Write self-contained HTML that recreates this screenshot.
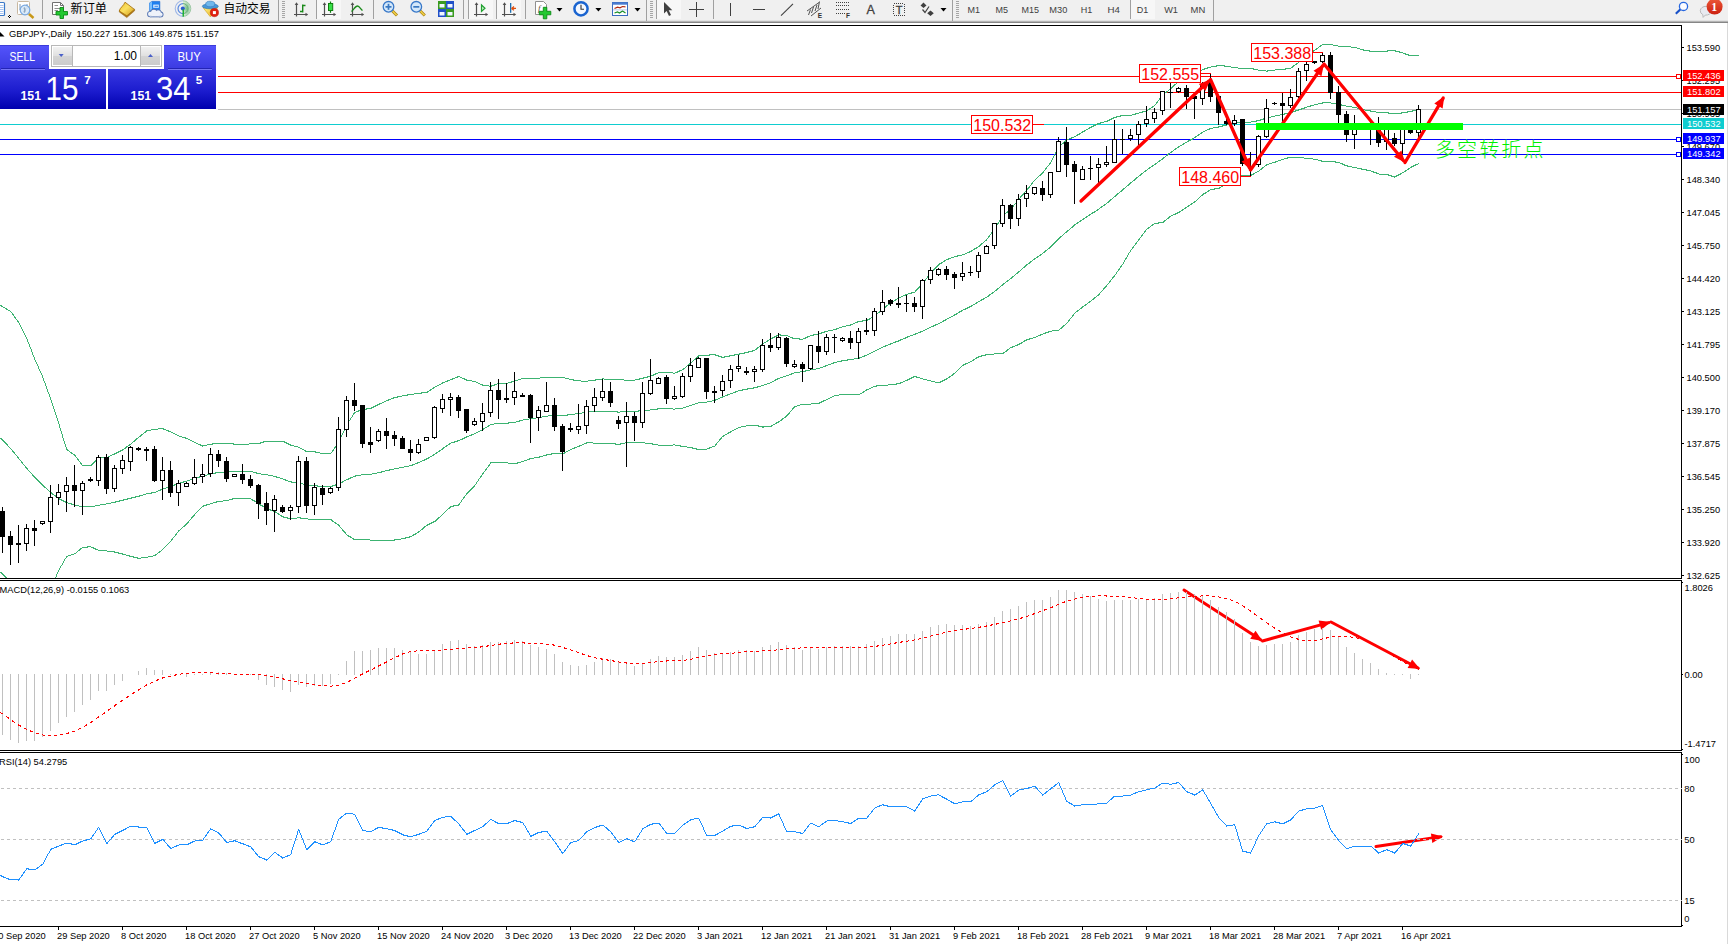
<!DOCTYPE html>
<html><head><meta charset="utf-8"><title>GBPJPY Daily</title>
<style>
html,body{margin:0;padding:0;background:#fff;overflow:hidden}
body{width:1728px;height:944px;position:relative;font-family:'Liberation Sans', 'Noto Sans CJK SC', sans-serif}
svg{position:absolute;left:0;top:0}
text{white-space:pre}
</style></head><body>
<svg width="1728" height="944" viewBox="0 0 1728 944" shape-rendering="crispEdges">
<rect x="0" y="0" width="1728" height="944" fill="#fff"/>
<rect x="0" y="76" width="1681" height="1" fill="#ff0000"/>
<rect x="0" y="92" width="1681" height="1" fill="#ff0000"/>
<rect x="0" y="109" width="1681" height="1" fill="#c0c0c0"/>
<rect x="0" y="124" width="1681" height="1" fill="#0fcdd0"/>
<rect x="0" y="139" width="1681" height="1" fill="#0000ff"/>
<rect x="0" y="154" width="1681" height="1" fill="#0000ff"/>
<clipPath id="cm"><rect x="0" y="26" width="1681" height="552"/></clipPath>
<g clip-path="url(#cm)">
<path d="M0.5 305v1M1.5 305v2M2.5 306v1M3.5 307v1M4.5 307v1M5.5 308v1M6.5 308v2M7.5 309v1M8.5 310v1M9.5 310v1M10.5 311v1M11.5 312v1M12.5 313v2M13.5 314v2M14.5 316v2M15.5 317v2M16.5 319v1M17.5 320v2M18.5 321v2M19.5 323v2M20.5 325v2M21.5 327v2M22.5 329v2M23.5 331v2M24.5 333v2M25.5 335v2M26.5 337v2M27.5 339v3M28.5 342v2M29.5 344v3M30.5 347v2M31.5 349v3M32.5 352v3M33.5 355v2M34.5 357v3M35.5 360v2M36.5 362v2M37.5 364v2M38.5 366v3M39.5 369v2M40.5 371v2M41.5 373v2M42.5 375v3M43.5 378v3M44.5 381v2M45.5 383v3M46.5 386v3M47.5 389v3M48.5 392v2M49.5 394v3M50.5 397v3M51.5 400v3M52.5 403v3M53.5 406v3M54.5 409v3M55.5 412v3M56.5 415v3M57.5 418v3M58.5 421v3M59.5 424v4M60.5 428v3M61.5 431v3M62.5 434v4M63.5 438v3M64.5 441v3M65.5 444v3M66.5 447v3M67.5 449v2M68.5 450v1M69.5 451v1M70.5 452v1M71.5 452v2M72.5 453v1M73.5 454v1M74.5 454v2M75.5 455v2M76.5 457v1M77.5 458v2M78.5 459v2M79.5 461v1M80.5 462v2M81.5 463v2M82.5 465v1M83.5 465v1M84.5 465v1M85.5 465v1M86.5 465v1M87.5 465v1M88.5 465v1M89.5 465v1M90.5 465v1M91.5 464v2M92.5 463v2M93.5 462v2M94.5 461v2M95.5 460v2M96.5 459v2M97.5 459v1M98.5 458v1M99.5 458v1M100.5 457v1M101.5 457v1M102.5 457v1M103.5 457v1M104.5 457v1M105.5 457v1M106.5 457v1M107.5 457v1M108.5 456v1M109.5 456v1M110.5 455v1M111.5 455v1M112.5 454v1M113.5 454v1M114.5 453v2M115.5 453v1M116.5 452v2M117.5 452v1M118.5 451v2M119.5 451v1M120.5 450v2M121.5 450v1M122.5 449v2M123.5 449v1M124.5 448v1M125.5 447v2M126.5 446v2M127.5 446v1M128.5 445v1M129.5 444v2M130.5 444v1M131.5 443v1M132.5 442v1M133.5 441v1M134.5 440v2M135.5 439v2M136.5 438v2M137.5 438v1M138.5 437v1M139.5 436v1M140.5 435v2M141.5 434v2M142.5 434v1M143.5 433v1M144.5 432v1M145.5 431v2M146.5 430v2M147.5 430v1M148.5 430v1M149.5 430v1M150.5 430v1M151.5 429v1M152.5 429v1M153.5 429v1M154.5 429v1M155.5 429v1M156.5 429v1M157.5 429v1M158.5 428v1M159.5 428v1M160.5 428v1M161.5 428v1M162.5 428v1M163.5 428v2M164.5 429v1M165.5 429v1M166.5 430v1M167.5 430v1M168.5 430v2M169.5 431v1M170.5 431v1M171.5 432v1M172.5 432v1M173.5 433v1M174.5 433v1M175.5 434v1M176.5 434v1M177.5 435v1M178.5 435v1M179.5 436v1M180.5 436v1M181.5 436v1M182.5 437v1M183.5 437v1M184.5 437v1M185.5 437v2M186.5 438v1M187.5 438v1M188.5 439v1M189.5 439v1M190.5 440v1M191.5 440v1M192.5 441v1M193.5 441v1M194.5 442v1M195.5 442v1M196.5 443v1M197.5 443v1M198.5 444v1M199.5 444v1M200.5 444v2M201.5 445v1M202.5 445v2M203.5 445v1M204.5 445v1M205.5 445v1M206.5 445v1M207.5 444v1M208.5 444v1M209.5 444v1M210.5 444v1M211.5 444v1M212.5 443v2M213.5 443v1M214.5 443v1M215.5 443v1M216.5 443v1M217.5 443v1M218.5 443v1M219.5 443v1M220.5 443v1M221.5 443v1M222.5 443v1M223.5 443v1M224.5 443v1M225.5 443v1M226.5 443v1M227.5 443v1M228.5 443v1M229.5 443v1M230.5 443v1M231.5 443v1M232.5 443v1M233.5 443v2M234.5 444v1M235.5 444v1M236.5 444v1M237.5 444v1M238.5 444v1M239.5 444v1M240.5 444v1M241.5 444v1M242.5 444v1M243.5 444v1M244.5 444v1M245.5 444v1M246.5 444v1M247.5 444v1M248.5 444v1M249.5 443v1M250.5 443v1M251.5 443v1M252.5 443v1M253.5 443v1M254.5 443v1M255.5 443v1M256.5 443v1M257.5 443v1M258.5 443v1M259.5 443v1M260.5 442v2M261.5 442v1M262.5 442v1M263.5 441v2M264.5 441v1M265.5 441v1M266.5 441v1M267.5 441v1M268.5 441v1M269.5 441v1M270.5 441v1M271.5 441v1M272.5 441v1M273.5 441v1M274.5 441v1M275.5 441v1M276.5 441v1M277.5 441v1M278.5 441v1M279.5 441v1M280.5 441v1M281.5 441v1M282.5 441v1M283.5 441v1M284.5 441v2M285.5 442v1M286.5 442v2M287.5 443v1M288.5 443v2M289.5 444v1M290.5 444v2M291.5 445v1M292.5 445v1M293.5 445v1M294.5 446v1M295.5 446v1M296.5 446v1M297.5 446v1M298.5 447v1M299.5 447v1M300.5 448v1M301.5 448v1M302.5 449v1M303.5 449v1M304.5 450v1M305.5 450v2M306.5 451v1M307.5 451v1M308.5 451v1M309.5 451v1M310.5 451v1M311.5 451v1M312.5 451v1M313.5 451v1M314.5 451v1M315.5 451v2M316.5 452v1M317.5 452v1M318.5 452v1M319.5 452v1M320.5 453v1M321.5 453v1M322.5 453v1M323.5 453v1M324.5 453v1M325.5 453v1M326.5 453v1M327.5 453v1M328.5 453v1M329.5 453v1M330.5 453v1M331.5 452v1M332.5 450v2M333.5 449v2M334.5 447v2M335.5 446v2M336.5 445v1M337.5 443v2M338.5 442v2M339.5 440v2M340.5 437v3M341.5 435v2M342.5 433v2M343.5 431v2M344.5 428v3M345.5 426v2M346.5 424v2M347.5 423v1M348.5 421v2M349.5 420v1M350.5 418v2M351.5 417v1M352.5 415v2M353.5 413v2M354.5 412v2M355.5 412v1M356.5 411v1M357.5 411v1M358.5 410v2M359.5 410v1M360.5 410v1M361.5 409v2M362.5 409v1M363.5 409v1M364.5 409v1M365.5 409v1M366.5 408v2M367.5 408v1M368.5 408v1M369.5 408v1M370.5 408v1M371.5 407v2M372.5 407v1M373.5 406v2M374.5 406v1M375.5 405v2M376.5 405v1M377.5 404v2M378.5 404v1M379.5 403v2M380.5 403v1M381.5 403v1M382.5 402v1M383.5 402v1M384.5 401v1M385.5 401v1M386.5 400v1M387.5 400v1M388.5 399v2M389.5 399v1M390.5 399v1M391.5 398v1M392.5 398v1M393.5 397v2M394.5 397v1M395.5 397v1M396.5 397v1M397.5 396v2M398.5 396v1M399.5 396v1M400.5 396v1M401.5 396v1M402.5 395v1M403.5 395v1M404.5 395v1M405.5 395v1M406.5 395v1M407.5 394v2M408.5 394v1M409.5 394v1M410.5 394v1M411.5 394v1M412.5 394v1M413.5 394v1M414.5 393v1M415.5 393v1M416.5 393v1M417.5 393v1M418.5 393v1M419.5 393v1M420.5 393v1M421.5 392v2M422.5 392v1M423.5 392v1M424.5 392v1M425.5 392v1M426.5 392v1M427.5 391v2M428.5 391v1M429.5 390v1M430.5 389v2M431.5 389v1M432.5 388v1M433.5 387v2M434.5 387v1M435.5 386v1M436.5 386v1M437.5 385v1M438.5 385v1M439.5 384v1M440.5 384v1M441.5 383v1M442.5 382v2M443.5 382v1M444.5 382v1M445.5 381v1M446.5 381v1M447.5 380v2M448.5 380v1M449.5 380v1M450.5 379v1M451.5 379v1M452.5 378v2M453.5 378v1M454.5 378v1M455.5 377v1M456.5 377v1M457.5 376v2M458.5 376v1M459.5 376v1M460.5 377v1M461.5 377v1M462.5 378v1M463.5 378v1M464.5 378v2M465.5 379v1M466.5 379v2M467.5 380v1M468.5 380v1M469.5 380v1M470.5 380v1M471.5 380v1M472.5 381v1M473.5 381v1M474.5 381v1M475.5 381v1M476.5 382v1M477.5 382v1M478.5 383v1M479.5 383v1M480.5 384v1M481.5 384v1M482.5 384v2M483.5 385v1M484.5 385v1M485.5 385v1M486.5 385v1M487.5 385v1M488.5 385v1M489.5 386v1M490.5 386v1M491.5 385v2M492.5 385v1M493.5 385v1M494.5 384v2M495.5 384v1M496.5 384v1M497.5 383v1M498.5 383v1M499.5 383v1M500.5 383v1M501.5 383v1M502.5 383v1M503.5 383v1M504.5 383v1M505.5 383v1M506.5 383v1M507.5 383v1M508.5 382v1M509.5 382v1M510.5 382v1M511.5 381v2M512.5 381v1M513.5 381v1M514.5 380v2M515.5 380v1M516.5 380v1M517.5 380v1M518.5 379v1M519.5 379v1M520.5 379v1M521.5 378v1M522.5 378v1M523.5 378v1M524.5 378v1M525.5 378v1M526.5 378v1M527.5 378v1M528.5 378v1M529.5 378v1M530.5 378v1M531.5 378v1M532.5 378v1M533.5 378v1M534.5 378v1M535.5 378v1M536.5 378v1M537.5 378v1M538.5 378v1M539.5 378v1M540.5 377v1M541.5 377v1M542.5 377v1M543.5 377v1M544.5 377v1M545.5 377v1M546.5 377v1M547.5 377v1M548.5 377v1M549.5 377v1M550.5 377v1M551.5 377v1M552.5 377v1M553.5 377v1M554.5 377v1M555.5 377v1M556.5 377v1M557.5 377v1M558.5 377v1M559.5 377v1M560.5 377v1M561.5 377v1M562.5 377v1M563.5 377v1M564.5 377v1M565.5 378v1M566.5 378v1M567.5 378v1M568.5 378v1M569.5 379v1M570.5 379v1M571.5 379v1M572.5 379v1M573.5 379v2M574.5 380v1M575.5 380v1M576.5 380v1M577.5 380v1M578.5 380v1M579.5 380v1M580.5 380v1M581.5 381v1M582.5 381v1M583.5 381v1M584.5 381v1M585.5 381v1M586.5 381v1M587.5 381v1M588.5 380v1M589.5 380v1M590.5 380v1M591.5 380v1M592.5 380v1M593.5 380v1M594.5 380v1M595.5 379v2M596.5 379v1M597.5 379v1M598.5 379v1M599.5 379v1M600.5 379v1M601.5 379v1M602.5 378v1M603.5 378v1M604.5 379v1M605.5 379v1M606.5 379v1M607.5 379v1M608.5 379v1M609.5 379v1M610.5 379v1M611.5 379v1M612.5 379v1M613.5 379v1M614.5 379v1M615.5 379v1M616.5 379v1M617.5 379v1M618.5 379v1M619.5 379v1M620.5 379v1M621.5 379v1M622.5 379v1M623.5 379v1M624.5 380v1M625.5 380v1M626.5 380v1M627.5 380v1M628.5 380v1M629.5 380v1M630.5 380v1M631.5 380v1M632.5 380v1M633.5 380v1M634.5 380v1M635.5 379v1M636.5 379v1M637.5 379v1M638.5 379v1M639.5 378v2M640.5 378v1M641.5 378v1M642.5 378v1M643.5 377v2M644.5 377v1M645.5 377v1M646.5 377v1M647.5 376v2M648.5 376v1M649.5 376v1M650.5 376v1M651.5 375v1M652.5 375v1M653.5 374v2M654.5 374v1M655.5 373v2M656.5 373v1M657.5 373v1M658.5 372v1M659.5 372v1M660.5 372v1M661.5 372v1M662.5 372v1M663.5 372v1M664.5 372v1M665.5 372v1M666.5 372v1M667.5 372v1M668.5 372v1M669.5 372v1M670.5 372v1M671.5 372v1M672.5 372v1M673.5 373v1M674.5 373v1M675.5 372v1M676.5 372v1M677.5 371v2M678.5 371v1M679.5 370v2M680.5 370v1M681.5 370v1M682.5 369v1M683.5 368v2M684.5 368v1M685.5 367v1M686.5 366v1M687.5 365v1M688.5 364v2M689.5 363v2M690.5 363v1M691.5 362v1M692.5 361v1M693.5 360v1M694.5 359v1M695.5 358v2M696.5 357v2M697.5 356v2M698.5 355v2M699.5 355v1M700.5 355v1M701.5 355v1M702.5 355v1M703.5 355v1M704.5 355v1M705.5 355v1M706.5 355v1M707.5 355v1M708.5 355v1M709.5 354v2M710.5 354v1M711.5 354v1M712.5 354v1M713.5 354v1M714.5 354v1M715.5 354v2M716.5 355v1M717.5 355v1M718.5 355v2M719.5 356v1M720.5 356v1M721.5 356v2M722.5 357v1M723.5 357v1M724.5 356v2M725.5 356v1M726.5 356v1M727.5 356v1M728.5 356v1M729.5 355v2M730.5 355v1M731.5 355v1M732.5 355v1M733.5 355v1M734.5 354v2M735.5 354v1M736.5 354v1M737.5 354v1M738.5 354v1M739.5 353v2M740.5 353v1M741.5 353v1M742.5 353v1M743.5 353v1M744.5 352v2M745.5 352v1M746.5 352v1M747.5 352v1M748.5 351v2M749.5 351v1M750.5 351v1M751.5 351v1M752.5 350v2M753.5 350v1M754.5 350v1M755.5 349v1M756.5 348v2M757.5 347v2M758.5 347v1M759.5 346v1M760.5 345v1M761.5 344v2M762.5 343v2M763.5 343v1M764.5 342v1M765.5 342v1M766.5 341v1M767.5 340v2M768.5 340v1M769.5 339v1M770.5 338v2M771.5 338v1M772.5 337v2M773.5 337v1M774.5 336v2M775.5 336v1M776.5 335v2M777.5 335v1M778.5 334v2M779.5 334v1M780.5 334v2M781.5 335v1M782.5 335v1M783.5 335v1M784.5 335v1M785.5 335v1M786.5 335v1M787.5 335v1M788.5 336v1M789.5 336v1M790.5 337v1M791.5 337v1M792.5 337v2M793.5 338v1M794.5 338v1M795.5 338v1M796.5 338v1M797.5 338v1M798.5 338v1M799.5 338v2M800.5 339v1M801.5 339v1M802.5 339v1M803.5 338v1M804.5 338v1M805.5 337v2M806.5 337v1M807.5 336v2M808.5 336v1M809.5 336v1M810.5 335v1M811.5 335v1M812.5 335v1M813.5 334v2M814.5 334v1M815.5 334v1M816.5 334v1M817.5 334v1M818.5 333v1M819.5 333v1M820.5 333v1M821.5 332v2M822.5 332v1M823.5 332v1M824.5 331v2M825.5 331v1M826.5 331v1M827.5 331v1M828.5 330v1M829.5 330v1M830.5 330v1M831.5 330v1M832.5 330v1M833.5 329v1M834.5 329v1M835.5 329v1M836.5 328v2M837.5 328v1M838.5 328v1M839.5 327v1M840.5 327v1M841.5 327v1M842.5 326v1M843.5 326v1M844.5 326v1M845.5 326v1M846.5 325v1M847.5 325v1M848.5 325v1M849.5 325v1M850.5 324v2M851.5 324v1M852.5 324v1M853.5 323v1M854.5 323v1M855.5 322v1M856.5 322v1M857.5 321v2M858.5 321v1M859.5 321v1M860.5 321v1M861.5 321v1M862.5 320v2M863.5 320v1M864.5 320v1M865.5 320v1M866.5 320v1M867.5 319v2M868.5 319v1M869.5 318v2M870.5 318v1M871.5 317v1M872.5 317v1M873.5 316v1M874.5 316v1M875.5 315v1M876.5 314v1M877.5 313v1M878.5 312v1M879.5 311v2M880.5 310v2M881.5 309v2M882.5 308v2M883.5 308v1M884.5 307v1M885.5 306v2M886.5 305v2M887.5 305v1M888.5 304v1M889.5 303v2M890.5 302v2M891.5 302v1M892.5 301v2M893.5 301v1M894.5 300v1M895.5 299v2M896.5 299v1M897.5 298v1M898.5 298v1M899.5 297v1M900.5 297v1M901.5 296v1M902.5 296v1M903.5 295v1M904.5 295v1M905.5 294v2M906.5 294v1M907.5 294v1M908.5 293v1M909.5 293v1M910.5 293v1M911.5 292v2M912.5 292v1M913.5 292v1M914.5 292v1M915.5 290v2M916.5 289v2M917.5 288v2M918.5 287v2M919.5 286v2M920.5 285v1M921.5 284v1M922.5 283v1M923.5 281v2M924.5 280v2M925.5 279v2M926.5 278v1M927.5 276v2M928.5 275v2M929.5 274v2M930.5 273v1M931.5 272v1M932.5 271v1M933.5 269v2M934.5 268v2M935.5 267v2M936.5 266v2M937.5 265v2M938.5 264v2M939.5 263v2M940.5 263v1M941.5 262v2M942.5 262v1M943.5 261v1M944.5 260v2M945.5 260v1M946.5 259v1M947.5 259v1M948.5 258v2M949.5 258v1M950.5 258v1M951.5 257v1M952.5 257v1M953.5 257v1M954.5 256v1M955.5 256v1M956.5 256v1M957.5 255v2M958.5 255v1M959.5 255v1M960.5 255v1M961.5 255v1M962.5 254v1M963.5 254v1M964.5 254v1M965.5 253v1M966.5 253v1M967.5 252v1M968.5 252v1M969.5 251v2M970.5 251v1M971.5 250v2M972.5 250v1M973.5 249v1M974.5 248v2M975.5 248v1M976.5 247v2M977.5 247v1M978.5 246v1M979.5 245v2M980.5 244v2M981.5 243v2M982.5 243v1M983.5 242v1M984.5 241v1M985.5 240v1M986.5 239v2M987.5 238v1M988.5 236v2M989.5 235v2M990.5 234v1M991.5 232v2M992.5 231v2M993.5 230v1M994.5 228v2M995.5 227v1M996.5 225v2M997.5 223v2M998.5 222v2M999.5 220v2M1000.5 218v2M1001.5 217v2M1002.5 215v2M1003.5 214v2M1004.5 214v1M1005.5 213v1M1006.5 212v1M1007.5 211v2M1008.5 210v2M1009.5 210v1M1010.5 209v1M1011.5 208v1M1012.5 206v2M1013.5 205v2M1014.5 204v1M1015.5 203v1M1016.5 201v2M1017.5 200v2M1018.5 199v1M1019.5 198v1M1020.5 196v2M1021.5 195v2M1022.5 194v2M1023.5 193v2M1024.5 192v2M1025.5 191v1M1026.5 190v1M1027.5 188v2M1028.5 187v2M1029.5 186v2M1030.5 185v1M1031.5 183v2M1032.5 182v2M1033.5 181v1M1034.5 180v1M1035.5 179v1M1036.5 178v1M1037.5 177v1M1038.5 176v1M1039.5 175v1M1040.5 174v2M1041.5 173v2M1042.5 172v2M1043.5 171v2M1044.5 170v1M1045.5 168v2M1046.5 167v2M1047.5 166v1M1048.5 165v1M1049.5 163v2M1050.5 162v2M1051.5 160v2M1052.5 158v2M1053.5 156v2M1054.5 154v2M1055.5 152v2M1056.5 150v2M1057.5 149v1M1058.5 147v2M1059.5 146v1M1060.5 145v1M1061.5 144v1M1062.5 143v1M1063.5 142v2M1064.5 141v2M1065.5 140v2M1066.5 139v2M1067.5 139v1M1068.5 139v1M1069.5 138v1M1070.5 138v1M1071.5 137v2M1072.5 137v1M1073.5 137v1M1074.5 136v1M1075.5 136v1M1076.5 135v1M1077.5 134v2M1078.5 134v1M1079.5 133v2M1080.5 133v1M1081.5 132v1M1082.5 131v2M1083.5 131v1M1084.5 130v2M1085.5 130v1M1086.5 129v1M1087.5 129v1M1088.5 128v1M1089.5 127v2M1090.5 127v1M1091.5 126v2M1092.5 126v1M1093.5 125v2M1094.5 125v1M1095.5 124v2M1096.5 124v1M1097.5 123v2M1098.5 123v1M1099.5 123v1M1100.5 122v2M1101.5 122v1M1102.5 122v1M1103.5 122v1M1104.5 121v1M1105.5 121v1M1106.5 121v1M1107.5 120v2M1108.5 120v1M1109.5 119v2M1110.5 119v1M1111.5 118v2M1112.5 118v1M1113.5 117v2M1114.5 117v1M1115.5 117v1M1116.5 116v2M1117.5 116v1M1118.5 116v1M1119.5 116v1M1120.5 115v2M1121.5 115v1M1122.5 115v1M1123.5 115v1M1124.5 115v1M1125.5 115v1M1126.5 115v1M1127.5 115v1M1128.5 115v1M1129.5 115v1M1130.5 115v1M1131.5 115v1M1132.5 114v1M1133.5 114v1M1134.5 114v1M1135.5 113v2M1136.5 113v1M1137.5 113v1M1138.5 113v1M1139.5 112v1M1140.5 112v1M1141.5 112v1M1142.5 111v2M1143.5 111v1M1144.5 111v1M1145.5 111v1M1146.5 110v1M1147.5 110v1M1148.5 109v1M1149.5 108v2M1150.5 108v1M1151.5 107v1M1152.5 106v2M1153.5 106v1M1154.5 105v1M1155.5 104v1M1156.5 102v2M1157.5 101v2M1158.5 100v1M1159.5 98v2M1160.5 97v2M1161.5 96v1M1162.5 94v2M1163.5 94v1M1164.5 93v1M1165.5 92v1M1166.5 91v2M1167.5 91v1M1168.5 90v1M1169.5 89v1M1170.5 88v2M1171.5 87v2M1172.5 86v2M1173.5 85v2M1174.5 84v2M1175.5 84v1M1176.5 83v1M1177.5 82v1M1178.5 81v1M1179.5 80v1M1180.5 80v1M1181.5 79v1M1182.5 79v1M1183.5 78v1M1184.5 77v2M1185.5 77v1M1186.5 76v2M1187.5 76v1M1188.5 75v2M1189.5 75v1M1190.5 75v1M1191.5 74v1M1192.5 74v1M1193.5 73v1M1194.5 73v1M1195.5 72v2M1196.5 72v1M1197.5 71v2M1198.5 71v1M1199.5 71v1M1200.5 70v1M1201.5 70v1M1202.5 69v1M1203.5 69v1M1204.5 68v2M1205.5 68v1M1206.5 68v1M1207.5 67v2M1208.5 67v1M1209.5 67v1M1210.5 67v1M1211.5 66v1M1212.5 66v1M1213.5 66v1M1214.5 66v1M1215.5 66v1M1216.5 65v2M1217.5 65v1M1218.5 65v1M1219.5 65v1M1220.5 65v1M1221.5 65v1M1222.5 65v1M1223.5 65v1M1224.5 65v2M1225.5 66v1M1226.5 66v1M1227.5 66v1M1228.5 66v1M1229.5 66v1M1230.5 66v1M1231.5 67v1M1232.5 67v1M1233.5 67v1M1234.5 67v1M1235.5 67v1M1236.5 67v1M1237.5 67v1M1238.5 68v1M1239.5 68v1M1240.5 68v1M1241.5 68v1M1242.5 68v1M1243.5 68v1M1244.5 68v1M1245.5 68v1M1246.5 68v1M1247.5 68v1M1248.5 68v1M1249.5 68v1M1250.5 68v1M1251.5 68v1M1252.5 68v1M1253.5 68v2M1254.5 69v1M1255.5 69v1M1256.5 69v1M1257.5 69v1M1258.5 70v1M1259.5 70v1M1260.5 70v1M1261.5 70v1M1262.5 70v1M1263.5 70v1M1264.5 70v1M1265.5 70v1M1266.5 71v1M1267.5 70v2M1268.5 70v1M1269.5 70v1M1270.5 70v1M1271.5 70v1M1272.5 70v1M1273.5 70v1M1274.5 70v1M1275.5 69v1M1276.5 69v1M1277.5 69v1M1278.5 69v1M1279.5 69v1M1280.5 69v1M1281.5 69v1M1282.5 69v1M1283.5 69v1M1284.5 69v1M1285.5 68v2M1286.5 68v1M1287.5 68v1M1288.5 68v1M1289.5 68v1M1290.5 68v1M1291.5 67v1M1292.5 66v2M1293.5 65v2M1294.5 65v1M1295.5 64v1M1296.5 63v2M1297.5 63v1M1298.5 62v1M1299.5 61v1M1300.5 60v2M1301.5 59v2M1302.5 59v1M1303.5 58v1M1304.5 57v1M1305.5 56v2M1306.5 55v2M1307.5 55v1M1308.5 54v1M1309.5 53v2M1310.5 53v1M1311.5 52v1M1312.5 51v1M1313.5 50v2M1314.5 50v1M1315.5 49v1M1316.5 48v2M1317.5 48v1M1318.5 47v1M1319.5 46v1M1320.5 45v2M1321.5 45v1M1322.5 44v1M1323.5 44v1M1324.5 44v1M1325.5 44v1M1326.5 44v1M1327.5 44v1M1328.5 44v1M1329.5 44v1M1330.5 44v1M1331.5 44v1M1332.5 44v1M1333.5 45v1M1334.5 45v1M1335.5 45v1M1336.5 45v1M1337.5 45v1M1338.5 46v1M1339.5 46v1M1340.5 46v1M1341.5 46v1M1342.5 46v1M1343.5 46v1M1344.5 46v1M1345.5 46v1M1346.5 46v1M1347.5 46v1M1348.5 46v1M1349.5 46v1M1350.5 46v1M1351.5 47v1M1352.5 47v1M1353.5 47v1M1354.5 47v1M1355.5 47v1M1356.5 47v1M1357.5 48v1M1358.5 48v1M1359.5 48v1M1360.5 49v1M1361.5 49v1M1362.5 49v1M1363.5 49v2M1364.5 50v1M1365.5 50v1M1366.5 50v1M1367.5 50v1M1368.5 50v1M1369.5 50v2M1370.5 51v1M1371.5 51v1M1372.5 51v1M1373.5 51v1M1374.5 51v1M1375.5 51v1M1376.5 51v1M1377.5 51v1M1378.5 51v1M1379.5 51v1M1380.5 51v1M1381.5 51v1M1382.5 51v1M1383.5 51v1M1384.5 51v1M1385.5 51v1M1386.5 51v1M1387.5 50v2M1388.5 50v1M1389.5 50v1M1390.5 50v1M1391.5 50v1M1392.5 50v1M1393.5 50v1M1394.5 50v1M1395.5 50v2M1396.5 51v1M1397.5 51v1M1398.5 51v1M1399.5 51v2M1400.5 52v1M1401.5 52v1M1402.5 52v1M1403.5 53v1M1404.5 53v1M1405.5 53v2M1406.5 54v1M1407.5 54v1M1408.5 54v2M1409.5 55v1M1410.5 55v1M1411.5 55v1M1412.5 55v1M1413.5 55v1M1414.5 55v1M1415.5 55v1M1416.5 55v1M1417.5 55v1M1418.5 55v1" fill="none" stroke="#3cb371" stroke-width="1"/>
<path d="M0.5 438v1M1.5 438v2M2.5 439v2M3.5 440v2M4.5 441v2M5.5 442v2M6.5 443v2M7.5 444v2M8.5 446v1M9.5 447v1M10.5 448v1M11.5 449v1M12.5 450v2M13.5 451v2M14.5 452v2M15.5 454v1M16.5 455v1M17.5 456v2M18.5 457v2M19.5 459v1M20.5 460v1M21.5 461v2M22.5 462v2M23.5 464v1M24.5 465v1M25.5 466v2M26.5 467v2M27.5 468v2M28.5 470v1M29.5 471v1M30.5 472v1M31.5 473v1M32.5 474v2M33.5 475v2M34.5 476v2M35.5 477v2M36.5 478v2M37.5 479v2M38.5 480v2M39.5 481v2M40.5 482v2M41.5 483v2M42.5 484v2M43.5 485v2M44.5 486v2M45.5 487v1M46.5 488v1M47.5 489v1M48.5 490v1M49.5 491v1M50.5 492v1M51.5 492v2M52.5 493v2M53.5 494v1M54.5 495v1M55.5 495v2M56.5 496v2M57.5 497v1M58.5 498v1M59.5 498v2M60.5 499v1M61.5 499v2M62.5 500v1M63.5 500v2M64.5 501v1M65.5 501v2M66.5 502v1M67.5 502v1M68.5 503v1M69.5 503v1M70.5 503v1M71.5 503v2M72.5 504v1M73.5 504v1M74.5 504v2M75.5 505v1M76.5 505v1M77.5 505v1M78.5 505v1M79.5 506v1M80.5 506v1M81.5 506v1M82.5 506v1M83.5 506v1M84.5 506v1M85.5 506v1M86.5 506v1M87.5 506v1M88.5 506v1M89.5 506v1M90.5 506v1M91.5 506v1M92.5 506v1M93.5 506v1M94.5 506v1M95.5 505v1M96.5 505v1M97.5 505v1M98.5 505v1M99.5 505v1M100.5 504v1M101.5 504v1M102.5 504v1M103.5 504v1M104.5 504v1M105.5 504v1M106.5 503v1M107.5 503v1M108.5 503v1M109.5 503v1M110.5 503v1M111.5 502v1M112.5 502v1M113.5 502v1M114.5 502v1M115.5 501v2M116.5 501v1M117.5 501v1M118.5 501v1M119.5 500v2M120.5 500v1M121.5 500v1M122.5 500v1M123.5 499v2M124.5 499v1M125.5 499v1M126.5 499v1M127.5 498v2M128.5 498v1M129.5 498v1M130.5 498v1M131.5 497v2M132.5 497v1M133.5 497v1M134.5 497v1M135.5 496v2M136.5 496v1M137.5 496v1M138.5 496v1M139.5 495v2M140.5 495v1M141.5 495v1M142.5 495v1M143.5 494v1M144.5 494v1M145.5 494v1M146.5 493v1M147.5 493v1M148.5 493v1M149.5 493v1M150.5 493v1M151.5 492v2M152.5 492v1M153.5 492v1M154.5 492v1M155.5 492v1M156.5 491v1M157.5 491v1M158.5 490v1M159.5 490v1M160.5 489v2M161.5 489v1M162.5 489v1M163.5 488v1M164.5 488v1M165.5 488v1M166.5 487v1M167.5 487v1M168.5 487v1M169.5 486v1M170.5 486v1M171.5 486v1M172.5 485v1M173.5 485v1M174.5 484v2M175.5 484v1M176.5 484v1M177.5 483v1M178.5 483v1M179.5 483v1M180.5 482v1M181.5 482v1M182.5 482v1M183.5 481v2M184.5 481v1M185.5 481v1M186.5 481v1M187.5 480v1M188.5 480v1M189.5 480v1M190.5 479v1M191.5 479v1M192.5 479v1M193.5 478v1M194.5 478v1M195.5 478v1M196.5 477v2M197.5 477v1M198.5 477v1M199.5 476v2M200.5 476v1M201.5 476v1M202.5 476v1M203.5 475v1M204.5 475v1M205.5 475v1M206.5 475v1M207.5 474v1M208.5 474v1M209.5 474v1M210.5 473v2M211.5 473v1M212.5 473v1M213.5 473v1M214.5 473v1M215.5 472v2M216.5 472v1M217.5 472v1M218.5 472v1M219.5 472v1M220.5 472v1M221.5 472v1M222.5 472v1M223.5 472v1M224.5 472v1M225.5 472v1M226.5 472v1M227.5 471v2M228.5 471v1M229.5 471v1M230.5 471v1M231.5 471v1M232.5 471v1M233.5 471v1M234.5 471v1M235.5 471v1M236.5 471v1M237.5 471v1M238.5 471v1M239.5 471v1M240.5 471v1M241.5 471v1M242.5 471v1M243.5 471v1M244.5 471v1M245.5 471v1M246.5 471v1M247.5 471v1M248.5 471v1M249.5 471v1M250.5 471v1M251.5 471v1M252.5 471v1M253.5 472v1M254.5 472v1M255.5 472v1M256.5 472v2M257.5 473v1M258.5 473v1M259.5 473v1M260.5 473v1M261.5 474v1M262.5 474v1M263.5 474v1M264.5 474v1M265.5 474v1M266.5 474v1M267.5 474v1M268.5 475v1M269.5 475v1M270.5 475v1M271.5 475v1M272.5 475v1M273.5 476v1M274.5 476v1M275.5 476v1M276.5 476v2M277.5 477v1M278.5 477v1M279.5 477v1M280.5 478v1M281.5 478v1M282.5 478v1M283.5 479v1M284.5 479v1M285.5 479v2M286.5 480v1M287.5 480v1M288.5 481v1M289.5 481v1M290.5 481v1M291.5 481v2M292.5 482v1M293.5 482v1M294.5 482v1M295.5 482v1M296.5 482v1M297.5 482v1M298.5 482v1M299.5 482v1M300.5 483v1M301.5 483v1M302.5 483v1M303.5 484v1M304.5 484v1M305.5 484v1M306.5 485v1M307.5 485v1M308.5 485v1M309.5 485v1M310.5 485v1M311.5 485v1M312.5 485v1M313.5 485v1M314.5 485v1M315.5 485v1M316.5 485v1M317.5 485v2M318.5 486v1M319.5 486v1M320.5 486v1M321.5 486v1M322.5 486v1M323.5 486v1M324.5 486v1M325.5 486v1M326.5 486v1M327.5 486v1M328.5 486v1M329.5 486v1M330.5 486v1M331.5 486v1M332.5 485v2M333.5 485v1M334.5 485v1M335.5 484v2M336.5 484v1M337.5 484v1M338.5 483v2M339.5 483v1M340.5 482v2M341.5 482v1M342.5 481v2M343.5 481v1M344.5 480v1M345.5 480v1M346.5 479v1M347.5 479v1M348.5 478v2M349.5 478v1M350.5 477v2M351.5 477v1M352.5 477v1M353.5 476v1M354.5 476v1M355.5 475v2M356.5 475v1M357.5 475v1M358.5 475v1M359.5 475v1M360.5 475v1M361.5 474v1M362.5 474v1M363.5 474v1M364.5 474v1M365.5 474v1M366.5 474v1M367.5 474v1M368.5 474v1M369.5 474v1M370.5 474v1M371.5 474v1M372.5 473v1M373.5 473v1M374.5 473v1M375.5 473v1M376.5 473v1M377.5 472v1M378.5 472v1M379.5 472v1M380.5 472v1M381.5 471v2M382.5 471v1M383.5 471v1M384.5 471v1M385.5 470v1M386.5 470v1M387.5 470v1M388.5 470v1M389.5 469v2M390.5 469v1M391.5 469v1M392.5 469v1M393.5 469v1M394.5 468v1M395.5 468v1M396.5 468v1M397.5 468v1M398.5 468v1M399.5 467v1M400.5 467v1M401.5 467v1M402.5 467v1M403.5 467v1M404.5 466v1M405.5 466v1M406.5 466v1M407.5 466v1M408.5 466v1M409.5 465v1M410.5 465v1M411.5 465v1M412.5 464v2M413.5 464v1M414.5 464v1M415.5 463v1M416.5 463v1M417.5 462v2M418.5 462v1M419.5 462v1M420.5 461v1M421.5 461v1M422.5 460v1M423.5 460v1M424.5 459v2M425.5 459v1M426.5 458v2M427.5 458v1M428.5 457v2M429.5 457v1M430.5 456v1M431.5 456v1M432.5 455v1M433.5 454v2M434.5 454v1M435.5 453v1M436.5 452v2M437.5 452v1M438.5 451v1M439.5 450v2M440.5 450v1M441.5 449v1M442.5 448v2M443.5 447v2M444.5 447v1M445.5 446v1M446.5 445v2M447.5 445v1M448.5 444v1M449.5 443v2M450.5 443v1M451.5 442v1M452.5 442v1M453.5 442v1M454.5 441v2M455.5 441v1M456.5 441v1M457.5 440v2M458.5 440v1M459.5 440v1M460.5 439v1M461.5 439v1M462.5 438v2M463.5 438v1M464.5 437v2M465.5 437v1M466.5 436v2M467.5 436v1M468.5 436v1M469.5 435v1M470.5 435v1M471.5 434v2M472.5 434v1M473.5 434v1M474.5 433v1M475.5 433v1M476.5 432v1M477.5 432v1M478.5 431v1M479.5 431v1M480.5 430v1M481.5 430v1M482.5 429v1M483.5 428v2M484.5 428v1M485.5 427v1M486.5 427v1M487.5 426v1M488.5 425v2M489.5 425v1M490.5 424v1M491.5 424v1M492.5 424v1M493.5 424v1M494.5 423v1M495.5 423v1M496.5 423v1M497.5 423v1M498.5 423v1M499.5 423v1M500.5 423v1M501.5 423v1M502.5 423v1M503.5 423v1M504.5 423v1M505.5 423v1M506.5 423v1M507.5 423v1M508.5 422v2M509.5 422v1M510.5 422v1M511.5 422v1M512.5 422v1M513.5 422v1M514.5 422v1M515.5 422v1M516.5 421v1M517.5 421v1M518.5 421v1M519.5 420v2M520.5 420v1M521.5 420v1M522.5 420v1M523.5 419v1M524.5 419v1M525.5 419v1M526.5 419v1M527.5 419v1M528.5 419v1M529.5 418v1M530.5 418v1M531.5 418v1M532.5 418v1M533.5 418v1M534.5 418v1M535.5 418v1M536.5 417v1M537.5 417v1M538.5 417v1M539.5 417v1M540.5 417v1M541.5 417v1M542.5 416v1M543.5 416v1M544.5 416v1M545.5 416v1M546.5 416v1M547.5 416v1M548.5 415v1M549.5 415v1M550.5 415v1M551.5 415v1M552.5 415v1M553.5 415v1M554.5 415v1M555.5 415v1M556.5 415v1M557.5 415v1M558.5 415v1M559.5 415v1M560.5 415v1M561.5 415v1M562.5 415v1M563.5 415v1M564.5 415v1M565.5 415v1M566.5 415v1M567.5 414v2M568.5 414v1M569.5 414v1M570.5 414v1M571.5 414v1M572.5 414v1M573.5 414v1M574.5 414v1M575.5 413v1M576.5 413v1M577.5 413v1M578.5 413v1M579.5 413v1M580.5 413v1M581.5 413v1M582.5 412v1M583.5 412v1M584.5 412v1M585.5 412v1M586.5 412v1M587.5 411v2M588.5 411v1M589.5 411v1M590.5 411v1M591.5 411v1M592.5 411v1M593.5 411v1M594.5 411v1M595.5 411v1M596.5 411v1M597.5 411v1M598.5 411v1M599.5 411v1M600.5 411v1M601.5 411v1M602.5 411v1M603.5 411v1M604.5 411v1M605.5 411v1M606.5 411v1M607.5 411v1M608.5 411v1M609.5 411v1M610.5 411v1M611.5 411v1M612.5 411v1M613.5 411v1M614.5 411v1M615.5 411v1M616.5 411v1M617.5 411v2M618.5 412v1M619.5 412v1M620.5 411v1M621.5 411v1M622.5 411v1M623.5 411v1M624.5 411v1M625.5 411v1M626.5 411v1M627.5 411v1M628.5 411v1M629.5 411v1M630.5 411v1M631.5 411v1M632.5 411v1M633.5 411v1M634.5 411v1M635.5 411v1M636.5 411v1M637.5 411v1M638.5 410v2M639.5 410v1M640.5 410v1M641.5 410v1M642.5 410v1M643.5 410v1M644.5 410v1M645.5 410v1M646.5 410v1M647.5 410v1M648.5 410v1M649.5 410v1M650.5 409v1M651.5 409v1M652.5 409v1M653.5 409v1M654.5 409v1M655.5 409v1M656.5 409v1M657.5 408v2M658.5 408v1M659.5 408v1M660.5 408v1M661.5 408v1M662.5 408v1M663.5 408v1M664.5 408v1M665.5 408v1M666.5 408v1M667.5 408v1M668.5 408v1M669.5 408v1M670.5 408v1M671.5 408v1M672.5 408v1M673.5 409v1M674.5 409v1M675.5 408v1M676.5 408v1M677.5 408v1M678.5 408v1M679.5 408v1M680.5 408v1M681.5 408v1M682.5 408v1M683.5 407v1M684.5 407v1M685.5 407v1M686.5 406v1M687.5 406v1M688.5 406v1M689.5 405v1M690.5 405v1M691.5 405v1M692.5 404v1M693.5 404v1M694.5 404v1M695.5 403v1M696.5 403v1M697.5 403v1M698.5 402v1M699.5 402v1M700.5 402v1M701.5 402v1M702.5 402v1M703.5 402v1M704.5 402v1M705.5 402v1M706.5 402v1M707.5 401v1M708.5 401v1M709.5 401v1M710.5 401v1M711.5 401v1M712.5 400v1M713.5 400v1M714.5 400v1M715.5 399v2M716.5 399v1M717.5 399v1M718.5 398v1M719.5 398v1M720.5 397v1M721.5 397v1M722.5 396v2M723.5 396v1M724.5 396v1M725.5 395v1M726.5 395v1M727.5 394v2M728.5 394v1M729.5 394v1M730.5 393v1M731.5 393v1M732.5 393v1M733.5 392v1M734.5 392v1M735.5 391v2M736.5 391v1M737.5 391v1M738.5 390v1M739.5 390v1M740.5 390v1M741.5 390v1M742.5 389v2M743.5 389v1M744.5 389v1M745.5 389v1M746.5 389v1M747.5 388v2M748.5 388v1M749.5 388v1M750.5 388v1M751.5 388v1M752.5 388v1M753.5 387v2M754.5 387v1M755.5 387v1M756.5 387v1M757.5 386v2M758.5 386v1M759.5 386v1M760.5 386v1M761.5 385v1M762.5 385v1M763.5 385v1M764.5 384v1M765.5 384v1M766.5 384v1M767.5 383v1M768.5 383v1M769.5 383v1M770.5 382v1M771.5 382v1M772.5 381v1M773.5 381v1M774.5 380v1M775.5 379v2M776.5 379v1M777.5 378v2M778.5 378v1M779.5 378v1M780.5 377v1M781.5 377v1M782.5 377v1M783.5 376v1M784.5 376v1M785.5 376v1M786.5 375v1M787.5 375v1M788.5 375v1M789.5 374v1M790.5 374v1M791.5 373v2M792.5 373v1M793.5 373v1M794.5 372v1M795.5 372v1M796.5 372v1M797.5 372v1M798.5 372v1M799.5 372v1M800.5 371v1M801.5 371v1M802.5 371v1M803.5 371v1M804.5 371v1M805.5 370v2M806.5 370v1M807.5 370v1M808.5 370v1M809.5 370v1M810.5 369v1M811.5 369v1M812.5 369v1M813.5 369v1M814.5 369v1M815.5 369v1M816.5 368v1M817.5 368v1M818.5 368v1M819.5 368v1M820.5 367v1M821.5 367v1M822.5 367v1M823.5 366v1M824.5 366v1M825.5 365v2M826.5 365v1M827.5 365v1M828.5 364v1M829.5 364v1M830.5 364v1M831.5 363v1M832.5 363v1M833.5 362v2M834.5 362v1M835.5 362v1M836.5 362v1M837.5 361v1M838.5 361v1M839.5 361v1M840.5 361v1M841.5 360v2M842.5 360v1M843.5 360v1M844.5 360v1M845.5 360v1M846.5 360v1M847.5 359v2M848.5 359v1M849.5 359v1M850.5 359v1M851.5 359v1M852.5 359v1M853.5 359v1M854.5 358v1M855.5 358v1M856.5 358v1M857.5 358v1M858.5 358v1M859.5 357v2M860.5 357v1M861.5 357v1M862.5 356v1M863.5 356v1M864.5 355v2M865.5 355v1M866.5 355v1M867.5 354v1M868.5 354v1M869.5 353v1M870.5 353v1M871.5 352v1M872.5 352v1M873.5 351v1M874.5 351v1M875.5 350v1M876.5 350v1M877.5 349v1M878.5 349v1M879.5 348v1M880.5 348v1M881.5 347v1M882.5 347v1M883.5 346v1M884.5 346v1M885.5 345v2M886.5 345v1M887.5 345v1M888.5 344v1M889.5 344v1M890.5 343v2M891.5 343v1M892.5 343v1M893.5 342v1M894.5 342v1M895.5 341v2M896.5 341v1M897.5 341v1M898.5 340v2M899.5 340v1M900.5 339v2M901.5 339v1M902.5 339v1M903.5 338v1M904.5 338v1M905.5 337v2M906.5 337v1M907.5 336v2M908.5 336v1M909.5 336v1M910.5 335v1M911.5 335v1M912.5 335v1M913.5 334v1M914.5 334v1M915.5 333v2M916.5 333v1M917.5 333v1M918.5 332v1M919.5 332v1M920.5 331v2M921.5 331v1M922.5 331v1M923.5 330v1M924.5 330v1M925.5 329v1M926.5 329v1M927.5 328v1M928.5 328v1M929.5 327v1M930.5 327v1M931.5 326v1M932.5 326v1M933.5 325v2M934.5 325v1M935.5 324v2M936.5 324v1M937.5 324v1M938.5 323v1M939.5 323v1M940.5 322v1M941.5 322v1M942.5 321v1M943.5 320v2M944.5 320v1M945.5 319v2M946.5 319v1M947.5 318v1M948.5 318v1M949.5 317v1M950.5 317v1M951.5 316v1M952.5 316v1M953.5 315v1M954.5 314v2M955.5 314v1M956.5 313v2M957.5 313v1M958.5 312v1M959.5 311v2M960.5 311v1M961.5 310v2M962.5 310v1M963.5 309v1M964.5 309v1M965.5 308v2M966.5 308v1M967.5 307v2M968.5 307v1M969.5 306v2M970.5 306v1M971.5 305v2M972.5 305v1M973.5 304v1M974.5 304v1M975.5 303v1M976.5 302v2M977.5 302v1M978.5 301v1M979.5 301v1M980.5 300v1M981.5 299v2M982.5 299v1M983.5 298v2M984.5 298v1M985.5 297v1M986.5 297v1M987.5 296v1M988.5 295v2M989.5 294v2M990.5 294v1M991.5 293v1M992.5 292v2M993.5 292v1M994.5 291v1M995.5 290v1M996.5 289v2M997.5 288v2M998.5 288v1M999.5 287v1M1000.5 286v1M1001.5 285v1M1002.5 284v2M1003.5 283v2M1004.5 283v1M1005.5 282v1M1006.5 281v1M1007.5 280v2M1008.5 280v1M1009.5 279v1M1010.5 278v1M1011.5 277v2M1012.5 276v2M1013.5 276v1M1014.5 275v1M1015.5 274v1M1016.5 273v1M1017.5 272v2M1018.5 271v2M1019.5 271v1M1020.5 270v1M1021.5 269v1M1022.5 268v1M1023.5 267v1M1024.5 266v2M1025.5 265v2M1026.5 264v2M1027.5 264v1M1028.5 263v1M1029.5 262v2M1030.5 261v2M1031.5 261v1M1032.5 260v1M1033.5 259v1M1034.5 258v2M1035.5 258v1M1036.5 257v1M1037.5 256v2M1038.5 256v1M1039.5 255v1M1040.5 254v2M1041.5 254v1M1042.5 253v1M1043.5 252v1M1044.5 251v2M1045.5 250v2M1046.5 250v1M1047.5 249v1M1048.5 248v1M1049.5 247v2M1050.5 246v2M1051.5 245v2M1052.5 244v2M1053.5 243v2M1054.5 242v2M1055.5 241v2M1056.5 240v2M1057.5 239v2M1058.5 238v2M1059.5 237v2M1060.5 236v2M1061.5 236v1M1062.5 235v1M1063.5 234v1M1064.5 233v1M1065.5 232v1M1066.5 231v2M1067.5 230v2M1068.5 230v1M1069.5 229v1M1070.5 228v1M1071.5 227v1M1072.5 226v2M1073.5 225v2M1074.5 224v2M1075.5 224v1M1076.5 223v1M1077.5 222v2M1078.5 222v1M1079.5 221v1M1080.5 220v2M1081.5 220v1M1082.5 219v1M1083.5 218v2M1084.5 218v1M1085.5 217v1M1086.5 216v2M1087.5 216v1M1088.5 215v1M1089.5 214v2M1090.5 214v1M1091.5 213v1M1092.5 212v2M1093.5 212v1M1094.5 211v2M1095.5 211v1M1096.5 210v1M1097.5 209v2M1098.5 209v1M1099.5 208v1M1100.5 207v1M1101.5 206v2M1102.5 206v1M1103.5 205v1M1104.5 204v2M1105.5 204v1M1106.5 203v1M1107.5 202v1M1108.5 201v2M1109.5 200v2M1110.5 199v2M1111.5 199v1M1112.5 198v1M1113.5 197v1M1114.5 196v1M1115.5 195v2M1116.5 194v2M1117.5 193v2M1118.5 193v1M1119.5 192v1M1120.5 191v1M1121.5 190v2M1122.5 189v2M1123.5 188v2M1124.5 188v1M1125.5 187v1M1126.5 186v1M1127.5 185v1M1128.5 184v2M1129.5 183v2M1130.5 182v2M1131.5 182v1M1132.5 181v1M1133.5 180v1M1134.5 179v2M1135.5 178v2M1136.5 177v2M1137.5 177v1M1138.5 176v1M1139.5 175v1M1140.5 174v2M1141.5 173v2M1142.5 173v1M1143.5 172v1M1144.5 171v1M1145.5 170v2M1146.5 170v1M1147.5 169v1M1148.5 168v1M1149.5 167v2M1150.5 167v1M1151.5 166v1M1152.5 165v2M1153.5 165v1M1154.5 164v1M1155.5 163v2M1156.5 163v1M1157.5 162v1M1158.5 161v1M1159.5 160v2M1160.5 160v1M1161.5 159v1M1162.5 158v2M1163.5 157v2M1164.5 157v1M1165.5 156v1M1166.5 155v1M1167.5 154v2M1168.5 153v2M1169.5 153v1M1170.5 152v1M1171.5 151v2M1172.5 151v1M1173.5 150v1M1174.5 149v1M1175.5 148v2M1176.5 148v1M1177.5 147v1M1178.5 146v2M1179.5 146v1M1180.5 145v1M1181.5 145v1M1182.5 144v1M1183.5 143v2M1184.5 143v1M1185.5 142v1M1186.5 142v1M1187.5 141v1M1188.5 140v2M1189.5 140v1M1190.5 139v2M1191.5 139v1M1192.5 138v2M1193.5 138v1M1194.5 137v1M1195.5 136v2M1196.5 136v1M1197.5 135v1M1198.5 134v2M1199.5 134v1M1200.5 133v1M1201.5 132v2M1202.5 132v1M1203.5 131v1M1204.5 131v1M1205.5 130v1M1206.5 130v1M1207.5 129v1M1208.5 129v1M1209.5 128v2M1210.5 128v1M1211.5 128v1M1212.5 128v1M1213.5 127v1M1214.5 127v1M1215.5 127v1M1216.5 127v1M1217.5 127v1M1218.5 126v2M1219.5 126v1M1220.5 126v1M1221.5 126v1M1222.5 125v2M1223.5 125v1M1224.5 125v1M1225.5 125v1M1226.5 124v2M1227.5 124v1M1228.5 124v1M1229.5 123v2M1230.5 123v1M1231.5 123v1M1232.5 122v2M1233.5 122v1M1234.5 122v1M1235.5 122v1M1236.5 122v1M1237.5 122v1M1238.5 122v1M1239.5 122v1M1240.5 122v1M1241.5 122v1M1242.5 122v1M1243.5 122v1M1244.5 122v1M1245.5 122v1M1246.5 122v1M1247.5 122v1M1248.5 122v1M1249.5 122v1M1250.5 122v1M1251.5 121v1M1252.5 121v1M1253.5 121v1M1254.5 121v1M1255.5 121v1M1256.5 120v2M1257.5 120v1M1258.5 120v1M1259.5 120v1M1260.5 119v2M1261.5 119v1M1262.5 119v1M1263.5 118v2M1264.5 118v1M1265.5 118v1M1266.5 117v2M1267.5 117v1M1268.5 117v1M1269.5 117v1M1270.5 117v1M1271.5 116v1M1272.5 116v1M1273.5 116v1M1274.5 116v1M1275.5 115v1M1276.5 115v1M1277.5 115v1M1278.5 115v1M1279.5 115v1M1280.5 114v1M1281.5 114v1M1282.5 114v1M1283.5 114v1M1284.5 113v2M1285.5 113v1M1286.5 113v1M1287.5 113v1M1288.5 113v1M1289.5 112v1M1290.5 112v1M1291.5 112v1M1292.5 111v2M1293.5 111v1M1294.5 111v1M1295.5 110v2M1296.5 110v1M1297.5 110v1M1298.5 109v2M1299.5 109v1M1300.5 109v1M1301.5 108v2M1302.5 108v1M1303.5 108v1M1304.5 107v2M1305.5 107v1M1306.5 107v1M1307.5 106v1M1308.5 106v1M1309.5 106v1M1310.5 105v2M1311.5 105v1M1312.5 105v1M1313.5 105v1M1314.5 104v1M1315.5 104v1M1316.5 104v1M1317.5 104v1M1318.5 103v1M1319.5 103v1M1320.5 103v1M1321.5 103v1M1322.5 102v2M1323.5 102v1M1324.5 102v1M1325.5 102v1M1326.5 102v1M1327.5 102v1M1328.5 102v1M1329.5 102v1M1330.5 102v1M1331.5 103v1M1332.5 103v1M1333.5 103v1M1334.5 103v1M1335.5 103v1M1336.5 103v1M1337.5 104v1M1338.5 104v1M1339.5 104v1M1340.5 104v1M1341.5 104v2M1342.5 105v1M1343.5 105v1M1344.5 105v1M1345.5 105v1M1346.5 106v1M1347.5 106v1M1348.5 106v1M1349.5 106v1M1350.5 106v1M1351.5 106v1M1352.5 107v1M1353.5 107v1M1354.5 107v1M1355.5 107v1M1356.5 107v1M1357.5 108v1M1358.5 108v1M1359.5 108v1M1360.5 108v2M1361.5 109v1M1362.5 109v1M1363.5 109v1M1364.5 109v1M1365.5 110v1M1366.5 110v1M1367.5 110v1M1368.5 110v1M1369.5 110v1M1370.5 110v2M1371.5 111v1M1372.5 111v1M1373.5 111v1M1374.5 111v1M1375.5 111v1M1376.5 112v1M1377.5 112v1M1378.5 112v1M1379.5 112v1M1380.5 112v1M1381.5 112v1M1382.5 112v1M1383.5 112v1M1384.5 112v1M1385.5 112v1M1386.5 112v1M1387.5 112v1M1388.5 112v2M1389.5 113v1M1390.5 113v1M1391.5 113v1M1392.5 113v1M1393.5 113v1M1394.5 113v1M1395.5 113v1M1396.5 113v1M1397.5 113v1M1398.5 113v1M1399.5 113v1M1400.5 113v1M1401.5 112v2M1402.5 112v1M1403.5 112v1M1404.5 112v1M1405.5 112v1M1406.5 112v1M1407.5 111v2M1408.5 111v1M1409.5 111v1M1410.5 111v1M1411.5 111v1M1412.5 110v2M1413.5 110v1M1414.5 110v1M1415.5 110v1M1416.5 109v2M1417.5 109v1M1418.5 109v1" fill="none" stroke="#3cb371" stroke-width="1"/>
<path d="M0.5 572v1M1.5 572v2M2.5 573v2M3.5 574v2M4.5 575v2M5.5 576v2M6.5 577v2M7.5 578v2M8.5 579v2M9.5 580v2M10.5 581v2M11.5 583v2M12.5 584v2M13.5 586v2M14.5 588v2M15.5 590v2M16.5 592v2M17.5 594v2M18.5 595v2M19.5 597v1M20.5 597v1M21.5 597v2M22.5 598v1M23.5 598v2M24.5 599v1M25.5 599v2M26.5 600v1M27.5 600v1M28.5 600v1M29.5 600v1M30.5 600v1M31.5 600v1M32.5 600v1M33.5 600v1M34.5 600v1M35.5 600v1M36.5 600v1M37.5 600v1M38.5 600v1M39.5 600v1M40.5 600v1M41.5 600v1M42.5 600v1M43.5 599v1M44.5 597v2M45.5 596v1M46.5 594v2M47.5 593v1M48.5 591v2M49.5 590v2M50.5 588v2M51.5 586v2M52.5 584v2M53.5 581v3M54.5 579v2M55.5 577v2M56.5 574v3M57.5 572v2M58.5 570v2M59.5 568v2M60.5 566v2M61.5 565v1M62.5 563v2M63.5 561v2M64.5 559v2M65.5 558v1M66.5 556v2M67.5 556v1M68.5 555v1M69.5 555v1M70.5 555v1M71.5 554v1M72.5 554v1M73.5 554v1M74.5 553v1M75.5 553v1M76.5 552v1M77.5 551v1M78.5 550v1M79.5 549v2M80.5 548v2M81.5 548v1M82.5 547v1M83.5 547v1M84.5 547v1M85.5 547v1M86.5 547v1M87.5 546v2M88.5 546v1M89.5 546v1M90.5 546v1M91.5 547v1M92.5 547v1M93.5 547v2M94.5 548v1M95.5 548v2M96.5 549v1M97.5 549v1M98.5 550v1M99.5 550v1M100.5 550v1M101.5 550v1M102.5 550v1M103.5 550v1M104.5 550v1M105.5 550v1M106.5 550v1M107.5 551v1M108.5 551v1M109.5 551v1M110.5 551v1M111.5 551v1M112.5 551v1M113.5 551v1M114.5 551v2M115.5 552v1M116.5 552v1M117.5 552v1M118.5 552v2M119.5 553v1M120.5 553v1M121.5 553v1M122.5 553v2M123.5 554v1M124.5 554v1M125.5 554v1M126.5 555v1M127.5 555v1M128.5 555v1M129.5 555v2M130.5 556v1M131.5 556v1M132.5 556v1M133.5 556v2M134.5 557v1M135.5 557v1M136.5 557v1M137.5 557v2M138.5 558v1M139.5 558v1M140.5 558v1M141.5 557v1M142.5 557v1M143.5 557v1M144.5 557v1M145.5 557v1M146.5 557v1M147.5 557v1M148.5 556v1M149.5 556v1M150.5 556v1M151.5 556v1M152.5 556v1M153.5 555v1M154.5 555v1M155.5 554v2M156.5 554v1M157.5 553v1M158.5 552v1M159.5 551v2M160.5 551v1M161.5 550v1M162.5 549v1M163.5 548v1M164.5 547v1M165.5 546v1M166.5 545v1M167.5 544v1M168.5 543v1M169.5 542v1M170.5 541v1M171.5 539v2M172.5 538v2M173.5 537v1M174.5 536v1M175.5 534v2M176.5 533v2M177.5 532v1M178.5 530v2M179.5 530v1M180.5 529v1M181.5 528v1M182.5 527v1M183.5 526v1M184.5 525v2M185.5 524v2M186.5 523v2M187.5 522v2M188.5 521v2M189.5 520v1M190.5 519v1M191.5 517v2M192.5 516v2M193.5 515v2M194.5 514v2M195.5 513v1M196.5 512v1M197.5 511v1M198.5 510v1M199.5 509v1M200.5 508v1M201.5 507v1M202.5 506v1M203.5 505v2M204.5 505v1M205.5 505v1M206.5 504v2M207.5 504v1M208.5 504v1M209.5 504v1M210.5 503v1M211.5 503v1M212.5 503v1M213.5 502v1M214.5 502v1M215.5 502v1M216.5 501v2M217.5 501v1M218.5 501v1M219.5 501v1M220.5 501v1M221.5 501v1M222.5 501v1M223.5 500v1M224.5 500v1M225.5 500v1M226.5 500v1M227.5 500v1M228.5 500v1M229.5 499v1M230.5 499v1M231.5 499v1M232.5 498v2M233.5 498v1M234.5 498v1M235.5 498v1M236.5 498v1M237.5 498v1M238.5 498v1M239.5 498v1M240.5 498v1M241.5 498v1M242.5 498v1M243.5 498v1M244.5 498v1M245.5 498v1M246.5 498v1M247.5 498v1M248.5 498v1M249.5 498v1M250.5 498v1M251.5 499v1M252.5 499v2M253.5 500v1M254.5 500v2M255.5 501v1M256.5 502v1M257.5 502v2M258.5 503v1M259.5 504v1M260.5 504v2M261.5 505v1M262.5 505v2M263.5 506v1M264.5 507v1M265.5 507v1M266.5 508v1M267.5 508v1M268.5 509v1M269.5 509v1M270.5 509v2M271.5 510v1M272.5 510v1M273.5 511v1M274.5 511v1M275.5 511v2M276.5 512v1M277.5 513v1M278.5 513v2M279.5 514v1M280.5 515v1M281.5 515v2M282.5 516v1M283.5 516v2M284.5 517v1M285.5 517v1M286.5 517v1M287.5 517v2M288.5 518v1M289.5 518v1M290.5 518v1M291.5 518v1M292.5 518v1M293.5 518v1M294.5 518v1M295.5 518v1M296.5 518v1M297.5 517v1M298.5 517v1M299.5 517v1M300.5 517v2M301.5 518v1M302.5 518v1M303.5 518v1M304.5 518v1M305.5 518v1M306.5 518v1M307.5 518v1M308.5 519v1M309.5 519v1M310.5 519v1M311.5 519v1M312.5 519v1M313.5 519v1M314.5 519v1M315.5 519v1M316.5 519v1M317.5 519v1M318.5 519v1M319.5 519v1M320.5 519v1M321.5 519v1M322.5 519v1M323.5 519v1M324.5 519v1M325.5 519v1M326.5 519v1M327.5 519v1M328.5 519v1M329.5 519v1M330.5 519v1M331.5 519v2M332.5 520v2M333.5 521v1M334.5 522v1M335.5 522v2M336.5 523v1M337.5 524v1M338.5 524v2M339.5 525v2M340.5 527v1M341.5 528v1M342.5 529v2M343.5 530v2M344.5 531v2M345.5 532v2M346.5 534v1M347.5 535v1M348.5 535v2M349.5 536v1M350.5 536v2M351.5 537v1M352.5 538v1M353.5 538v2M354.5 539v1M355.5 539v1M356.5 539v1M357.5 539v1M358.5 539v1M359.5 539v1M360.5 539v1M361.5 539v1M362.5 539v1M363.5 539v1M364.5 539v1M365.5 539v1M366.5 539v1M367.5 539v1M368.5 539v1M369.5 539v1M370.5 540v1M371.5 540v1M372.5 540v1M373.5 540v1M374.5 540v1M375.5 540v1M376.5 540v1M377.5 540v1M378.5 540v1M379.5 540v1M380.5 540v1M381.5 540v1M382.5 540v1M383.5 540v1M384.5 540v1M385.5 540v1M386.5 540v1M387.5 540v1M388.5 540v1M389.5 540v1M390.5 540v1M391.5 540v1M392.5 540v1M393.5 540v1M394.5 539v2M395.5 539v1M396.5 539v1M397.5 539v1M398.5 539v1M399.5 539v1M400.5 539v1M401.5 538v1M402.5 538v1M403.5 538v1M404.5 538v1M405.5 537v2M406.5 537v1M407.5 537v1M408.5 537v1M409.5 536v2M410.5 536v1M411.5 536v1M412.5 535v1M413.5 534v2M414.5 534v1M415.5 533v2M416.5 533v1M417.5 532v1M418.5 531v2M419.5 531v1M420.5 530v1M421.5 529v1M422.5 528v2M423.5 527v2M424.5 526v2M425.5 526v1M426.5 525v1M427.5 524v2M428.5 524v1M429.5 523v2M430.5 523v1M431.5 522v2M432.5 522v1M433.5 521v2M434.5 521v1M435.5 520v2M436.5 519v2M437.5 518v2M438.5 517v2M439.5 517v1M440.5 516v1M441.5 515v1M442.5 514v1M443.5 513v1M444.5 512v1M445.5 511v1M446.5 510v1M447.5 509v1M448.5 508v1M449.5 507v2M450.5 506v2M451.5 506v1M452.5 506v1M453.5 505v2M454.5 505v1M455.5 505v1M456.5 505v1M457.5 505v1M458.5 504v2M459.5 503v2M460.5 502v1M461.5 500v2M462.5 499v1M463.5 497v2M464.5 496v2M465.5 495v1M466.5 493v2M467.5 492v2M468.5 491v2M469.5 490v2M470.5 489v2M471.5 488v2M472.5 487v2M473.5 486v2M474.5 485v2M475.5 484v1M476.5 482v2M477.5 481v1M478.5 479v2M479.5 478v1M480.5 476v2M481.5 475v2M482.5 473v2M483.5 472v2M484.5 471v1M485.5 469v2M486.5 468v2M487.5 467v1M488.5 465v2M489.5 464v2M490.5 462v2M491.5 462v1M492.5 462v1M493.5 462v1M494.5 462v1M495.5 462v1M496.5 462v1M497.5 462v1M498.5 462v1M499.5 462v1M500.5 462v1M501.5 462v1M502.5 462v1M503.5 462v1M504.5 462v1M505.5 462v1M506.5 462v1M507.5 462v1M508.5 463v1M509.5 463v1M510.5 463v1M511.5 463v1M512.5 463v1M513.5 463v1M514.5 463v1M515.5 463v1M516.5 463v1M517.5 462v2M518.5 462v1M519.5 462v1M520.5 462v1M521.5 461v1M522.5 461v1M523.5 461v1M524.5 460v1M525.5 460v1M526.5 460v1M527.5 459v1M528.5 459v1M529.5 458v2M530.5 458v1M531.5 458v1M532.5 458v1M533.5 458v1M534.5 457v1M535.5 457v1M536.5 457v1M537.5 457v1M538.5 457v1M539.5 456v2M540.5 456v1M541.5 456v1M542.5 456v1M543.5 455v1M544.5 455v1M545.5 455v1M546.5 454v2M547.5 454v1M548.5 454v1M549.5 454v1M550.5 454v1M551.5 453v2M552.5 453v1M553.5 453v1M554.5 453v1M555.5 453v1M556.5 453v1M557.5 453v1M558.5 453v1M559.5 453v1M560.5 453v1M561.5 453v1M562.5 453v1M563.5 453v1M564.5 452v2M565.5 452v1M566.5 451v1M567.5 451v1M568.5 450v1M569.5 450v1M570.5 449v1M571.5 449v1M572.5 448v1M573.5 448v1M574.5 447v2M575.5 447v1M576.5 447v1M577.5 446v1M578.5 446v1M579.5 445v2M580.5 445v1M581.5 445v1M582.5 444v1M583.5 444v1M584.5 443v1M585.5 443v1M586.5 442v2M587.5 442v1M588.5 442v1M589.5 442v1M590.5 442v1M591.5 442v1M592.5 442v1M593.5 443v1M594.5 443v1M595.5 443v1M596.5 443v1M597.5 443v1M598.5 443v1M599.5 443v1M600.5 443v1M601.5 443v1M602.5 443v1M603.5 443v1M604.5 443v1M605.5 443v1M606.5 443v1M607.5 443v1M608.5 443v1M609.5 443v1M610.5 443v1M611.5 443v1M612.5 443v1M613.5 443v1M614.5 443v1M615.5 443v2M616.5 444v1M617.5 444v1M618.5 444v1M619.5 444v1M620.5 443v2M621.5 443v1M622.5 443v1M623.5 443v1M624.5 443v1M625.5 442v1M626.5 442v1M627.5 442v1M628.5 442v1M629.5 442v1M630.5 442v1M631.5 442v1M632.5 442v1M633.5 442v1M634.5 442v1M635.5 442v1M636.5 442v1M637.5 442v1M638.5 442v1M639.5 442v1M640.5 442v1M641.5 442v1M642.5 442v1M643.5 442v1M644.5 442v1M645.5 443v1M646.5 443v1M647.5 443v1M648.5 443v1M649.5 443v1M650.5 443v1M651.5 443v1M652.5 443v2M653.5 444v1M654.5 444v1M655.5 444v1M656.5 444v1M657.5 444v1M658.5 445v1M659.5 445v1M660.5 445v1M661.5 445v1M662.5 445v1M663.5 445v1M664.5 445v1M665.5 445v1M666.5 445v1M667.5 445v1M668.5 445v1M669.5 445v1M670.5 445v1M671.5 445v1M672.5 445v1M673.5 444v1M674.5 444v1M675.5 445v1M676.5 445v1M677.5 445v1M678.5 445v1M679.5 445v1M680.5 445v2M681.5 446v1M682.5 446v1M683.5 446v1M684.5 446v1M685.5 446v1M686.5 446v1M687.5 447v1M688.5 447v1M689.5 447v1M690.5 447v1M691.5 447v1M692.5 447v2M693.5 448v1M694.5 448v1M695.5 448v1M696.5 448v2M697.5 449v1M698.5 449v1M699.5 449v1M700.5 449v1M701.5 449v1M702.5 449v1M703.5 449v1M704.5 449v1M705.5 449v1M706.5 449v1M707.5 448v1M708.5 448v1M709.5 447v2M710.5 447v1M711.5 447v1M712.5 446v1M713.5 446v1M714.5 446v1M715.5 444v2M716.5 443v2M717.5 442v1M718.5 441v1M719.5 439v2M720.5 438v2M721.5 437v2M722.5 436v1M723.5 435v2M724.5 435v1M725.5 434v1M726.5 434v1M727.5 433v1M728.5 432v2M729.5 432v1M730.5 431v2M731.5 431v1M732.5 430v1M733.5 430v1M734.5 429v1M735.5 429v1M736.5 428v1M737.5 428v1M738.5 427v1M739.5 427v1M740.5 427v1M741.5 426v1M742.5 426v1M743.5 426v1M744.5 426v1M745.5 426v1M746.5 425v1M747.5 425v1M748.5 425v1M749.5 425v1M750.5 425v1M751.5 425v1M752.5 425v1M753.5 425v1M754.5 425v1M755.5 425v1M756.5 425v1M757.5 425v1M758.5 425v2M759.5 426v1M760.5 426v1M761.5 426v1M762.5 426v2M763.5 426v2M764.5 426v1M765.5 426v1M766.5 426v1M767.5 426v1M768.5 426v1M769.5 426v1M770.5 426v1M771.5 425v2M772.5 425v1M773.5 424v1M774.5 424v1M775.5 423v1M776.5 422v2M777.5 422v1M778.5 421v2M779.5 421v1M780.5 420v1M781.5 419v2M782.5 418v2M783.5 418v1M784.5 417v1M785.5 416v2M786.5 415v2M787.5 414v2M788.5 413v2M789.5 412v2M790.5 411v1M791.5 410v1M792.5 408v2M793.5 407v2M794.5 406v2M795.5 406v1M796.5 406v1M797.5 405v1M798.5 405v1M799.5 405v1M800.5 404v1M801.5 404v1M802.5 404v1M803.5 404v1M804.5 404v1M805.5 404v1M806.5 404v1M807.5 404v1M808.5 404v1M809.5 404v1M810.5 404v1M811.5 403v1M812.5 403v1M813.5 403v1M814.5 403v1M815.5 403v1M816.5 403v1M817.5 403v1M818.5 403v1M819.5 402v2M820.5 402v1M821.5 401v2M822.5 401v1M823.5 400v2M824.5 400v1M825.5 400v1M826.5 399v1M827.5 399v1M828.5 398v1M829.5 398v1M830.5 397v1M831.5 397v1M832.5 396v1M833.5 396v1M834.5 395v1M835.5 395v1M836.5 395v1M837.5 395v1M838.5 395v1M839.5 394v1M840.5 394v1M841.5 394v1M842.5 394v1M843.5 394v1M844.5 394v1M845.5 394v1M846.5 394v1M847.5 394v1M848.5 394v1M849.5 394v1M850.5 394v1M851.5 394v1M852.5 394v1M853.5 394v1M854.5 394v1M855.5 394v1M856.5 394v1M857.5 394v1M858.5 394v1M859.5 394v1M860.5 393v1M861.5 393v1M862.5 392v1M863.5 391v2M864.5 391v1M865.5 390v1M866.5 389v2M867.5 389v1M868.5 389v1M869.5 388v1M870.5 388v1M871.5 387v1M872.5 387v1M873.5 386v1M874.5 386v1M875.5 386v1M876.5 385v2M877.5 385v1M878.5 385v1M879.5 385v1M880.5 385v1M881.5 385v1M882.5 385v1M883.5 385v1M884.5 385v1M885.5 385v1M886.5 385v1M887.5 385v1M888.5 384v1M889.5 384v1M890.5 384v1M891.5 384v1M892.5 384v1M893.5 384v1M894.5 384v1M895.5 384v1M896.5 383v2M897.5 383v1M898.5 383v1M899.5 383v1M900.5 382v2M901.5 382v1M902.5 382v1M903.5 381v1M904.5 381v1M905.5 380v1M906.5 380v1M907.5 379v2M908.5 379v1M909.5 378v2M910.5 378v1M911.5 377v2M912.5 377v1M913.5 376v2M914.5 376v1M915.5 376v1M916.5 376v2M917.5 377v1M918.5 377v1M919.5 377v1M920.5 378v1M921.5 378v1M922.5 378v1M923.5 379v1M924.5 379v1M925.5 379v1M926.5 379v1M927.5 380v1M928.5 380v1M929.5 380v1M930.5 380v1M931.5 381v1M932.5 381v1M933.5 381v1M934.5 381v1M935.5 382v1M936.5 382v1M937.5 382v1M938.5 382v1M939.5 382v1M940.5 381v2M941.5 381v1M942.5 380v2M943.5 380v1M944.5 379v2M945.5 379v1M946.5 378v2M947.5 378v1M948.5 377v1M949.5 376v2M950.5 376v1M951.5 375v1M952.5 374v2M953.5 373v2M954.5 373v1M955.5 372v1M956.5 371v1M957.5 370v1M958.5 369v1M959.5 368v1M960.5 367v1M961.5 366v1M962.5 365v1M963.5 364v2M964.5 364v1M965.5 363v2M966.5 363v1M967.5 363v1M968.5 362v1M969.5 362v1M970.5 361v1M971.5 361v1M972.5 360v1M973.5 359v2M974.5 359v1M975.5 358v1M976.5 357v2M977.5 357v1M978.5 356v2M979.5 356v1M980.5 356v1M981.5 355v2M982.5 355v1M983.5 355v1M984.5 355v1M985.5 354v2M986.5 354v1M987.5 354v1M988.5 354v1M989.5 354v1M990.5 354v1M991.5 354v1M992.5 354v1M993.5 354v1M994.5 353v1M995.5 353v1M996.5 353v1M997.5 353v1M998.5 353v1M999.5 353v1M1000.5 353v1M1001.5 353v1M1002.5 353v1M1003.5 352v2M1004.5 352v1M1005.5 351v1M1006.5 350v2M1007.5 349v2M1008.5 349v1M1009.5 348v1M1010.5 347v1M1011.5 347v1M1012.5 346v2M1013.5 346v1M1014.5 346v1M1015.5 345v1M1016.5 345v1M1017.5 344v2M1018.5 344v1M1019.5 343v2M1020.5 343v1M1021.5 342v2M1022.5 342v1M1023.5 341v1M1024.5 340v2M1025.5 340v1M1026.5 339v2M1027.5 339v1M1028.5 339v1M1029.5 338v2M1030.5 338v1M1031.5 338v1M1032.5 338v1M1033.5 337v1M1034.5 337v1M1035.5 337v1M1036.5 336v1M1037.5 336v1M1038.5 335v1M1039.5 335v1M1040.5 334v2M1041.5 334v1M1042.5 334v1M1043.5 333v1M1044.5 333v1M1045.5 332v2M1046.5 332v1M1047.5 332v1M1048.5 331v2M1049.5 331v1M1050.5 331v1M1051.5 331v1M1052.5 330v1M1053.5 330v1M1054.5 330v1M1055.5 330v1M1056.5 330v1M1057.5 330v1M1058.5 330v1M1059.5 329v1M1060.5 328v1M1061.5 327v2M1062.5 326v2M1063.5 325v2M1064.5 325v1M1065.5 324v1M1066.5 323v1M1067.5 322v1M1068.5 320v2M1069.5 319v2M1070.5 318v1M1071.5 317v1M1072.5 315v2M1073.5 314v2M1074.5 313v1M1075.5 312v1M1076.5 311v1M1077.5 310v2M1078.5 310v1M1079.5 309v1M1080.5 308v1M1081.5 307v2M1082.5 306v2M1083.5 306v1M1084.5 305v1M1085.5 304v2M1086.5 304v1M1087.5 303v1M1088.5 302v1M1089.5 301v2M1090.5 301v1M1091.5 300v1M1092.5 299v1M1093.5 298v2M1094.5 297v2M1095.5 297v1M1096.5 296v1M1097.5 295v1M1098.5 294v2M1099.5 293v2M1100.5 292v1M1101.5 291v1M1102.5 290v1M1103.5 288v2M1104.5 287v2M1105.5 286v2M1106.5 285v2M1107.5 284v1M1108.5 283v1M1109.5 281v2M1110.5 280v2M1111.5 279v1M1112.5 277v2M1113.5 276v2M1114.5 275v2M1115.5 274v1M1116.5 272v2M1117.5 271v1M1118.5 269v2M1119.5 268v2M1120.5 266v2M1121.5 265v2M1122.5 264v1M1123.5 262v2M1124.5 260v2M1125.5 258v2M1126.5 257v2M1127.5 255v2M1128.5 253v2M1129.5 252v1M1130.5 250v2M1131.5 249v1M1132.5 247v2M1133.5 246v2M1134.5 245v1M1135.5 243v2M1136.5 242v2M1137.5 241v1M1138.5 239v2M1139.5 238v2M1140.5 237v1M1141.5 235v2M1142.5 234v2M1143.5 233v1M1144.5 231v2M1145.5 230v2M1146.5 229v1M1147.5 228v1M1148.5 227v2M1149.5 227v1M1150.5 226v1M1151.5 225v1M1152.5 224v2M1153.5 224v1M1154.5 223v1M1155.5 223v1M1156.5 223v1M1157.5 223v1M1158.5 222v2M1159.5 222v1M1160.5 222v1M1161.5 222v1M1162.5 222v1M1163.5 221v2M1164.5 220v2M1165.5 220v1M1166.5 219v1M1167.5 218v1M1168.5 217v2M1169.5 216v2M1170.5 216v1M1171.5 215v1M1172.5 215v1M1173.5 214v1M1174.5 214v1M1175.5 213v2M1176.5 213v1M1177.5 212v2M1178.5 212v1M1179.5 211v2M1180.5 211v1M1181.5 210v1M1182.5 209v2M1183.5 209v1M1184.5 208v1M1185.5 207v2M1186.5 207v1M1187.5 206v1M1188.5 205v2M1189.5 205v1M1190.5 204v1M1191.5 203v2M1192.5 203v1M1193.5 202v1M1194.5 201v2M1195.5 201v1M1196.5 200v1M1197.5 199v1M1198.5 198v1M1199.5 197v1M1200.5 196v1M1201.5 195v1M1202.5 194v2M1203.5 193v2M1204.5 193v1M1205.5 192v2M1206.5 192v1M1207.5 191v1M1208.5 190v2M1209.5 190v1M1210.5 189v1M1211.5 189v1M1212.5 189v1M1213.5 189v1M1214.5 188v2M1215.5 188v1M1216.5 188v1M1217.5 188v1M1218.5 188v1M1219.5 187v2M1220.5 187v1M1221.5 186v1M1222.5 185v2M1223.5 185v1M1224.5 184v2M1225.5 184v1M1226.5 183v1M1227.5 182v2M1228.5 181v2M1229.5 181v1M1230.5 180v1M1231.5 179v1M1232.5 178v1M1233.5 177v2M1234.5 176v2M1235.5 176v1M1236.5 176v1M1237.5 176v1M1238.5 176v1M1239.5 176v1M1240.5 176v1M1241.5 175v1M1242.5 175v1M1243.5 175v1M1244.5 175v1M1245.5 175v1M1246.5 175v1M1247.5 175v1M1248.5 175v1M1249.5 175v1M1250.5 175v1M1251.5 174v2M1252.5 174v1M1253.5 173v2M1254.5 173v1M1255.5 172v1M1256.5 172v1M1257.5 171v1M1258.5 171v1M1259.5 170v1M1260.5 169v1M1261.5 168v2M1262.5 167v2M1263.5 167v1M1264.5 166v1M1265.5 165v1M1266.5 164v2M1267.5 164v1M1268.5 164v1M1269.5 163v1M1270.5 163v1M1271.5 163v1M1272.5 162v1M1273.5 162v1M1274.5 162v1M1275.5 161v2M1276.5 161v1M1277.5 161v1M1278.5 160v1M1279.5 160v1M1280.5 160v1M1281.5 159v1M1282.5 159v1M1283.5 159v1M1284.5 158v1M1285.5 158v1M1286.5 158v1M1287.5 157v2M1288.5 157v1M1289.5 157v1M1290.5 157v1M1291.5 157v1M1292.5 157v1M1293.5 157v1M1294.5 157v1M1295.5 157v1M1296.5 157v1M1297.5 157v1M1298.5 157v1M1299.5 157v1M1300.5 157v1M1301.5 157v1M1302.5 157v1M1303.5 157v1M1304.5 158v1M1305.5 158v1M1306.5 158v1M1307.5 158v1M1308.5 158v1M1309.5 158v1M1310.5 158v1M1311.5 158v1M1312.5 158v1M1313.5 159v1M1314.5 159v1M1315.5 159v1M1316.5 159v1M1317.5 159v1M1318.5 160v1M1319.5 160v1M1320.5 160v1M1321.5 160v2M1322.5 161v1M1323.5 161v1M1324.5 161v1M1325.5 161v1M1326.5 161v1M1327.5 161v1M1328.5 161v1M1329.5 161v1M1330.5 161v1M1331.5 161v1M1332.5 161v1M1333.5 161v1M1334.5 161v1M1335.5 161v2M1336.5 162v1M1337.5 162v1M1338.5 162v1M1339.5 162v1M1340.5 163v1M1341.5 163v1M1342.5 163v2M1343.5 164v1M1344.5 164v2M1345.5 165v1M1346.5 165v1M1347.5 165v2M1348.5 166v1M1349.5 166v1M1350.5 166v1M1351.5 166v1M1352.5 167v1M1353.5 167v1M1354.5 167v1M1355.5 167v1M1356.5 167v1M1357.5 168v1M1358.5 168v1M1359.5 168v1M1360.5 168v1M1361.5 168v2M1362.5 169v1M1363.5 169v1M1364.5 169v1M1365.5 169v1M1366.5 169v2M1367.5 170v1M1368.5 170v1M1369.5 170v1M1370.5 170v1M1371.5 171v1M1372.5 171v1M1373.5 171v2M1374.5 172v1M1375.5 172v1M1376.5 172v2M1377.5 173v1M1378.5 173v1M1379.5 174v1M1380.5 174v1M1381.5 174v1M1382.5 174v1M1383.5 174v1M1384.5 174v1M1385.5 174v1M1386.5 174v1M1387.5 174v1M1388.5 174v2M1389.5 175v1M1390.5 175v1M1391.5 175v2M1392.5 176v1M1393.5 176v1M1394.5 176v2M1395.5 176v1M1396.5 175v2M1397.5 175v1M1398.5 174v2M1399.5 174v1M1400.5 173v2M1401.5 173v1M1402.5 172v1M1403.5 172v1M1404.5 171v1M1405.5 170v2M1406.5 170v1M1407.5 169v1M1408.5 168v2M1409.5 168v1M1410.5 167v1M1411.5 166v2M1412.5 166v1M1413.5 165v2M1414.5 165v1M1415.5 164v2M1416.5 164v1M1417.5 164v1M1418.5 163v1" fill="none" stroke="#3cb371" stroke-width="1"/>
</g>
<rect x="2" y="507" width="1" height="46" fill="#000"/>
<rect x="0" y="511" width="5" height="26" fill="#000"/>
<rect x="10" y="531" width="1" height="34" fill="#000"/>
<rect x="8" y="536" width="5" height="9" fill="#000"/>
<rect x="18" y="525" width="1" height="38" fill="#000"/>
<rect x="16" y="543" width="5" height="2" fill="#000"/>
<rect x="26" y="524" width="1" height="27" fill="#000"/>
<rect x="24" y="528" width="5" height="16" fill="#000"/>
<rect x="25" y="529" width="3" height="14" fill="#fff"/>
<rect x="34" y="520" width="1" height="26" fill="#000"/>
<rect x="32" y="528" width="5" height="3" fill="#000"/>
<rect x="42" y="521" width="1" height="4" fill="#000"/>
<rect x="40" y="521" width="5" height="3" fill="#000"/>
<rect x="41" y="522" width="3" height="1" fill="#fff"/>
<rect x="50" y="485" width="1" height="48" fill="#000"/>
<rect x="48" y="497" width="5" height="25" fill="#000"/>
<rect x="49" y="498" width="3" height="23" fill="#fff"/>
<rect x="58" y="484" width="1" height="21" fill="#000"/>
<rect x="56" y="492" width="5" height="6" fill="#000"/>
<rect x="57" y="493" width="3" height="4" fill="#fff"/>
<rect x="66" y="477" width="1" height="35" fill="#000"/>
<rect x="64" y="485" width="5" height="7" fill="#000"/>
<rect x="65" y="486" width="3" height="5" fill="#fff"/>
<rect x="74" y="465" width="1" height="42" fill="#000"/>
<rect x="72" y="485" width="5" height="6" fill="#000"/>
<rect x="82" y="481" width="1" height="34" fill="#000"/>
<rect x="80" y="483" width="5" height="8" fill="#000"/>
<rect x="81" y="484" width="3" height="6" fill="#fff"/>
<rect x="90" y="477" width="1" height="5" fill="#000"/>
<rect x="88" y="479" width="5" height="2" fill="#000"/>
<rect x="98" y="455" width="1" height="31" fill="#000"/>
<rect x="96" y="457" width="5" height="24" fill="#000"/>
<rect x="97" y="458" width="3" height="22" fill="#fff"/>
<rect x="106" y="454" width="1" height="40" fill="#000"/>
<rect x="104" y="457" width="5" height="32" fill="#000"/>
<rect x="114" y="465" width="1" height="27" fill="#000"/>
<rect x="112" y="468" width="5" height="21" fill="#000"/>
<rect x="113" y="469" width="3" height="19" fill="#fff"/>
<rect x="122" y="455" width="1" height="19" fill="#000"/>
<rect x="120" y="460" width="5" height="9" fill="#000"/>
<rect x="121" y="461" width="3" height="7" fill="#fff"/>
<rect x="130" y="446" width="1" height="25" fill="#000"/>
<rect x="128" y="447" width="5" height="15" fill="#000"/>
<rect x="129" y="448" width="3" height="13" fill="#fff"/>
<rect x="138" y="447" width="1" height="4" fill="#000"/>
<rect x="136" y="448" width="5" height="2" fill="#000"/>
<rect x="146" y="447" width="1" height="14" fill="#000"/>
<rect x="144" y="449" width="5" height="2" fill="#000"/>
<rect x="154" y="446" width="1" height="36" fill="#000"/>
<rect x="152" y="449" width="5" height="32" fill="#000"/>
<rect x="162" y="457" width="1" height="43" fill="#000"/>
<rect x="160" y="470" width="5" height="11" fill="#000"/>
<rect x="161" y="471" width="3" height="9" fill="#fff"/>
<rect x="170" y="461" width="1" height="36" fill="#000"/>
<rect x="168" y="470" width="5" height="23" fill="#000"/>
<rect x="178" y="480" width="1" height="26" fill="#000"/>
<rect x="176" y="483" width="5" height="10" fill="#000"/>
<rect x="177" y="484" width="3" height="8" fill="#fff"/>
<rect x="186" y="482" width="1" height="5" fill="#000"/>
<rect x="184" y="483" width="5" height="4" fill="#000"/>
<rect x="185" y="484" width="3" height="2" fill="#fff"/>
<rect x="194" y="459" width="1" height="26" fill="#000"/>
<rect x="192" y="477" width="5" height="7" fill="#000"/>
<rect x="193" y="478" width="3" height="5" fill="#fff"/>
<rect x="202" y="464" width="1" height="19" fill="#000"/>
<rect x="200" y="474" width="5" height="3" fill="#000"/>
<rect x="201" y="475" width="3" height="1" fill="#fff"/>
<rect x="210" y="448" width="1" height="29" fill="#000"/>
<rect x="208" y="454" width="5" height="20" fill="#000"/>
<rect x="209" y="455" width="3" height="18" fill="#fff"/>
<rect x="218" y="450" width="1" height="17" fill="#000"/>
<rect x="216" y="454" width="5" height="7" fill="#000"/>
<rect x="226" y="457" width="1" height="25" fill="#000"/>
<rect x="224" y="461" width="5" height="18" fill="#000"/>
<rect x="234" y="474" width="1" height="3" fill="#000"/>
<rect x="232" y="474" width="5" height="3" fill="#000"/>
<rect x="233" y="475" width="3" height="1" fill="#fff"/>
<rect x="242" y="464" width="1" height="20" fill="#000"/>
<rect x="240" y="474" width="5" height="6" fill="#000"/>
<rect x="250" y="475" width="1" height="13" fill="#000"/>
<rect x="248" y="479" width="5" height="7" fill="#000"/>
<rect x="258" y="484" width="1" height="35" fill="#000"/>
<rect x="256" y="485" width="5" height="19" fill="#000"/>
<rect x="266" y="492" width="1" height="33" fill="#000"/>
<rect x="264" y="503" width="5" height="8" fill="#000"/>
<rect x="274" y="495" width="1" height="37" fill="#000"/>
<rect x="272" y="499" width="5" height="12" fill="#000"/>
<rect x="273" y="500" width="3" height="10" fill="#fff"/>
<rect x="282" y="505" width="1" height="8" fill="#000"/>
<rect x="280" y="507" width="5" height="5" fill="#000"/>
<rect x="290" y="505" width="1" height="15" fill="#000"/>
<rect x="288" y="507" width="5" height="4" fill="#000"/>
<rect x="289" y="508" width="3" height="2" fill="#fff"/>
<rect x="298" y="456" width="1" height="57" fill="#000"/>
<rect x="296" y="461" width="5" height="46" fill="#000"/>
<rect x="297" y="462" width="3" height="44" fill="#fff"/>
<rect x="306" y="457" width="1" height="56" fill="#000"/>
<rect x="304" y="461" width="5" height="45" fill="#000"/>
<rect x="314" y="483" width="1" height="32" fill="#000"/>
<rect x="312" y="487" width="5" height="19" fill="#000"/>
<rect x="313" y="488" width="3" height="17" fill="#fff"/>
<rect x="322" y="485" width="1" height="20" fill="#000"/>
<rect x="320" y="488" width="5" height="7" fill="#000"/>
<rect x="330" y="487" width="1" height="7" fill="#000"/>
<rect x="328" y="488" width="5" height="5" fill="#000"/>
<rect x="329" y="489" width="3" height="3" fill="#fff"/>
<rect x="338" y="417" width="1" height="74" fill="#000"/>
<rect x="336" y="429" width="5" height="59" fill="#000"/>
<rect x="337" y="430" width="3" height="57" fill="#fff"/>
<rect x="346" y="396" width="1" height="41" fill="#000"/>
<rect x="344" y="400" width="5" height="30" fill="#000"/>
<rect x="345" y="401" width="3" height="28" fill="#fff"/>
<rect x="354" y="383" width="1" height="28" fill="#000"/>
<rect x="352" y="400" width="5" height="6" fill="#000"/>
<rect x="362" y="405" width="1" height="43" fill="#000"/>
<rect x="360" y="405" width="5" height="39" fill="#000"/>
<rect x="370" y="427" width="1" height="26" fill="#000"/>
<rect x="368" y="442" width="5" height="3" fill="#000"/>
<rect x="378" y="429" width="1" height="13" fill="#000"/>
<rect x="376" y="431" width="5" height="10" fill="#000"/>
<rect x="377" y="432" width="3" height="8" fill="#fff"/>
<rect x="386" y="418" width="1" height="31" fill="#000"/>
<rect x="384" y="431" width="5" height="5" fill="#000"/>
<rect x="394" y="431" width="1" height="15" fill="#000"/>
<rect x="392" y="435" width="5" height="4" fill="#000"/>
<rect x="402" y="436" width="1" height="13" fill="#000"/>
<rect x="400" y="438" width="5" height="11" fill="#000"/>
<rect x="410" y="440" width="1" height="21" fill="#000"/>
<rect x="408" y="449" width="5" height="4" fill="#000"/>
<rect x="418" y="439" width="1" height="15" fill="#000"/>
<rect x="416" y="444" width="5" height="9" fill="#000"/>
<rect x="417" y="445" width="3" height="7" fill="#fff"/>
<rect x="426" y="437" width="1" height="4" fill="#000"/>
<rect x="424" y="437" width="5" height="4" fill="#000"/>
<rect x="425" y="438" width="3" height="2" fill="#fff"/>
<rect x="434" y="406" width="1" height="33" fill="#000"/>
<rect x="432" y="407" width="5" height="31" fill="#000"/>
<rect x="433" y="408" width="3" height="29" fill="#fff"/>
<rect x="442" y="394" width="1" height="19" fill="#000"/>
<rect x="440" y="399" width="5" height="10" fill="#000"/>
<rect x="441" y="400" width="3" height="8" fill="#fff"/>
<rect x="450" y="393" width="1" height="23" fill="#000"/>
<rect x="448" y="397" width="5" height="3" fill="#000"/>
<rect x="449" y="398" width="3" height="1" fill="#fff"/>
<rect x="458" y="395" width="1" height="23" fill="#000"/>
<rect x="456" y="397" width="5" height="14" fill="#000"/>
<rect x="466" y="409" width="1" height="24" fill="#000"/>
<rect x="464" y="409" width="5" height="22" fill="#000"/>
<rect x="474" y="418" width="1" height="8" fill="#000"/>
<rect x="472" y="421" width="5" height="4" fill="#000"/>
<rect x="473" y="422" width="3" height="2" fill="#fff"/>
<rect x="482" y="403" width="1" height="28" fill="#000"/>
<rect x="480" y="413" width="5" height="9" fill="#000"/>
<rect x="481" y="414" width="3" height="7" fill="#fff"/>
<rect x="490" y="382" width="1" height="35" fill="#000"/>
<rect x="488" y="390" width="5" height="23" fill="#000"/>
<rect x="489" y="391" width="3" height="21" fill="#fff"/>
<rect x="498" y="379" width="1" height="40" fill="#000"/>
<rect x="496" y="390" width="5" height="10" fill="#000"/>
<rect x="506" y="383" width="1" height="20" fill="#000"/>
<rect x="504" y="398" width="5" height="2" fill="#000"/>
<rect x="514" y="372" width="1" height="33" fill="#000"/>
<rect x="512" y="391" width="5" height="7" fill="#000"/>
<rect x="513" y="392" width="3" height="5" fill="#fff"/>
<rect x="522" y="393" width="1" height="4" fill="#000"/>
<rect x="520" y="395" width="5" height="2" fill="#000"/>
<rect x="530" y="394" width="1" height="49" fill="#000"/>
<rect x="528" y="395" width="5" height="23" fill="#000"/>
<rect x="538" y="406" width="1" height="25" fill="#000"/>
<rect x="536" y="410" width="5" height="8" fill="#000"/>
<rect x="537" y="411" width="3" height="6" fill="#fff"/>
<rect x="546" y="382" width="1" height="30" fill="#000"/>
<rect x="544" y="405" width="5" height="7" fill="#000"/>
<rect x="545" y="406" width="3" height="5" fill="#fff"/>
<rect x="554" y="398" width="1" height="33" fill="#000"/>
<rect x="552" y="405" width="5" height="22" fill="#000"/>
<rect x="562" y="424" width="1" height="47" fill="#000"/>
<rect x="560" y="426" width="5" height="26" fill="#000"/>
<rect x="570" y="423" width="1" height="9" fill="#000"/>
<rect x="568" y="428" width="5" height="2" fill="#000"/>
<rect x="578" y="404" width="1" height="30" fill="#000"/>
<rect x="576" y="426" width="5" height="4" fill="#000"/>
<rect x="577" y="427" width="3" height="2" fill="#fff"/>
<rect x="586" y="400" width="1" height="34" fill="#000"/>
<rect x="584" y="406" width="5" height="20" fill="#000"/>
<rect x="585" y="407" width="3" height="18" fill="#fff"/>
<rect x="594" y="388" width="1" height="24" fill="#000"/>
<rect x="592" y="397" width="5" height="9" fill="#000"/>
<rect x="593" y="398" width="3" height="7" fill="#fff"/>
<rect x="602" y="379" width="1" height="22" fill="#000"/>
<rect x="600" y="391" width="5" height="7" fill="#000"/>
<rect x="601" y="392" width="3" height="5" fill="#fff"/>
<rect x="610" y="382" width="1" height="25" fill="#000"/>
<rect x="608" y="391" width="5" height="12" fill="#000"/>
<rect x="618" y="416" width="1" height="13" fill="#000"/>
<rect x="616" y="420" width="5" height="4" fill="#000"/>
<rect x="626" y="402" width="1" height="65" fill="#000"/>
<rect x="624" y="416" width="5" height="7" fill="#000"/>
<rect x="625" y="417" width="3" height="5" fill="#fff"/>
<rect x="634" y="412" width="1" height="29" fill="#000"/>
<rect x="632" y="416" width="5" height="7" fill="#000"/>
<rect x="642" y="382" width="1" height="46" fill="#000"/>
<rect x="640" y="393" width="5" height="30" fill="#000"/>
<rect x="641" y="394" width="3" height="28" fill="#fff"/>
<rect x="650" y="359" width="1" height="36" fill="#000"/>
<rect x="648" y="380" width="5" height="14" fill="#000"/>
<rect x="649" y="381" width="3" height="12" fill="#fff"/>
<rect x="658" y="377" width="1" height="7" fill="#000"/>
<rect x="656" y="378" width="5" height="6" fill="#000"/>
<rect x="657" y="379" width="3" height="4" fill="#fff"/>
<rect x="666" y="375" width="1" height="29" fill="#000"/>
<rect x="664" y="377" width="5" height="22" fill="#000"/>
<rect x="674" y="386" width="1" height="14" fill="#000"/>
<rect x="672" y="396" width="5" height="3" fill="#000"/>
<rect x="673" y="397" width="3" height="1" fill="#fff"/>
<rect x="682" y="373" width="1" height="25" fill="#000"/>
<rect x="680" y="376" width="5" height="21" fill="#000"/>
<rect x="681" y="377" width="3" height="19" fill="#fff"/>
<rect x="690" y="358" width="1" height="24" fill="#000"/>
<rect x="688" y="365" width="5" height="12" fill="#000"/>
<rect x="689" y="366" width="3" height="10" fill="#fff"/>
<rect x="698" y="357" width="1" height="11" fill="#000"/>
<rect x="696" y="358" width="5" height="10" fill="#000"/>
<rect x="697" y="359" width="3" height="8" fill="#fff"/>
<rect x="706" y="358" width="1" height="41" fill="#000"/>
<rect x="704" y="358" width="5" height="34" fill="#000"/>
<rect x="714" y="386" width="1" height="17" fill="#000"/>
<rect x="712" y="391" width="5" height="2" fill="#000"/>
<rect x="722" y="375" width="1" height="21" fill="#000"/>
<rect x="720" y="381" width="5" height="10" fill="#000"/>
<rect x="721" y="382" width="3" height="8" fill="#fff"/>
<rect x="730" y="365" width="1" height="23" fill="#000"/>
<rect x="728" y="369" width="5" height="12" fill="#000"/>
<rect x="729" y="370" width="3" height="10" fill="#fff"/>
<rect x="738" y="355" width="1" height="17" fill="#000"/>
<rect x="736" y="366" width="5" height="3" fill="#000"/>
<rect x="737" y="367" width="3" height="1" fill="#fff"/>
<rect x="746" y="367" width="1" height="8" fill="#000"/>
<rect x="744" y="371" width="5" height="2" fill="#000"/>
<rect x="754" y="366" width="1" height="16" fill="#000"/>
<rect x="752" y="369" width="5" height="3" fill="#000"/>
<rect x="753" y="370" width="3" height="1" fill="#fff"/>
<rect x="762" y="339" width="1" height="33" fill="#000"/>
<rect x="760" y="345" width="5" height="25" fill="#000"/>
<rect x="761" y="346" width="3" height="23" fill="#fff"/>
<rect x="770" y="333" width="1" height="19" fill="#000"/>
<rect x="768" y="345" width="5" height="3" fill="#000"/>
<rect x="778" y="333" width="1" height="17" fill="#000"/>
<rect x="776" y="337" width="5" height="11" fill="#000"/>
<rect x="777" y="338" width="3" height="9" fill="#fff"/>
<rect x="786" y="337" width="1" height="30" fill="#000"/>
<rect x="784" y="338" width="5" height="26" fill="#000"/>
<rect x="794" y="360" width="1" height="8" fill="#000"/>
<rect x="792" y="364" width="5" height="3" fill="#000"/>
<rect x="793" y="365" width="3" height="1" fill="#fff"/>
<rect x="802" y="362" width="1" height="20" fill="#000"/>
<rect x="800" y="364" width="5" height="5" fill="#000"/>
<rect x="810" y="345" width="1" height="25" fill="#000"/>
<rect x="808" y="345" width="5" height="24" fill="#000"/>
<rect x="809" y="346" width="3" height="22" fill="#fff"/>
<rect x="818" y="331" width="1" height="32" fill="#000"/>
<rect x="816" y="346" width="5" height="6" fill="#000"/>
<rect x="826" y="334" width="1" height="21" fill="#000"/>
<rect x="824" y="337" width="5" height="15" fill="#000"/>
<rect x="825" y="338" width="3" height="13" fill="#fff"/>
<rect x="834" y="334" width="1" height="19" fill="#000"/>
<rect x="832" y="337" width="5" height="1" fill="#000"/>
<rect x="842" y="337" width="1" height="5" fill="#000"/>
<rect x="840" y="338" width="5" height="3" fill="#000"/>
<rect x="841" y="339" width="3" height="1" fill="#fff"/>
<rect x="850" y="331" width="1" height="18" fill="#000"/>
<rect x="848" y="338" width="5" height="5" fill="#000"/>
<rect x="858" y="328" width="1" height="31" fill="#000"/>
<rect x="856" y="331" width="5" height="12" fill="#000"/>
<rect x="857" y="332" width="3" height="10" fill="#fff"/>
<rect x="866" y="318" width="1" height="17" fill="#000"/>
<rect x="864" y="330" width="5" height="2" fill="#000"/>
<rect x="874" y="308" width="1" height="28" fill="#000"/>
<rect x="872" y="311" width="5" height="20" fill="#000"/>
<rect x="873" y="312" width="3" height="18" fill="#fff"/>
<rect x="882" y="290" width="1" height="25" fill="#000"/>
<rect x="880" y="302" width="5" height="10" fill="#000"/>
<rect x="881" y="303" width="3" height="8" fill="#fff"/>
<rect x="890" y="299" width="1" height="7" fill="#000"/>
<rect x="888" y="300" width="5" height="4" fill="#000"/>
<rect x="898" y="287" width="1" height="21" fill="#000"/>
<rect x="896" y="303" width="5" height="2" fill="#000"/>
<rect x="906" y="295" width="1" height="17" fill="#000"/>
<rect x="904" y="303" width="5" height="1" fill="#000"/>
<rect x="914" y="297" width="1" height="15" fill="#000"/>
<rect x="912" y="303" width="5" height="4" fill="#000"/>
<rect x="922" y="279" width="1" height="40" fill="#000"/>
<rect x="920" y="280" width="5" height="27" fill="#000"/>
<rect x="921" y="281" width="3" height="25" fill="#fff"/>
<rect x="930" y="267" width="1" height="17" fill="#000"/>
<rect x="928" y="270" width="5" height="10" fill="#000"/>
<rect x="929" y="271" width="3" height="8" fill="#fff"/>
<rect x="938" y="268" width="1" height="8" fill="#000"/>
<rect x="936" y="269" width="5" height="6" fill="#000"/>
<rect x="937" y="270" width="3" height="4" fill="#fff"/>
<rect x="946" y="266" width="1" height="14" fill="#000"/>
<rect x="944" y="269" width="5" height="6" fill="#000"/>
<rect x="954" y="272" width="1" height="17" fill="#000"/>
<rect x="952" y="274" width="5" height="4" fill="#000"/>
<rect x="962" y="262" width="1" height="19" fill="#000"/>
<rect x="960" y="273" width="5" height="4" fill="#000"/>
<rect x="961" y="274" width="3" height="2" fill="#fff"/>
<rect x="970" y="266" width="1" height="10" fill="#000"/>
<rect x="968" y="272" width="5" height="1" fill="#000"/>
<rect x="978" y="252" width="1" height="26" fill="#000"/>
<rect x="976" y="255" width="5" height="17" fill="#000"/>
<rect x="977" y="256" width="3" height="15" fill="#fff"/>
<rect x="986" y="245" width="1" height="9" fill="#000"/>
<rect x="984" y="246" width="5" height="8" fill="#000"/>
<rect x="985" y="247" width="3" height="6" fill="#fff"/>
<rect x="994" y="223" width="1" height="26" fill="#000"/>
<rect x="992" y="223" width="5" height="23" fill="#000"/>
<rect x="993" y="224" width="3" height="21" fill="#fff"/>
<rect x="1002" y="199" width="1" height="28" fill="#000"/>
<rect x="1000" y="205" width="5" height="19" fill="#000"/>
<rect x="1001" y="206" width="3" height="17" fill="#fff"/>
<rect x="1010" y="204" width="1" height="25" fill="#000"/>
<rect x="1008" y="205" width="5" height="14" fill="#000"/>
<rect x="1018" y="194" width="1" height="32" fill="#000"/>
<rect x="1016" y="199" width="5" height="20" fill="#000"/>
<rect x="1017" y="200" width="3" height="18" fill="#fff"/>
<rect x="1026" y="185" width="1" height="22" fill="#000"/>
<rect x="1024" y="193" width="5" height="6" fill="#000"/>
<rect x="1025" y="194" width="3" height="4" fill="#fff"/>
<rect x="1034" y="187" width="1" height="8" fill="#000"/>
<rect x="1032" y="187" width="5" height="7" fill="#000"/>
<rect x="1033" y="188" width="3" height="5" fill="#fff"/>
<rect x="1042" y="181" width="1" height="20" fill="#000"/>
<rect x="1040" y="188" width="5" height="7" fill="#000"/>
<rect x="1050" y="172" width="1" height="26" fill="#000"/>
<rect x="1048" y="172" width="5" height="23" fill="#000"/>
<rect x="1049" y="173" width="3" height="21" fill="#fff"/>
<rect x="1058" y="137" width="1" height="35" fill="#000"/>
<rect x="1056" y="141" width="5" height="31" fill="#000"/>
<rect x="1057" y="142" width="3" height="29" fill="#fff"/>
<rect x="1066" y="127" width="1" height="50" fill="#000"/>
<rect x="1064" y="142" width="5" height="23" fill="#000"/>
<rect x="1074" y="161" width="1" height="43" fill="#000"/>
<rect x="1072" y="164" width="5" height="8" fill="#000"/>
<rect x="1082" y="166" width="1" height="14" fill="#000"/>
<rect x="1080" y="169" width="5" height="11" fill="#000"/>
<rect x="1081" y="170" width="3" height="9" fill="#fff"/>
<rect x="1090" y="156" width="1" height="24" fill="#000"/>
<rect x="1088" y="168" width="5" height="1" fill="#000"/>
<rect x="1098" y="158" width="1" height="25" fill="#000"/>
<rect x="1096" y="164" width="5" height="4" fill="#000"/>
<rect x="1097" y="165" width="3" height="2" fill="#fff"/>
<rect x="1106" y="146" width="1" height="21" fill="#000"/>
<rect x="1104" y="162" width="5" height="3" fill="#000"/>
<rect x="1105" y="163" width="3" height="1" fill="#fff"/>
<rect x="1114" y="120" width="1" height="43" fill="#000"/>
<rect x="1112" y="139" width="5" height="24" fill="#000"/>
<rect x="1113" y="140" width="3" height="22" fill="#fff"/>
<rect x="1122" y="129" width="1" height="25" fill="#000"/>
<rect x="1120" y="139" width="5" height="1" fill="#000"/>
<rect x="1130" y="129" width="1" height="12" fill="#000"/>
<rect x="1128" y="135" width="5" height="4" fill="#000"/>
<rect x="1129" y="136" width="3" height="2" fill="#fff"/>
<rect x="1138" y="121" width="1" height="25" fill="#000"/>
<rect x="1136" y="124" width="5" height="11" fill="#000"/>
<rect x="1137" y="125" width="3" height="9" fill="#fff"/>
<rect x="1146" y="106" width="1" height="21" fill="#000"/>
<rect x="1144" y="119" width="5" height="5" fill="#000"/>
<rect x="1145" y="120" width="3" height="3" fill="#fff"/>
<rect x="1154" y="108" width="1" height="15" fill="#000"/>
<rect x="1152" y="112" width="5" height="7" fill="#000"/>
<rect x="1153" y="113" width="3" height="5" fill="#fff"/>
<rect x="1162" y="91" width="1" height="24" fill="#000"/>
<rect x="1160" y="91" width="5" height="20" fill="#000"/>
<rect x="1161" y="92" width="3" height="18" fill="#fff"/>
<rect x="1170" y="82" width="1" height="26" fill="#000"/>
<rect x="1168" y="92" width="5" height="1" fill="#000"/>
<rect x="1178" y="87" width="1" height="6" fill="#000"/>
<rect x="1176" y="88" width="5" height="4" fill="#000"/>
<rect x="1177" y="89" width="3" height="2" fill="#fff"/>
<rect x="1186" y="85" width="1" height="24" fill="#000"/>
<rect x="1184" y="88" width="5" height="9" fill="#000"/>
<rect x="1194" y="95" width="1" height="24" fill="#000"/>
<rect x="1192" y="96" width="5" height="3" fill="#000"/>
<rect x="1202" y="82" width="1" height="23" fill="#000"/>
<rect x="1200" y="84" width="5" height="15" fill="#000"/>
<rect x="1201" y="85" width="3" height="13" fill="#fff"/>
<rect x="1210" y="74" width="1" height="28" fill="#000"/>
<rect x="1208" y="82" width="5" height="15" fill="#000"/>
<rect x="1218" y="95" width="1" height="30" fill="#000"/>
<rect x="1216" y="96" width="5" height="17" fill="#000"/>
<rect x="1226" y="119" width="1" height="6" fill="#000"/>
<rect x="1224" y="121" width="5" height="3" fill="#000"/>
<rect x="1234" y="115" width="1" height="11" fill="#000"/>
<rect x="1232" y="120" width="5" height="4" fill="#000"/>
<rect x="1233" y="121" width="3" height="2" fill="#fff"/>
<rect x="1242" y="119" width="1" height="47" fill="#000"/>
<rect x="1240" y="119" width="5" height="45" fill="#000"/>
<rect x="1250" y="152" width="1" height="24" fill="#000"/>
<rect x="1248" y="167" width="5" height="1" fill="#000"/>
<rect x="1258" y="135" width="1" height="32" fill="#000"/>
<rect x="1256" y="136" width="5" height="29" fill="#000"/>
<rect x="1257" y="137" width="3" height="27" fill="#fff"/>
<rect x="1266" y="99" width="1" height="39" fill="#000"/>
<rect x="1264" y="108" width="5" height="29" fill="#000"/>
<rect x="1265" y="109" width="3" height="27" fill="#fff"/>
<rect x="1274" y="102" width="1" height="3" fill="#000"/>
<rect x="1272" y="103" width="5" height="1" fill="#000"/>
<rect x="1282" y="93" width="1" height="29" fill="#000"/>
<rect x="1280" y="103" width="5" height="3" fill="#000"/>
<rect x="1290" y="89" width="1" height="19" fill="#000"/>
<rect x="1288" y="97" width="5" height="9" fill="#000"/>
<rect x="1289" y="98" width="3" height="7" fill="#fff"/>
<rect x="1298" y="68" width="1" height="30" fill="#000"/>
<rect x="1296" y="71" width="5" height="26" fill="#000"/>
<rect x="1297" y="72" width="3" height="24" fill="#fff"/>
<rect x="1306" y="61" width="1" height="20" fill="#000"/>
<rect x="1304" y="64" width="5" height="7" fill="#000"/>
<rect x="1305" y="65" width="3" height="5" fill="#fff"/>
<rect x="1314" y="61" width="1" height="3" fill="#000"/>
<rect x="1312" y="61" width="5" height="2" fill="#000"/>
<rect x="1322" y="53" width="1" height="10" fill="#000"/>
<rect x="1320" y="55" width="5" height="7" fill="#000"/>
<rect x="1321" y="56" width="3" height="5" fill="#fff"/>
<rect x="1330" y="52" width="1" height="47" fill="#000"/>
<rect x="1328" y="55" width="5" height="38" fill="#000"/>
<rect x="1338" y="86" width="1" height="38" fill="#000"/>
<rect x="1336" y="92" width="5" height="23" fill="#000"/>
<rect x="1346" y="111" width="1" height="31" fill="#000"/>
<rect x="1344" y="114" width="5" height="21" fill="#000"/>
<rect x="1354" y="115" width="1" height="34" fill="#000"/>
<rect x="1352" y="124" width="5" height="11" fill="#000"/>
<rect x="1353" y="125" width="3" height="9" fill="#fff"/>
<rect x="1362" y="124" width="1" height="3" fill="#000"/>
<rect x="1360" y="125" width="5" height="1" fill="#000"/>
<rect x="1370" y="122" width="1" height="23" fill="#000"/>
<rect x="1368" y="126" width="5" height="3" fill="#000"/>
<rect x="1369" y="127" width="3" height="1" fill="#fff"/>
<rect x="1378" y="117" width="1" height="30" fill="#000"/>
<rect x="1376" y="128" width="5" height="15" fill="#000"/>
<rect x="1386" y="126" width="1" height="24" fill="#000"/>
<rect x="1384" y="128" width="5" height="14" fill="#000"/>
<rect x="1385" y="129" width="3" height="12" fill="#fff"/>
<rect x="1394" y="133" width="1" height="13" fill="#000"/>
<rect x="1392" y="138" width="5" height="6" fill="#000"/>
<rect x="1402" y="124" width="1" height="30" fill="#000"/>
<rect x="1400" y="124" width="5" height="20" fill="#000"/>
<rect x="1401" y="125" width="3" height="18" fill="#fff"/>
<rect x="1410" y="128" width="1" height="6" fill="#000"/>
<rect x="1408" y="129" width="5" height="4" fill="#000"/>
<rect x="1418" y="105" width="1" height="35" fill="#000"/>
<rect x="1416" y="109" width="5" height="24" fill="#000"/>
<rect x="1417" y="110" width="3" height="22" fill="#fff"/>
<rect x="1676.5" y="74.5" width="4" height="4" fill="#fff" stroke="#ff0000" stroke-width="1"/>
<rect x="1676.5" y="137.5" width="4" height="4" fill="#fff" stroke="#0000ff" stroke-width="1"/>
<rect x="1676.5" y="152.5" width="4" height="4" fill="#fff" stroke="#0000ff" stroke-width="1"/>
<rect x="971.5" y="115.5" width="61" height="18" fill="#fff" stroke="#ff0000" stroke-width="1"/>
<text x="973.3" y="131" font-size="16" fill="#ff0000" shape-rendering="auto" style="font-family:'Liberation Sans', 'Noto Sans CJK SC', sans-serif">150.532</text>
<polyline points="1032,124.5 1044,124.5" fill="none" stroke="#ff0000" stroke-width="1"/>
<rect x="1139.5" y="64.5" width="61" height="18" fill="#fff" stroke="#ff0000" stroke-width="1"/>
<text x="1141.3" y="80" font-size="16" fill="#ff0000" shape-rendering="auto" style="font-family:'Liberation Sans', 'Noto Sans CJK SC', sans-serif">152.555</text>
<polyline points="1200,73.5 1210.5,73.5 1210.5,74" fill="none" stroke="#ff0000" stroke-width="1"/>
<rect x="1251.5" y="43.5" width="61" height="18" fill="#fff" stroke="#ff0000" stroke-width="1"/>
<text x="1253.3" y="59" font-size="16" fill="#ff0000" shape-rendering="auto" style="font-family:'Liberation Sans', 'Noto Sans CJK SC', sans-serif">153.388</text>
<polyline points="1312,52.5 1323,52.5" fill="none" stroke="#ff0000" stroke-width="1"/>
<rect x="1179.5" y="167.5" width="61" height="18" fill="#fff" stroke="#ff0000" stroke-width="1"/>
<text x="1181.3" y="183" font-size="16" fill="#ff0000" shape-rendering="auto" style="font-family:'Liberation Sans', 'Noto Sans CJK SC', sans-serif">148.460</text>
<polyline points="1240,176.5 1251,176.5" fill="none" stroke="#ff0000" stroke-width="1"/>
<g shape-rendering="auto">
<line x1="1081.0" y1="201.0" x2="1208.9" y2="81.0" stroke="#ff0000" stroke-width="3.3" stroke-linecap="round"/>
<polygon points="1210.5,79.5 1205.4,90.9 1198.8,83.9" fill="#ff0000"/>
<line x1="1210.5" y1="79.5" x2="1249.6" y2="168.0" stroke="#ff0000" stroke-width="3.3" stroke-linecap="round"/>
<polygon points="1250.5,170.0 1241.5,161.4 1250.2,157.5" fill="#ff0000"/>
<line x1="1250.5" y1="170.0" x2="1322.7" y2="65.8" stroke="#ff0000" stroke-width="3.3" stroke-linecap="round"/>
<polygon points="1324.0,64.0 1321.4,76.2 1313.5,70.7" fill="#ff0000"/>
<line x1="1324.0" y1="64.0" x2="1403.6" y2="160.8" stroke="#ff0000" stroke-width="3.3" stroke-linecap="round"/>
<polygon points="1405.0,162.5 1394.0,156.7 1401.4,150.6" fill="#ff0000"/>
<line x1="1405.0" y1="162.5" x2="1443.2" y2="98.1" stroke="#ff0000" stroke-width="3.3" stroke-linecap="round"/>
<polygon points="1444.3,96.2 1442.6,108.5 1434.3,103.6" fill="#ff0000"/>
<line x1="1184.0" y1="590.0" x2="1260.7" y2="639.8" stroke="#ff0000" stroke-width="3" stroke-linecap="round"/>
<polygon points="1262.5,641.0 1250.2,638.8 1255.5,630.7" fill="#ff0000"/>
<line x1="1262.5" y1="641.0" x2="1328.9" y2="622.6" stroke="#ff0000" stroke-width="3" stroke-linecap="round"/>
<polygon points="1331.0,622.0 1321.2,629.7 1318.6,620.4" fill="#ff0000"/>
<line x1="1331.0" y1="622.0" x2="1418.1" y2="668.0" stroke="#ff0000" stroke-width="3" stroke-linecap="round"/>
<polygon points="1420.0,669.0 1407.6,667.9 1412.1,659.4" fill="#ff0000"/>
<line x1="1376.0" y1="846.5" x2="1440.8" y2="836.8" stroke="#ff0000" stroke-width="3" stroke-linecap="round"/>
<polygon points="1443.0,836.5 1432.3,842.9 1430.9,833.5" fill="#ff0000"/>
</g>
<rect x="1256" y="123" width="207" height="7" fill="#00ff00"/>
<text x="1435" y="157.4" font-size="20" font-weight="200" letter-spacing="2.1" fill="#00f000" shape-rendering="auto" style="font-family:'Liberation Sans', 'Noto Sans CJK SC', sans-serif">多空转折点</text>
<rect x="0" y="25" width="1682" height="1" fill="#000"/>
<rect x="1681" y="25" width="1" height="902" fill="#000"/>
<rect x="0" y="578" width="1682" height="1" fill="#000"/>
<rect x="0" y="580" width="1682" height="1" fill="#000"/>
<rect x="0" y="750" width="1682" height="1" fill="#000"/>
<rect x="0" y="752" width="1682" height="1" fill="#000"/>
<rect x="0" y="926" width="1682" height="1" fill="#000"/>
<rect x="1681" y="579" width="1" height="1" fill="#fff"/>
<rect x="1681" y="751" width="1" height="1" fill="#fff"/>
<rect x="1682" y="47" width="2" height="1" fill="#000"/>
<text transform="translate(1686.5,50.5) scale(0.95,1)" font-size="9.8" shape-rendering="auto" style="font-family:'Liberation Sans', 'Noto Sans CJK SC', sans-serif" fill="#000">153.590</text>
<rect x="1682" y="80" width="2" height="1" fill="#000"/>
<text transform="translate(1686.5,83.5) scale(0.95,1)" font-size="9.8" shape-rendering="auto" style="font-family:'Liberation Sans', 'Noto Sans CJK SC', sans-serif" fill="#000">152.295</text>
<rect x="1682" y="113" width="2" height="1" fill="#000"/>
<text transform="translate(1686.5,116.5) scale(0.95,1)" font-size="9.8" shape-rendering="auto" style="font-family:'Liberation Sans', 'Noto Sans CJK SC', sans-serif" fill="#000">150.965</text>
<rect x="1682" y="146" width="2" height="1" fill="#000"/>
<text transform="translate(1686.5,149.5) scale(0.95,1)" font-size="9.8" shape-rendering="auto" style="font-family:'Liberation Sans', 'Noto Sans CJK SC', sans-serif" fill="#000">149.670</text>
<rect x="1682" y="179" width="2" height="1" fill="#000"/>
<text transform="translate(1686.5,182.5) scale(0.95,1)" font-size="9.8" shape-rendering="auto" style="font-family:'Liberation Sans', 'Noto Sans CJK SC', sans-serif" fill="#000">148.340</text>
<rect x="1682" y="212" width="2" height="1" fill="#000"/>
<text transform="translate(1686.5,215.5) scale(0.95,1)" font-size="9.8" shape-rendering="auto" style="font-family:'Liberation Sans', 'Noto Sans CJK SC', sans-serif" fill="#000">147.045</text>
<rect x="1682" y="245" width="2" height="1" fill="#000"/>
<text transform="translate(1686.5,248.5) scale(0.95,1)" font-size="9.8" shape-rendering="auto" style="font-family:'Liberation Sans', 'Noto Sans CJK SC', sans-serif" fill="#000">145.750</text>
<rect x="1682" y="278" width="2" height="1" fill="#000"/>
<text transform="translate(1686.5,281.5) scale(0.95,1)" font-size="9.8" shape-rendering="auto" style="font-family:'Liberation Sans', 'Noto Sans CJK SC', sans-serif" fill="#000">144.420</text>
<rect x="1682" y="311" width="2" height="1" fill="#000"/>
<text transform="translate(1686.5,314.5) scale(0.95,1)" font-size="9.8" shape-rendering="auto" style="font-family:'Liberation Sans', 'Noto Sans CJK SC', sans-serif" fill="#000">143.125</text>
<rect x="1682" y="344" width="2" height="1" fill="#000"/>
<text transform="translate(1686.5,347.5) scale(0.95,1)" font-size="9.8" shape-rendering="auto" style="font-family:'Liberation Sans', 'Noto Sans CJK SC', sans-serif" fill="#000">141.795</text>
<rect x="1682" y="377" width="2" height="1" fill="#000"/>
<text transform="translate(1686.5,380.5) scale(0.95,1)" font-size="9.8" shape-rendering="auto" style="font-family:'Liberation Sans', 'Noto Sans CJK SC', sans-serif" fill="#000">140.500</text>
<rect x="1682" y="410" width="2" height="1" fill="#000"/>
<text transform="translate(1686.5,413.5) scale(0.95,1)" font-size="9.8" shape-rendering="auto" style="font-family:'Liberation Sans', 'Noto Sans CJK SC', sans-serif" fill="#000">139.170</text>
<rect x="1682" y="443" width="2" height="1" fill="#000"/>
<text transform="translate(1686.5,446.5) scale(0.95,1)" font-size="9.8" shape-rendering="auto" style="font-family:'Liberation Sans', 'Noto Sans CJK SC', sans-serif" fill="#000">137.875</text>
<rect x="1682" y="476" width="2" height="1" fill="#000"/>
<text transform="translate(1686.5,479.5) scale(0.95,1)" font-size="9.8" shape-rendering="auto" style="font-family:'Liberation Sans', 'Noto Sans CJK SC', sans-serif" fill="#000">136.545</text>
<rect x="1682" y="509" width="2" height="1" fill="#000"/>
<text transform="translate(1686.5,512.5) scale(0.95,1)" font-size="9.8" shape-rendering="auto" style="font-family:'Liberation Sans', 'Noto Sans CJK SC', sans-serif" fill="#000">135.250</text>
<rect x="1682" y="542" width="2" height="1" fill="#000"/>
<text transform="translate(1686.5,545.5) scale(0.95,1)" font-size="9.8" shape-rendering="auto" style="font-family:'Liberation Sans', 'Noto Sans CJK SC', sans-serif" fill="#000">133.920</text>
<rect x="1682" y="575" width="2" height="1" fill="#000"/>
<text transform="translate(1686.5,578.5) scale(0.95,1)" font-size="9.8" shape-rendering="auto" style="font-family:'Liberation Sans', 'Noto Sans CJK SC', sans-serif" fill="#000">132.625</text>
<rect x="1683" y="70" width="41" height="11" fill="#ff0000"/>
<text transform="translate(1687,78.7) scale(0.95,1)" font-size="9.8" shape-rendering="auto" style="font-family:'Liberation Sans', 'Noto Sans CJK SC', sans-serif" fill="#fff">152.436</text>
<rect x="1683" y="86" width="41" height="11" fill="#ff0000"/>
<text transform="translate(1687,94.7) scale(0.95,1)" font-size="9.8" shape-rendering="auto" style="font-family:'Liberation Sans', 'Noto Sans CJK SC', sans-serif" fill="#fff">151.802</text>
<rect x="1683" y="104" width="41" height="11" fill="#000000"/>
<text transform="translate(1687,112.7) scale(0.95,1)" font-size="9.8" shape-rendering="auto" style="font-family:'Liberation Sans', 'Noto Sans CJK SC', sans-serif" fill="#fff">151.157</text>
<rect x="1683" y="118" width="41" height="11" fill="#0fcdd0"/>
<text transform="translate(1687,126.7) scale(0.95,1)" font-size="9.8" shape-rendering="auto" style="font-family:'Liberation Sans', 'Noto Sans CJK SC', sans-serif" fill="#fff">150.532</text>
<rect x="1683" y="133" width="41" height="11" fill="#0000ff"/>
<text transform="translate(1687,141.7) scale(0.95,1)" font-size="9.8" shape-rendering="auto" style="font-family:'Liberation Sans', 'Noto Sans CJK SC', sans-serif" fill="#fff">149.937</text>
<rect x="1683" y="148" width="41" height="11" fill="#0000ff"/>
<text transform="translate(1687,156.7) scale(0.95,1)" font-size="9.8" shape-rendering="auto" style="font-family:'Liberation Sans', 'Noto Sans CJK SC', sans-serif" fill="#fff">149.342</text>
<polygon points="0,32 0,36.5 4.5,36.5" fill="#000" shape-rendering="auto"/>
<text transform="translate(9,36.6) scale(0.95,1)" font-size="9.8" shape-rendering="auto" style="font-family:'Liberation Sans', 'Noto Sans CJK SC', sans-serif" fill="#000" textLength="221" lengthAdjust="spacingAndGlyphs">GBPJPY-,Daily  150.227 151.306 149.875 151.157</text>
<rect x="2" y="674" width="1" height="61" fill="#c0c0c0"/>
<rect x="10" y="674" width="1" height="66" fill="#c0c0c0"/>
<rect x="18" y="674" width="1" height="69" fill="#c0c0c0"/>
<rect x="26" y="674" width="1" height="67" fill="#c0c0c0"/>
<rect x="34" y="674" width="1" height="67" fill="#c0c0c0"/>
<rect x="42" y="674" width="1" height="63" fill="#c0c0c0"/>
<rect x="50" y="674" width="1" height="57" fill="#c0c0c0"/>
<rect x="58" y="674" width="1" height="49" fill="#c0c0c0"/>
<rect x="66" y="674" width="1" height="43" fill="#c0c0c0"/>
<rect x="74" y="674" width="1" height="38" fill="#c0c0c0"/>
<rect x="82" y="674" width="1" height="31" fill="#c0c0c0"/>
<rect x="90" y="674" width="1" height="26" fill="#c0c0c0"/>
<rect x="98" y="674" width="1" height="17" fill="#c0c0c0"/>
<rect x="106" y="674" width="1" height="17" fill="#c0c0c0"/>
<rect x="114" y="674" width="1" height="11" fill="#c0c0c0"/>
<rect x="122" y="674" width="1" height="7" fill="#c0c0c0"/>
<rect x="138" y="671" width="1" height="4" fill="#c0c0c0"/>
<rect x="146" y="668" width="1" height="7" fill="#c0c0c0"/>
<rect x="154" y="670" width="1" height="5" fill="#c0c0c0"/>
<rect x="162" y="670" width="1" height="5" fill="#c0c0c0"/>
<rect x="170" y="674" width="1" height="1" fill="#c0c0c0"/>
<rect x="186" y="674" width="1" height="3" fill="#c0c0c0"/>
<rect x="194" y="674" width="1" height="1" fill="#c0c0c0"/>
<rect x="202" y="674" width="1" height="1" fill="#c0c0c0"/>
<rect x="210" y="672" width="1" height="3" fill="#c0c0c0"/>
<rect x="218" y="672" width="1" height="3" fill="#c0c0c0"/>
<rect x="226" y="673" width="1" height="2" fill="#c0c0c0"/>
<rect x="234" y="674" width="1" height="1" fill="#c0c0c0"/>
<rect x="242" y="674" width="1" height="1" fill="#c0c0c0"/>
<rect x="250" y="674" width="1" height="1" fill="#c0c0c0"/>
<rect x="258" y="674" width="1" height="6" fill="#c0c0c0"/>
<rect x="266" y="674" width="1" height="11" fill="#c0c0c0"/>
<rect x="274" y="674" width="1" height="13" fill="#c0c0c0"/>
<rect x="282" y="674" width="1" height="16" fill="#c0c0c0"/>
<rect x="290" y="674" width="1" height="18" fill="#c0c0c0"/>
<rect x="298" y="674" width="1" height="11" fill="#c0c0c0"/>
<rect x="306" y="674" width="1" height="13" fill="#c0c0c0"/>
<rect x="314" y="674" width="1" height="12" fill="#c0c0c0"/>
<rect x="322" y="674" width="1" height="12" fill="#c0c0c0"/>
<rect x="330" y="674" width="1" height="10" fill="#c0c0c0"/>
<rect x="338" y="674" width="1" height="1" fill="#c0c0c0"/>
<rect x="346" y="661" width="1" height="14" fill="#c0c0c0"/>
<rect x="354" y="651" width="1" height="24" fill="#c0c0c0"/>
<rect x="362" y="651" width="1" height="24" fill="#c0c0c0"/>
<rect x="370" y="650" width="1" height="25" fill="#c0c0c0"/>
<rect x="378" y="648" width="1" height="27" fill="#c0c0c0"/>
<rect x="386" y="648" width="1" height="27" fill="#c0c0c0"/>
<rect x="394" y="648" width="1" height="27" fill="#c0c0c0"/>
<rect x="402" y="650" width="1" height="25" fill="#c0c0c0"/>
<rect x="410" y="652" width="1" height="23" fill="#c0c0c0"/>
<rect x="418" y="654" width="1" height="21" fill="#c0c0c0"/>
<rect x="426" y="654" width="1" height="21" fill="#c0c0c0"/>
<rect x="434" y="650" width="1" height="25" fill="#c0c0c0"/>
<rect x="442" y="644" width="1" height="31" fill="#c0c0c0"/>
<rect x="450" y="641" width="1" height="34" fill="#c0c0c0"/>
<rect x="458" y="640" width="1" height="35" fill="#c0c0c0"/>
<rect x="466" y="644" width="1" height="31" fill="#c0c0c0"/>
<rect x="474" y="646" width="1" height="29" fill="#c0c0c0"/>
<rect x="482" y="645" width="1" height="30" fill="#c0c0c0"/>
<rect x="490" y="642" width="1" height="33" fill="#c0c0c0"/>
<rect x="498" y="642" width="1" height="33" fill="#c0c0c0"/>
<rect x="506" y="641" width="1" height="34" fill="#c0c0c0"/>
<rect x="514" y="640" width="1" height="35" fill="#c0c0c0"/>
<rect x="522" y="641" width="1" height="34" fill="#c0c0c0"/>
<rect x="530" y="645" width="1" height="30" fill="#c0c0c0"/>
<rect x="538" y="647" width="1" height="28" fill="#c0c0c0"/>
<rect x="546" y="649" width="1" height="26" fill="#c0c0c0"/>
<rect x="554" y="654" width="1" height="21" fill="#c0c0c0"/>
<rect x="562" y="662" width="1" height="13" fill="#c0c0c0"/>
<rect x="570" y="665" width="1" height="10" fill="#c0c0c0"/>
<rect x="578" y="666" width="1" height="9" fill="#c0c0c0"/>
<rect x="586" y="665" width="1" height="10" fill="#c0c0c0"/>
<rect x="594" y="662" width="1" height="13" fill="#c0c0c0"/>
<rect x="602" y="658" width="1" height="17" fill="#c0c0c0"/>
<rect x="610" y="659" width="1" height="16" fill="#c0c0c0"/>
<rect x="618" y="662" width="1" height="13" fill="#c0c0c0"/>
<rect x="626" y="664" width="1" height="11" fill="#c0c0c0"/>
<rect x="634" y="666" width="1" height="9" fill="#c0c0c0"/>
<rect x="642" y="664" width="1" height="11" fill="#c0c0c0"/>
<rect x="650" y="659" width="1" height="16" fill="#c0c0c0"/>
<rect x="658" y="656" width="1" height="19" fill="#c0c0c0"/>
<rect x="666" y="657" width="1" height="18" fill="#c0c0c0"/>
<rect x="674" y="657" width="1" height="18" fill="#c0c0c0"/>
<rect x="682" y="655" width="1" height="20" fill="#c0c0c0"/>
<rect x="690" y="651" width="1" height="24" fill="#c0c0c0"/>
<rect x="698" y="647" width="1" height="28" fill="#c0c0c0"/>
<rect x="706" y="650" width="1" height="25" fill="#c0c0c0"/>
<rect x="714" y="653" width="1" height="22" fill="#c0c0c0"/>
<rect x="722" y="653" width="1" height="22" fill="#c0c0c0"/>
<rect x="730" y="652" width="1" height="23" fill="#c0c0c0"/>
<rect x="738" y="650" width="1" height="25" fill="#c0c0c0"/>
<rect x="746" y="650" width="1" height="25" fill="#c0c0c0"/>
<rect x="754" y="651" width="1" height="24" fill="#c0c0c0"/>
<rect x="762" y="647" width="1" height="28" fill="#c0c0c0"/>
<rect x="770" y="645" width="1" height="30" fill="#c0c0c0"/>
<rect x="778" y="642" width="1" height="33" fill="#c0c0c0"/>
<rect x="786" y="645" width="1" height="30" fill="#c0c0c0"/>
<rect x="794" y="647" width="1" height="28" fill="#c0c0c0"/>
<rect x="802" y="650" width="1" height="25" fill="#c0c0c0"/>
<rect x="810" y="648" width="1" height="27" fill="#c0c0c0"/>
<rect x="818" y="649" width="1" height="26" fill="#c0c0c0"/>
<rect x="826" y="647" width="1" height="28" fill="#c0c0c0"/>
<rect x="834" y="646" width="1" height="29" fill="#c0c0c0"/>
<rect x="842" y="646" width="1" height="29" fill="#c0c0c0"/>
<rect x="850" y="646" width="1" height="29" fill="#c0c0c0"/>
<rect x="858" y="646" width="1" height="29" fill="#c0c0c0"/>
<rect x="866" y="644" width="1" height="31" fill="#c0c0c0"/>
<rect x="874" y="641" width="1" height="34" fill="#c0c0c0"/>
<rect x="882" y="638" width="1" height="37" fill="#c0c0c0"/>
<rect x="890" y="636" width="1" height="39" fill="#c0c0c0"/>
<rect x="898" y="634" width="1" height="41" fill="#c0c0c0"/>
<rect x="906" y="634" width="1" height="41" fill="#c0c0c0"/>
<rect x="914" y="634" width="1" height="41" fill="#c0c0c0"/>
<rect x="922" y="631" width="1" height="44" fill="#c0c0c0"/>
<rect x="930" y="627" width="1" height="48" fill="#c0c0c0"/>
<rect x="938" y="625" width="1" height="50" fill="#c0c0c0"/>
<rect x="946" y="624" width="1" height="51" fill="#c0c0c0"/>
<rect x="954" y="625" width="1" height="50" fill="#c0c0c0"/>
<rect x="962" y="625" width="1" height="50" fill="#c0c0c0"/>
<rect x="970" y="626" width="1" height="49" fill="#c0c0c0"/>
<rect x="978" y="624" width="1" height="51" fill="#c0c0c0"/>
<rect x="986" y="622" width="1" height="53" fill="#c0c0c0"/>
<rect x="994" y="617" width="1" height="58" fill="#c0c0c0"/>
<rect x="1002" y="611" width="1" height="64" fill="#c0c0c0"/>
<rect x="1010" y="609" width="1" height="66" fill="#c0c0c0"/>
<rect x="1018" y="606" width="1" height="69" fill="#c0c0c0"/>
<rect x="1026" y="602" width="1" height="73" fill="#c0c0c0"/>
<rect x="1034" y="600" width="1" height="75" fill="#c0c0c0"/>
<rect x="1042" y="600" width="1" height="75" fill="#c0c0c0"/>
<rect x="1050" y="597" width="1" height="78" fill="#c0c0c0"/>
<rect x="1058" y="590" width="1" height="85" fill="#c0c0c0"/>
<rect x="1066" y="590" width="1" height="85" fill="#c0c0c0"/>
<rect x="1074" y="592" width="1" height="83" fill="#c0c0c0"/>
<rect x="1082" y="594" width="1" height="81" fill="#c0c0c0"/>
<rect x="1090" y="596" width="1" height="79" fill="#c0c0c0"/>
<rect x="1098" y="599" width="1" height="76" fill="#c0c0c0"/>
<rect x="1106" y="601" width="1" height="74" fill="#c0c0c0"/>
<rect x="1114" y="600" width="1" height="75" fill="#c0c0c0"/>
<rect x="1122" y="600" width="1" height="75" fill="#c0c0c0"/>
<rect x="1130" y="600" width="1" height="75" fill="#c0c0c0"/>
<rect x="1138" y="599" width="1" height="76" fill="#c0c0c0"/>
<rect x="1146" y="599" width="1" height="76" fill="#c0c0c0"/>
<rect x="1154" y="598" width="1" height="77" fill="#c0c0c0"/>
<rect x="1162" y="594" width="1" height="81" fill="#c0c0c0"/>
<rect x="1170" y="593" width="1" height="82" fill="#c0c0c0"/>
<rect x="1178" y="592" width="1" height="83" fill="#c0c0c0"/>
<rect x="1186" y="592" width="1" height="83" fill="#c0c0c0"/>
<rect x="1194" y="594" width="1" height="81" fill="#c0c0c0"/>
<rect x="1202" y="596" width="1" height="79" fill="#c0c0c0"/>
<rect x="1210" y="600" width="1" height="75" fill="#c0c0c0"/>
<rect x="1218" y="607" width="1" height="68" fill="#c0c0c0"/>
<rect x="1226" y="612" width="1" height="63" fill="#c0c0c0"/>
<rect x="1234" y="619" width="1" height="56" fill="#c0c0c0"/>
<rect x="1242" y="633" width="1" height="42" fill="#c0c0c0"/>
<rect x="1250" y="642" width="1" height="33" fill="#c0c0c0"/>
<rect x="1258" y="646" width="1" height="29" fill="#c0c0c0"/>
<rect x="1266" y="645" width="1" height="30" fill="#c0c0c0"/>
<rect x="1274" y="644" width="1" height="31" fill="#c0c0c0"/>
<rect x="1282" y="644" width="1" height="31" fill="#c0c0c0"/>
<rect x="1290" y="642" width="1" height="33" fill="#c0c0c0"/>
<rect x="1298" y="635" width="1" height="40" fill="#c0c0c0"/>
<rect x="1306" y="632" width="1" height="43" fill="#c0c0c0"/>
<rect x="1314" y="629" width="1" height="46" fill="#c0c0c0"/>
<rect x="1322" y="628" width="1" height="47" fill="#c0c0c0"/>
<rect x="1330" y="630" width="1" height="45" fill="#c0c0c0"/>
<rect x="1338" y="637" width="1" height="38" fill="#c0c0c0"/>
<rect x="1346" y="647" width="1" height="28" fill="#c0c0c0"/>
<rect x="1354" y="653" width="1" height="22" fill="#c0c0c0"/>
<rect x="1362" y="659" width="1" height="16" fill="#c0c0c0"/>
<rect x="1370" y="663" width="1" height="12" fill="#c0c0c0"/>
<rect x="1378" y="669" width="1" height="6" fill="#c0c0c0"/>
<rect x="1386" y="673" width="1" height="2" fill="#c0c0c0"/>
<rect x="1394" y="674" width="1" height="1" fill="#c0c0c0"/>
<rect x="1402" y="674" width="1" height="1" fill="#c0c0c0"/>
<rect x="1410" y="674" width="1" height="5" fill="#c0c0c0"/>
<rect x="1418" y="674" width="1" height="1" fill="#c0c0c0"/>
<path d="M0.5 712v1M1.5 713v1M2.5 713v1M6.5 716v1M7.5 717v1M8.5 717v2M12.5 720v2M13.5 721v1M14.5 722v1M18.5 724v2M19.5 725v1M20.5 725v2M24.5 728v1M25.5 728v1M26.5 729v1M30.5 730v2M31.5 731v1M32.5 731v1M36.5 733v1M37.5 733v1M38.5 733v1M42.5 734v1M43.5 735v1M44.5 735v1M48.5 735v1M49.5 735v1M50.5 735v1M54.5 735v1M55.5 735v1M56.5 735v1M60.5 734v1M61.5 734v1M62.5 734v1M66.5 733v1M67.5 733v1M68.5 732v2M72.5 731v1M73.5 731v1M74.5 731v1M78.5 729v1M79.5 728v1M80.5 728v1M84.5 726v1M85.5 725v1M86.5 724v2M90.5 722v1M91.5 721v2M92.5 721v1M96.5 718v1M97.5 717v1M98.5 716v2M102.5 714v1M103.5 713v1M104.5 712v2M108.5 709v2M109.5 709v1M110.5 708v1M114.5 705v2M115.5 704v2M116.5 704v1M120.5 701v1M121.5 700v2M122.5 700v1M126.5 697v1M127.5 696v2M128.5 696v1M132.5 693v1M133.5 692v2M134.5 692v1M138.5 689v2M139.5 689v1M140.5 688v1M144.5 686v1M145.5 685v1M146.5 684v2M150.5 683v1M151.5 682v1M152.5 682v1M156.5 680v1M157.5 679v2M158.5 679v1M162.5 677v2M163.5 677v1M164.5 677v1M168.5 676v1M169.5 676v1M170.5 676v1M174.5 675v1M175.5 674v2M176.5 674v1M180.5 674v1M181.5 673v1M182.5 673v1M186.5 673v1M187.5 673v1M188.5 673v1M192.5 672v1M193.5 672v1M194.5 672v1M198.5 672v1M199.5 672v1M200.5 672v1M204.5 672v1M205.5 672v1M206.5 672v1M210.5 672v1M211.5 672v1M212.5 672v1M216.5 673v1M217.5 673v1M218.5 673v1M222.5 673v1M223.5 673v1M224.5 673v1M228.5 673v1M229.5 673v1M230.5 673v1M234.5 674v1M235.5 674v1M236.5 674v1M240.5 674v1M241.5 674v1M242.5 674v1M246.5 674v1M247.5 674v1M248.5 674v1M252.5 674v1M253.5 674v1M254.5 674v1M258.5 674v1M259.5 674v1M260.5 674v1M264.5 675v1M265.5 675v1M266.5 675v1M270.5 676v1M271.5 676v1M272.5 676v1M276.5 677v1M277.5 677v1M278.5 677v1M282.5 678v1M283.5 678v2M284.5 679v1M288.5 680v1M289.5 680v1M290.5 680v1M294.5 681v1M295.5 681v1M296.5 681v1M300.5 682v1M301.5 682v1M302.5 682v1M306.5 683v1M307.5 683v1M308.5 683v1M312.5 684v1M313.5 684v1M314.5 684v1M318.5 685v1M319.5 685v1M320.5 685v1M324.5 685v1M325.5 685v1M326.5 685v1M330.5 686v1M331.5 686v1M332.5 685v1M336.5 685v1M337.5 685v1M338.5 685v1M342.5 683v1M343.5 683v1M344.5 683v1M348.5 681v1M349.5 680v2M350.5 680v1M354.5 678v1M355.5 677v1M356.5 677v1M360.5 674v2M361.5 674v1M362.5 673v2M366.5 671v2M367.5 671v1M368.5 670v2M372.5 669v1M373.5 668v1M374.5 667v2M378.5 665v2M379.5 665v1M380.5 664v2M384.5 662v2M385.5 662v1M386.5 661v2M390.5 659v1M391.5 659v1M392.5 658v1M396.5 656v1M397.5 656v1M398.5 655v2M402.5 653v2M403.5 653v1M404.5 653v1M408.5 652v1M409.5 651v1M410.5 651v1M414.5 651v1M415.5 651v1M416.5 650v1M420.5 650v1M421.5 650v1M422.5 650v1M426.5 650v1M427.5 650v1M428.5 650v1M432.5 650v1M433.5 650v1M434.5 650v1M438.5 650v1M439.5 650v1M440.5 650v1M444.5 649v1M445.5 649v1M446.5 649v1M450.5 649v1M451.5 649v1M452.5 649v1M456.5 648v1M457.5 648v1M458.5 648v1M462.5 648v1M463.5 648v1M464.5 648v1M468.5 647v1M469.5 647v1M470.5 647v1M474.5 647v1M475.5 647v1M476.5 647v1M480.5 646v2M481.5 646v1M482.5 646v1M486.5 646v1M487.5 645v2M488.5 645v1M492.5 645v1M493.5 645v1M494.5 644v1M498.5 644v1M499.5 644v1M500.5 643v2M504.5 643v1M505.5 643v1M506.5 643v1M510.5 643v1M511.5 643v1M512.5 642v2M516.5 642v1M517.5 642v1M518.5 642v1M522.5 642v1M523.5 642v1M524.5 642v2M528.5 643v1M529.5 643v1M530.5 643v1M534.5 643v1M535.5 643v1M536.5 643v1M540.5 643v1M541.5 643v1M542.5 643v1M546.5 644v1M547.5 644v1M548.5 644v1M552.5 644v1M553.5 644v2M554.5 645v1M558.5 646v1M559.5 646v1M560.5 646v1M564.5 647v2M565.5 648v1M566.5 648v1M570.5 649v1M571.5 650v1M572.5 650v1M576.5 651v1M577.5 652v1M578.5 652v1M582.5 653v2M583.5 654v1M584.5 654v1M588.5 655v2M589.5 656v1M590.5 656v1M594.5 657v1M595.5 657v1M596.5 658v1M600.5 658v1M601.5 658v2M602.5 659v1M606.5 659v1M607.5 659v2M608.5 660v1M612.5 660v1M613.5 660v2M614.5 661v1M618.5 661v1M619.5 662v1M620.5 662v1M624.5 662v1M625.5 662v1M626.5 662v2M630.5 663v1M631.5 663v1M632.5 663v1M636.5 663v1M637.5 663v1M638.5 663v1M642.5 663v1M643.5 663v1M644.5 663v1M648.5 662v1M649.5 662v1M650.5 662v1M654.5 662v1M655.5 661v1M656.5 661v1M660.5 661v1M661.5 661v1M662.5 661v1M666.5 660v2M667.5 660v1M668.5 660v1M672.5 660v1M673.5 660v1M674.5 660v1M678.5 660v1M679.5 660v1M680.5 660v1M684.5 660v1M685.5 660v1M686.5 659v1M690.5 659v1M691.5 659v1M692.5 658v1M696.5 657v1M697.5 657v1M698.5 657v1M702.5 656v1M703.5 656v1M704.5 656v1M708.5 655v1M709.5 655v1M710.5 655v1M714.5 654v1M715.5 654v1M716.5 654v1M720.5 653v1M721.5 653v1M722.5 653v1M726.5 653v1M727.5 653v1M728.5 653v1M732.5 653v1M733.5 653v1M734.5 652v1M738.5 652v1M739.5 652v1M740.5 652v1M744.5 651v1M745.5 651v1M746.5 651v1M750.5 651v1M751.5 651v1M752.5 651v1M756.5 651v1M757.5 651v1M758.5 651v1M762.5 650v1M763.5 650v1M764.5 650v1M768.5 650v1M769.5 650v1M770.5 650v1M774.5 650v1M775.5 650v1M776.5 649v1M780.5 649v1M781.5 649v1M782.5 649v1M786.5 648v1M787.5 648v1M788.5 648v1M792.5 648v1M793.5 648v1M794.5 648v1M798.5 648v1M799.5 648v1M800.5 647v1M804.5 647v1M805.5 647v1M806.5 647v1M810.5 647v1M811.5 647v1M812.5 647v1M816.5 647v1M817.5 647v1M818.5 647v1M822.5 647v1M823.5 647v1M824.5 647v1M828.5 647v1M829.5 647v1M830.5 647v1M834.5 647v1M835.5 647v1M836.5 647v1M840.5 647v1M841.5 647v1M842.5 647v1M846.5 647v1M847.5 647v1M848.5 647v1M852.5 647v1M853.5 647v1M854.5 647v1M858.5 647v1M859.5 647v1M860.5 647v1M864.5 647v1M865.5 647v1M866.5 647v1M870.5 646v1M871.5 646v1M872.5 646v1M876.5 646v1M877.5 645v2M878.5 645v1M882.5 645v1M883.5 645v1M884.5 644v1M888.5 644v1M889.5 644v1M890.5 643v1M894.5 643v1M895.5 642v2M896.5 642v1M900.5 642v1M901.5 641v2M902.5 641v1M906.5 641v1M907.5 641v1M908.5 640v1M912.5 640v1M913.5 640v1M914.5 639v1M918.5 639v1M919.5 638v1M920.5 638v1M924.5 637v1M925.5 637v1M926.5 637v1M930.5 636v1M931.5 635v1M932.5 635v1M936.5 634v1M937.5 634v1M938.5 634v1M942.5 633v1M943.5 632v1M944.5 632v1M948.5 631v1M949.5 631v1M950.5 631v1M954.5 630v1M955.5 630v1M956.5 630v1M960.5 629v1M961.5 629v1M962.5 629v1M966.5 628v2M967.5 628v1M968.5 628v1M972.5 628v1M973.5 628v1M974.5 627v1M978.5 627v1M979.5 627v1M980.5 626v2M984.5 626v1M985.5 626v1M986.5 625v2M990.5 625v1M991.5 624v2M992.5 624v1M996.5 623v2M997.5 623v1M998.5 623v1M1002.5 622v1M1003.5 622v1M1004.5 622v1M1008.5 621v1M1009.5 621v1M1010.5 620v1M1014.5 619v1M1015.5 619v1M1016.5 619v1M1020.5 618v1M1021.5 617v2M1022.5 617v1M1026.5 616v1M1027.5 616v1M1028.5 615v1M1032.5 614v1M1033.5 613v2M1034.5 613v1M1038.5 612v1M1039.5 611v1M1040.5 611v1M1044.5 609v2M1045.5 609v1M1046.5 609v1M1050.5 607v1M1051.5 607v1M1052.5 606v2M1056.5 605v1M1057.5 604v1M1058.5 604v1M1062.5 602v1M1063.5 602v1M1064.5 601v2M1068.5 600v1M1069.5 600v1M1070.5 600v1M1074.5 599v1M1075.5 598v1M1076.5 598v1M1080.5 597v1M1081.5 597v1M1082.5 597v1M1086.5 596v1M1087.5 596v1M1088.5 596v1M1092.5 596v1M1093.5 596v1M1094.5 596v1M1098.5 595v1M1099.5 595v1M1100.5 595v1M1104.5 595v1M1105.5 595v1M1106.5 595v2M1110.5 596v1M1111.5 596v1M1112.5 596v1M1116.5 596v1M1117.5 596v1M1118.5 596v1M1122.5 596v1M1123.5 596v1M1124.5 596v1M1128.5 597v1M1129.5 597v1M1130.5 597v1M1134.5 597v1M1135.5 598v1M1136.5 598v1M1140.5 598v1M1141.5 598v1M1142.5 598v1M1146.5 599v1M1147.5 599v1M1148.5 599v1M1152.5 599v1M1153.5 599v1M1154.5 599v1M1158.5 599v1M1159.5 599v1M1160.5 599v1M1164.5 599v1M1165.5 599v1M1166.5 599v1M1170.5 598v1M1171.5 598v1M1172.5 598v1M1176.5 598v1M1177.5 597v1M1178.5 597v1M1182.5 597v1M1183.5 597v1M1184.5 597v1M1188.5 596v1M1189.5 596v1M1190.5 596v1M1194.5 596v1M1195.5 596v1M1196.5 596v1M1200.5 596v1M1201.5 595v1M1202.5 595v1M1206.5 595v1M1207.5 595v1M1208.5 595v1M1212.5 596v1M1213.5 596v1M1214.5 596v1M1218.5 596v1M1219.5 597v1M1220.5 597v1M1224.5 598v1M1225.5 598v1M1226.5 598v1M1230.5 599v1M1231.5 600v1M1232.5 600v1M1236.5 602v1M1237.5 602v1M1238.5 603v1M1242.5 605v1M1243.5 606v1M1244.5 606v2M1248.5 609v1M1249.5 610v1M1250.5 610v2M1254.5 613v2M1255.5 614v1M1256.5 615v1M1260.5 618v1M1261.5 618v2M1262.5 619v1M1266.5 622v1M1267.5 623v1M1268.5 623v2M1272.5 626v1M1273.5 627v1M1274.5 627v2M1278.5 630v1M1279.5 630v2M1280.5 631v1M1284.5 633v1M1285.5 634v1M1286.5 634v1M1290.5 636v1M1291.5 637v1M1292.5 637v1M1296.5 638v1M1297.5 638v2M1298.5 639v1M1302.5 640v1M1303.5 640v1M1304.5 640v1M1308.5 640v1M1309.5 640v1M1310.5 640v1M1314.5 640v1M1315.5 640v1M1316.5 640v1M1320.5 639v1M1321.5 639v1M1322.5 638v1M1326.5 637v2M1327.5 637v1M1328.5 637v1M1332.5 636v1M1333.5 636v1M1334.5 636v1M1338.5 636v1M1339.5 636v1M1340.5 636v1M1344.5 636v1M1345.5 636v1M1346.5 636v1M1350.5 636v1M1351.5 637v1M1352.5 637v1M1356.5 637v1M1357.5 638v1M1358.5 638v1M1362.5 639v1M1363.5 639v1M1364.5 639v2M1368.5 641v1M1369.5 641v2M1370.5 642v1M1374.5 644v1M1375.5 644v2M1376.5 645v1M1380.5 647v1M1381.5 648v1M1382.5 648v2M1386.5 651v1M1387.5 651v2M1388.5 652v1M1392.5 655v1M1393.5 655v2M1394.5 656v1M1398.5 658v2M1399.5 659v1M1400.5 660v1M1404.5 662v1M1405.5 663v1M1406.5 663v1M1410.5 665v2M1411.5 666v1M1412.5 666v1M1416.5 668v1M1417.5 668v1M1418.5 668v2" fill="none" stroke="#ff0000" stroke-width="1"/>
<text transform="translate(-0.5,593) scale(0.95,1)" font-size="9.8" shape-rendering="auto" style="font-family:'Liberation Sans', 'Noto Sans CJK SC', sans-serif" fill="#000">MACD(12,26,9) -0.0155 0.1063</text>
<rect x="1682" y="582" width="1" height="1" fill="#000"/>
<text transform="translate(1684.5,590.5) scale(0.95,1)" font-size="9.8" shape-rendering="auto" style="font-family:'Liberation Sans', 'Noto Sans CJK SC', sans-serif" fill="#000">1.8026</text>
<rect x="1682" y="674" width="1" height="1" fill="#000"/>
<text transform="translate(1684.5,677.5) scale(0.95,1)" font-size="9.8" shape-rendering="auto" style="font-family:'Liberation Sans', 'Noto Sans CJK SC', sans-serif" fill="#000">0.00</text>
<rect x="1682" y="749" width="1" height="1" fill="#000"/>
<text transform="translate(1684.5,746.5) scale(0.95,1)" font-size="9.8" shape-rendering="auto" style="font-family:'Liberation Sans', 'Noto Sans CJK SC', sans-serif" fill="#000">-1.4717</text>
<line x1="1" y1="788.5" x2="1682" y2="788.5" stroke="#c0c0c0" stroke-width="1" stroke-dasharray="3 3"/>
<line x1="1" y1="839.5" x2="1682" y2="839.5" stroke="#c0c0c0" stroke-width="1" stroke-dasharray="3 3"/>
<line x1="1" y1="900.5" x2="1682" y2="900.5" stroke="#c0c0c0" stroke-width="1" stroke-dasharray="3 3"/>
<path d="M0.5 875v1M1.5 875v2M2.5 876v1M3.5 876v2M4.5 877v1M5.5 877v1M6.5 878v1M7.5 878v1M8.5 878v2M9.5 879v1M10.5 879v1M11.5 879v1M12.5 879v1M13.5 879v1M14.5 879v1M15.5 879v1M16.5 879v1M17.5 879v1M18.5 879v2M19.5 878v2M20.5 877v1M21.5 875v2M22.5 874v2M23.5 872v2M24.5 871v2M25.5 870v1M26.5 868v2M27.5 868v1M28.5 868v2M29.5 869v1M30.5 869v1M31.5 869v1M32.5 869v1M33.5 869v1M34.5 869v1M35.5 869v1M36.5 868v1M37.5 867v2M38.5 867v1M39.5 866v1M40.5 865v1M41.5 864v2M42.5 864v1M43.5 862v2M44.5 860v2M45.5 858v2M46.5 856v2M47.5 854v2M48.5 853v1M49.5 851v2M50.5 849v2M51.5 848v2M52.5 848v1M53.5 848v1M54.5 847v1M55.5 847v1M56.5 846v2M57.5 846v1M58.5 846v1M59.5 845v1M60.5 845v1M61.5 844v2M62.5 844v1M63.5 844v1M64.5 843v1M65.5 843v1M66.5 843v1M67.5 843v1M68.5 843v1M69.5 843v1M70.5 843v1M71.5 843v2M72.5 844v1M73.5 844v1M74.5 844v1M75.5 844v1M76.5 843v2M77.5 843v1M78.5 842v2M79.5 842v1M80.5 841v2M81.5 841v1M82.5 841v1M83.5 840v1M84.5 840v1M85.5 840v1M86.5 839v2M87.5 839v1M88.5 839v1M89.5 839v1M90.5 838v1M91.5 837v2M92.5 835v2M93.5 834v2M94.5 833v1M95.5 831v2M96.5 830v1M97.5 828v2M98.5 827v1M99.5 828v2M100.5 830v2M101.5 832v2M102.5 834v2M103.5 836v2M104.5 838v2M105.5 840v2M106.5 842v2M107.5 842v2M108.5 841v1M109.5 840v1M110.5 839v1M111.5 837v2M112.5 836v2M113.5 835v2M114.5 834v1M115.5 833v2M116.5 833v1M117.5 832v2M118.5 832v1M119.5 831v2M120.5 831v1M121.5 830v2M122.5 830v1M123.5 829v2M124.5 829v1M125.5 828v2M126.5 828v1M127.5 827v1M128.5 827v1M129.5 826v1M130.5 826v1M131.5 826v1M132.5 826v1M133.5 826v1M134.5 826v1M135.5 826v1M136.5 826v1M137.5 826v1M138.5 826v2M139.5 827v1M140.5 827v1M141.5 827v1M142.5 827v1M143.5 827v1M144.5 827v1M145.5 827v1M146.5 827v1M147.5 828v2M148.5 830v2M149.5 832v2M150.5 834v2M151.5 836v2M152.5 838v2M153.5 840v2M154.5 842v2M155.5 842v2M156.5 842v1M157.5 841v2M158.5 841v1M159.5 840v2M160.5 840v1M161.5 839v2M162.5 839v1M163.5 839v2M164.5 840v2M165.5 842v1M166.5 843v1M167.5 844v2M168.5 845v2M169.5 846v2M170.5 847v2M171.5 848v1M172.5 847v1M173.5 847v1M174.5 846v1M175.5 846v1M176.5 845v2M177.5 845v1M178.5 845v1M179.5 844v1M180.5 844v1M181.5 844v1M182.5 844v1M183.5 844v1M184.5 844v1M185.5 844v1M186.5 844v1M187.5 844v1M188.5 843v2M189.5 843v1M190.5 842v2M191.5 842v1M192.5 841v2M193.5 841v1M194.5 841v1M195.5 840v1M196.5 840v1M197.5 840v1M198.5 840v1M199.5 840v1M200.5 840v1M201.5 840v1M202.5 840v1M203.5 838v2M204.5 837v1M205.5 835v2M206.5 834v2M207.5 832v2M208.5 831v2M209.5 830v1M210.5 828v2M211.5 829v1M212.5 829v1M213.5 830v1M214.5 830v1M215.5 831v1M216.5 831v1M217.5 832v1M218.5 832v2M219.5 833v2M220.5 834v2M221.5 835v2M222.5 837v1M223.5 838v1M224.5 839v2M225.5 840v2M226.5 841v2M227.5 842v1M228.5 842v1M229.5 841v1M230.5 841v1M231.5 841v1M232.5 841v1M233.5 840v2M234.5 840v1M235.5 840v2M236.5 841v1M237.5 841v1M238.5 842v1M239.5 842v1M240.5 842v2M241.5 843v1M242.5 843v1M243.5 843v2M244.5 844v1M245.5 844v1M246.5 845v1M247.5 845v1M248.5 845v2M249.5 846v1M250.5 846v1M251.5 847v2M252.5 848v2M253.5 849v2M254.5 851v1M255.5 852v2M256.5 853v2M257.5 854v2M258.5 856v1M259.5 856v2M260.5 857v1M261.5 857v1M262.5 858v1M263.5 858v1M264.5 858v2M265.5 859v1M266.5 859v2M267.5 859v1M268.5 858v1M269.5 857v1M270.5 856v1M271.5 855v1M272.5 854v1M273.5 853v1M274.5 852v1M275.5 852v1M276.5 853v1M277.5 854v1M278.5 854v2M279.5 855v1M280.5 856v1M281.5 856v2M282.5 857v2M283.5 857v1M284.5 857v1M285.5 856v1M286.5 856v1M287.5 855v2M288.5 855v1M289.5 855v1M290.5 854v1M291.5 850v4M292.5 847v3M293.5 844v3M294.5 841v3M295.5 838v3M296.5 835v3M297.5 831v4M298.5 829v2M299.5 830v3M300.5 833v2M301.5 835v3M302.5 838v2M303.5 840v3M304.5 843v2M305.5 845v3M306.5 848v2M307.5 848v2M308.5 847v2M309.5 846v2M310.5 845v2M311.5 844v2M312.5 843v2M313.5 842v2M314.5 841v2M315.5 841v2M316.5 842v1M317.5 842v1M318.5 843v1M319.5 843v1M320.5 843v2M321.5 844v1M322.5 844v1M323.5 844v1M324.5 844v1M325.5 843v1M326.5 843v1M327.5 842v2M328.5 842v1M329.5 842v1M330.5 841v1M331.5 838v3M332.5 835v3M333.5 832v3M334.5 830v2M335.5 827v3M336.5 824v3M337.5 821v3M338.5 819v2M339.5 818v1M340.5 817v2M341.5 816v2M342.5 816v1M343.5 815v1M344.5 814v1M345.5 813v2M346.5 813v1M347.5 813v1M348.5 813v1M349.5 813v1M350.5 813v1M351.5 813v1M352.5 813v1M353.5 814v1M354.5 814v1M355.5 815v2M356.5 817v2M357.5 819v2M358.5 821v2M359.5 823v2M360.5 825v2M361.5 827v2M362.5 829v2M363.5 830v1M364.5 830v1M365.5 830v1M366.5 831v1M367.5 831v1M368.5 831v1M369.5 831v1M370.5 831v1M371.5 831v1M372.5 830v1M373.5 830v1M374.5 829v1M375.5 828v2M376.5 828v1M377.5 827v2M378.5 827v1M379.5 827v1M380.5 827v1M381.5 827v1M382.5 827v2M383.5 828v1M384.5 828v1M385.5 828v1M386.5 828v1M387.5 828v1M388.5 829v1M389.5 829v1M390.5 829v1M391.5 829v1M392.5 829v2M393.5 830v1M394.5 830v1M395.5 830v2M396.5 831v1M397.5 831v2M398.5 832v1M399.5 832v2M400.5 833v1M401.5 833v2M402.5 834v1M403.5 834v2M404.5 835v1M405.5 835v1M406.5 835v1M407.5 835v2M408.5 836v1M409.5 836v1M410.5 836v1M411.5 836v1M412.5 836v1M413.5 835v1M414.5 835v1M415.5 835v1M416.5 834v2M417.5 834v1M418.5 834v1M419.5 833v2M420.5 833v1M421.5 833v1M422.5 832v1M423.5 832v1M424.5 832v1M425.5 831v1M426.5 831v1M427.5 829v2M428.5 828v2M429.5 827v1M430.5 825v2M431.5 824v2M432.5 823v1M433.5 821v2M434.5 820v2M435.5 820v1M436.5 819v1M437.5 819v1M438.5 818v2M439.5 818v1M440.5 818v1M441.5 817v1M442.5 817v1M443.5 817v1M444.5 817v1M445.5 816v1M446.5 816v1M447.5 816v1M448.5 816v1M449.5 816v1M450.5 816v1M451.5 816v2M452.5 817v2M453.5 818v2M454.5 819v2M455.5 820v1M456.5 821v1M457.5 822v1M458.5 823v1M459.5 824v2M460.5 825v2M461.5 827v1M462.5 828v2M463.5 829v2M464.5 830v2M465.5 832v1M466.5 833v2M467.5 833v2M468.5 833v1M469.5 832v2M470.5 832v1M471.5 831v2M472.5 831v1M473.5 830v2M474.5 830v1M475.5 830v1M476.5 829v1M477.5 829v1M478.5 828v1M479.5 828v1M480.5 827v1M481.5 827v1M482.5 826v1M483.5 825v2M484.5 824v2M485.5 823v2M486.5 823v1M487.5 822v1M488.5 821v1M489.5 820v1M490.5 819v1M491.5 819v1M492.5 820v1M493.5 820v1M494.5 821v1M495.5 821v2M496.5 822v1M497.5 822v2M498.5 823v1M499.5 823v1M500.5 823v1M501.5 823v1M502.5 823v1M503.5 823v1M504.5 823v1M505.5 823v1M506.5 823v1M507.5 823v1M508.5 822v2M509.5 822v1M510.5 822v1M511.5 821v1M512.5 821v1M513.5 820v2M514.5 820v1M515.5 820v1M516.5 820v2M517.5 821v1M518.5 821v1M519.5 821v1M520.5 821v2M521.5 822v1M522.5 822v1M523.5 823v2M524.5 825v1M525.5 826v2M526.5 828v2M527.5 830v2M528.5 831v2M529.5 833v2M530.5 835v2M531.5 835v2M532.5 835v1M533.5 834v2M534.5 834v1M535.5 833v2M536.5 833v1M537.5 832v2M538.5 832v1M539.5 832v1M540.5 832v1M541.5 831v2M542.5 831v1M543.5 831v1M544.5 831v1M545.5 831v1M546.5 831v1M547.5 831v2M548.5 833v1M549.5 834v2M550.5 835v2M551.5 837v1M552.5 838v2M553.5 839v2M554.5 841v1M555.5 842v2M556.5 843v2M557.5 845v2M558.5 846v2M559.5 848v2M560.5 849v2M561.5 851v2M562.5 852v2M563.5 852v1M564.5 850v2M565.5 849v2M566.5 848v1M567.5 846v2M568.5 845v1M569.5 843v2M570.5 842v2M571.5 842v1M572.5 842v1M573.5 841v1M574.5 841v1M575.5 841v1M576.5 841v1M577.5 840v1M578.5 840v1M579.5 839v1M580.5 838v1M581.5 837v1M582.5 836v1M583.5 835v1M584.5 833v2M585.5 832v2M586.5 831v2M587.5 831v1M588.5 830v1M589.5 830v1M590.5 829v1M591.5 829v1M592.5 828v1M593.5 828v1M594.5 827v1M595.5 827v1M596.5 826v2M597.5 826v1M598.5 826v1M599.5 825v2M600.5 825v1M601.5 825v1M602.5 825v1M603.5 825v1M604.5 826v1M605.5 827v1M606.5 827v2M607.5 828v2M608.5 829v2M609.5 830v1M610.5 831v1M611.5 832v2M612.5 833v2M613.5 835v1M614.5 836v2M615.5 837v2M616.5 839v1M617.5 840v2M618.5 841v2M619.5 842v1M620.5 841v1M621.5 841v1M622.5 840v1M623.5 840v1M624.5 839v1M625.5 839v1M626.5 838v1M627.5 838v2M628.5 839v1M629.5 839v1M630.5 840v1M631.5 840v1M632.5 840v2M633.5 841v1M634.5 841v1M635.5 840v1M636.5 838v2M637.5 836v2M638.5 835v2M639.5 833v2M640.5 832v1M641.5 830v2M642.5 828v2M643.5 828v1M644.5 827v1M645.5 827v1M646.5 826v1M647.5 825v2M648.5 825v1M649.5 824v2M650.5 824v1M651.5 824v1M652.5 823v2M653.5 823v1M654.5 823v1M655.5 823v1M656.5 823v1M657.5 823v1M658.5 823v1M659.5 823v2M660.5 824v2M661.5 826v1M662.5 827v2M663.5 828v2M664.5 830v1M665.5 831v2M666.5 832v2M667.5 833v1M668.5 833v1M669.5 833v1M670.5 833v1M671.5 833v1M672.5 833v1M673.5 833v1M674.5 833v1M675.5 832v1M676.5 831v1M677.5 830v1M678.5 829v1M679.5 828v1M680.5 827v1M681.5 826v1M682.5 825v1M683.5 824v1M684.5 823v2M685.5 823v1M686.5 822v1M687.5 821v2M688.5 821v1M689.5 820v1M690.5 819v2M691.5 819v1M692.5 819v1M693.5 819v1M694.5 818v1M695.5 818v1M696.5 818v1M697.5 818v1M698.5 818v1M699.5 819v2M700.5 821v2M701.5 823v2M702.5 825v2M703.5 827v3M704.5 830v2M705.5 832v2M706.5 834v2M707.5 835v1M708.5 835v1M709.5 835v1M710.5 835v1M711.5 835v1M712.5 835v1M713.5 835v1M714.5 835v1M715.5 834v2M716.5 834v1M717.5 833v2M718.5 833v1M719.5 832v1M720.5 832v1M721.5 831v1M722.5 831v1M723.5 830v1M724.5 829v2M725.5 829v1M726.5 828v1M727.5 828v1M728.5 827v1M729.5 826v2M730.5 826v1M731.5 826v1M732.5 825v2M733.5 825v1M734.5 825v1M735.5 825v1M736.5 825v1M737.5 825v1M738.5 825v1M739.5 825v1M740.5 825v1M741.5 826v1M742.5 826v1M743.5 826v2M744.5 827v1M745.5 827v2M746.5 828v1M747.5 828v1M748.5 828v1M749.5 827v1M750.5 827v1M751.5 827v1M752.5 827v1M753.5 826v2M754.5 826v1M755.5 825v2M756.5 824v1M757.5 823v1M758.5 822v1M759.5 820v2M760.5 819v2M761.5 818v2M762.5 817v1M763.5 817v1M764.5 817v1M765.5 817v1M766.5 817v1M767.5 817v1M768.5 817v1M769.5 817v1M770.5 817v2M771.5 817v1M772.5 816v2M773.5 816v1M774.5 815v2M775.5 815v1M776.5 814v2M777.5 814v1M778.5 813v2M779.5 814v3M780.5 817v2M781.5 819v2M782.5 821v2M783.5 823v3M784.5 826v2M785.5 828v2M786.5 830v2M787.5 831v1M788.5 831v1M789.5 831v1M790.5 831v1M791.5 831v1M792.5 831v1M793.5 831v1M794.5 831v1M795.5 831v1M796.5 832v1M797.5 832v1M798.5 832v1M799.5 832v1M800.5 832v2M801.5 833v1M802.5 833v1M803.5 832v1M804.5 830v2M805.5 829v2M806.5 828v1M807.5 826v2M808.5 825v2M809.5 824v1M810.5 823v1M811.5 823v1M812.5 823v1M813.5 824v1M814.5 824v1M815.5 825v1M816.5 825v1M817.5 826v1M818.5 826v1M819.5 826v1M820.5 825v1M821.5 824v1M822.5 823v2M823.5 823v1M824.5 822v1M825.5 821v2M826.5 821v1M827.5 820v1M828.5 820v1M829.5 820v1M830.5 820v1M831.5 820v1M832.5 820v1M833.5 820v1M834.5 820v1M835.5 820v1M836.5 820v1M837.5 820v1M838.5 821v1M839.5 821v1M840.5 821v1M841.5 821v1M842.5 821v1M843.5 821v1M844.5 822v1M845.5 822v1M846.5 822v1M847.5 822v1M848.5 822v2M849.5 823v1M850.5 823v1M851.5 822v2M852.5 822v1M853.5 821v1M854.5 820v2M855.5 820v1M856.5 819v1M857.5 818v2M858.5 818v1M859.5 818v1M860.5 818v1M861.5 818v1M862.5 818v1M863.5 818v1M864.5 818v1M865.5 818v1M866.5 818v1M867.5 816v2M868.5 815v2M869.5 814v1M870.5 813v1M871.5 811v2M872.5 810v2M873.5 809v1M874.5 808v1M875.5 807v1M876.5 807v1M877.5 806v1M878.5 806v1M879.5 805v2M880.5 805v1M881.5 805v1M882.5 804v1M883.5 804v2M884.5 805v1M885.5 805v1M886.5 805v1M887.5 805v2M888.5 806v1M889.5 806v1M890.5 806v1M891.5 806v1M892.5 806v1M893.5 806v1M894.5 806v1M895.5 806v1M896.5 806v1M897.5 806v1M898.5 806v1M899.5 806v1M900.5 806v1M901.5 806v1M902.5 806v1M903.5 806v1M904.5 806v1M905.5 806v1M906.5 806v1M907.5 807v1M908.5 807v1M909.5 808v1M910.5 808v1M911.5 809v1M912.5 809v1M913.5 810v1M914.5 810v2M915.5 809v2M916.5 807v2M917.5 806v2M918.5 804v2M919.5 803v2M920.5 801v2M921.5 800v2M922.5 798v2M923.5 798v1M924.5 798v1M925.5 797v1M926.5 797v1M927.5 797v1M928.5 796v1M929.5 796v1M930.5 796v1M931.5 795v1M932.5 795v1M933.5 795v1M934.5 795v1M935.5 795v1M936.5 795v1M937.5 794v1M938.5 794v1M939.5 795v1M940.5 795v1M941.5 796v1M942.5 796v2M943.5 797v1M944.5 797v2M945.5 798v1M946.5 798v2M947.5 799v1M948.5 800v1M949.5 800v1M950.5 801v1M951.5 801v2M952.5 802v1M953.5 802v2M954.5 803v1M955.5 803v1M956.5 803v1M957.5 803v1M958.5 802v1M959.5 802v1M960.5 802v1M961.5 802v1M962.5 801v1M963.5 801v1M964.5 801v1M965.5 801v1M966.5 801v1M967.5 801v1M968.5 801v1M969.5 801v1M970.5 801v1M971.5 800v2M972.5 800v1M973.5 799v1M974.5 798v1M975.5 797v1M976.5 796v1M977.5 795v2M978.5 794v2M979.5 794v1M980.5 794v1M981.5 793v1M982.5 793v1M983.5 792v2M984.5 792v1M985.5 792v1M986.5 791v1M987.5 790v2M988.5 790v1M989.5 789v1M990.5 788v1M991.5 787v1M992.5 786v1M993.5 785v2M994.5 784v2M995.5 784v1M996.5 783v1M997.5 783v1M998.5 782v1M999.5 782v1M1000.5 781v1M1001.5 781v1M1002.5 780v1M1003.5 781v2M1004.5 783v2M1005.5 785v2M1006.5 787v2M1007.5 789v2M1008.5 791v2M1009.5 793v2M1010.5 795v2M1011.5 795v1M1012.5 794v1M1013.5 793v2M1014.5 793v1M1015.5 792v1M1016.5 791v1M1017.5 790v2M1018.5 790v1M1019.5 789v1M1020.5 789v1M1021.5 789v1M1022.5 789v1M1023.5 789v1M1024.5 788v1M1025.5 788v1M1026.5 788v1M1027.5 788v1M1028.5 787v2M1029.5 787v1M1030.5 787v1M1031.5 787v1M1032.5 786v1M1033.5 786v1M1034.5 786v1M1035.5 786v2M1036.5 787v2M1037.5 788v2M1038.5 790v1M1039.5 791v1M1040.5 792v1M1041.5 793v1M1042.5 794v2M1043.5 794v1M1044.5 793v1M1045.5 792v2M1046.5 791v2M1047.5 791v1M1048.5 790v1M1049.5 789v1M1050.5 788v2M1051.5 787v2M1052.5 787v1M1053.5 786v1M1054.5 785v2M1055.5 784v2M1056.5 784v1M1057.5 783v1M1058.5 782v1M1059.5 783v3M1060.5 786v2M1061.5 788v2M1062.5 790v3M1063.5 793v2M1064.5 795v2M1065.5 797v3M1066.5 800v2M1067.5 801v1M1068.5 802v1M1069.5 802v2M1070.5 803v1M1071.5 803v2M1072.5 804v1M1073.5 805v1M1074.5 805v2M1075.5 805v1M1076.5 805v1M1077.5 805v1M1078.5 805v1M1079.5 805v1M1080.5 805v1M1081.5 804v1M1082.5 804v1M1083.5 804v1M1084.5 804v1M1085.5 804v1M1086.5 804v1M1087.5 804v1M1088.5 804v1M1089.5 804v1M1090.5 804v1M1091.5 804v1M1092.5 804v1M1093.5 804v1M1094.5 804v1M1095.5 804v1M1096.5 804v1M1097.5 803v1M1098.5 803v1M1099.5 803v1M1100.5 803v1M1101.5 803v1M1102.5 803v1M1103.5 803v1M1104.5 803v1M1105.5 803v1M1106.5 803v1M1107.5 802v1M1108.5 801v1M1109.5 800v1M1110.5 799v1M1111.5 798v2M1112.5 797v2M1113.5 796v2M1114.5 796v1M1115.5 796v1M1116.5 796v1M1117.5 796v1M1118.5 796v1M1119.5 796v1M1120.5 796v1M1121.5 796v1M1122.5 796v1M1123.5 795v1M1124.5 795v1M1125.5 795v1M1126.5 795v1M1127.5 795v1M1128.5 795v1M1129.5 795v1M1130.5 795v1M1131.5 794v1M1132.5 794v1M1133.5 793v1M1134.5 793v1M1135.5 792v2M1136.5 792v1M1137.5 792v1M1138.5 791v1M1139.5 791v1M1140.5 791v1M1141.5 791v1M1142.5 790v1M1143.5 790v1M1144.5 790v1M1145.5 790v1M1146.5 789v1M1147.5 789v1M1148.5 789v1M1149.5 789v1M1150.5 788v1M1151.5 788v1M1152.5 788v1M1153.5 788v1M1154.5 788v1M1155.5 787v1M1156.5 786v2M1157.5 786v1M1158.5 785v1M1159.5 784v2M1160.5 784v1M1161.5 783v1M1162.5 783v1M1163.5 783v1M1164.5 783v1M1165.5 783v1M1166.5 783v1M1167.5 783v1M1168.5 783v1M1169.5 784v1M1170.5 784v1M1171.5 784v1M1172.5 783v1M1173.5 783v1M1174.5 783v1M1175.5 783v1M1176.5 782v2M1177.5 782v1M1178.5 782v1M1179.5 783v1M1180.5 784v1M1181.5 785v1M1182.5 786v2M1183.5 787v2M1184.5 788v2M1185.5 790v1M1186.5 791v1M1187.5 791v2M1188.5 792v1M1189.5 792v1M1190.5 793v1M1191.5 793v1M1192.5 793v2M1193.5 794v1M1194.5 794v2M1195.5 794v1M1196.5 793v2M1197.5 793v1M1198.5 792v1M1199.5 791v2M1200.5 791v1M1201.5 790v1M1202.5 789v2M1203.5 790v2M1204.5 792v2M1205.5 794v1M1206.5 795v2M1207.5 797v2M1208.5 799v2M1209.5 800v2M1210.5 802v2M1211.5 804v2M1212.5 806v2M1213.5 807v2M1214.5 809v2M1215.5 811v2M1216.5 813v2M1217.5 814v2M1218.5 816v2M1219.5 818v1M1220.5 819v1M1221.5 820v1M1222.5 821v1M1223.5 822v1M1224.5 823v1M1225.5 824v1M1226.5 825v2M1227.5 825v1M1228.5 825v1M1229.5 825v1M1230.5 825v1M1231.5 825v1M1232.5 825v1M1233.5 824v1M1234.5 824v2M1235.5 826v3M1236.5 829v3M1237.5 832v4M1238.5 836v3M1239.5 839v3M1240.5 842v4M1241.5 846v3M1242.5 849v3M1243.5 851v1M1244.5 851v1M1245.5 851v1M1246.5 851v2M1247.5 852v1M1248.5 852v1M1249.5 852v1M1250.5 852v2M1251.5 850v2M1252.5 848v2M1253.5 846v2M1254.5 844v2M1255.5 841v3M1256.5 839v2M1257.5 837v2M1258.5 835v2M1259.5 834v1M1260.5 832v2M1261.5 831v1M1262.5 829v2M1263.5 828v1M1264.5 826v2M1265.5 825v1M1266.5 823v2M1267.5 823v1M1268.5 823v1M1269.5 823v1M1270.5 822v1M1271.5 822v1M1272.5 822v1M1273.5 822v1M1274.5 821v1M1275.5 821v2M1276.5 822v1M1277.5 822v1M1278.5 822v1M1279.5 822v2M1280.5 823v1M1281.5 823v1M1282.5 823v1M1283.5 823v1M1284.5 822v2M1285.5 822v1M1286.5 821v2M1287.5 821v1M1288.5 820v2M1289.5 820v1M1290.5 819v2M1291.5 818v2M1292.5 817v2M1293.5 816v2M1294.5 815v1M1295.5 814v1M1296.5 813v1M1297.5 812v1M1298.5 811v1M1299.5 810v1M1300.5 810v1M1301.5 810v1M1302.5 809v2M1303.5 809v1M1304.5 809v1M1305.5 809v1M1306.5 808v1M1307.5 808v1M1308.5 808v1M1309.5 808v1M1310.5 808v1M1311.5 808v1M1312.5 808v1M1313.5 808v1M1314.5 808v1M1315.5 807v1M1316.5 807v1M1317.5 807v1M1318.5 806v1M1319.5 806v1M1320.5 806v1M1321.5 805v1M1322.5 805v2M1323.5 807v3M1324.5 810v3M1325.5 813v3M1326.5 816v3M1327.5 819v3M1328.5 822v3M1329.5 825v3M1330.5 828v2M1331.5 830v2M1332.5 831v2M1333.5 833v1M1334.5 834v2M1335.5 835v2M1336.5 837v1M1337.5 838v2M1338.5 839v2M1339.5 841v1M1340.5 842v1M1341.5 843v1M1342.5 844v1M1343.5 845v1M1344.5 846v1M1345.5 847v1M1346.5 848v1M1347.5 848v1M1348.5 848v1M1349.5 847v1M1350.5 847v1M1351.5 847v1M1352.5 846v1M1353.5 846v1M1354.5 846v1M1355.5 846v1M1356.5 846v1M1357.5 846v1M1358.5 846v1M1359.5 846v1M1360.5 846v1M1361.5 846v1M1362.5 846v1M1363.5 846v1M1364.5 846v1M1365.5 846v1M1366.5 846v1M1367.5 846v1M1368.5 846v1M1369.5 846v1M1370.5 846v1M1371.5 846v1M1372.5 847v1M1373.5 848v1M1374.5 849v1M1375.5 849v2M1376.5 850v2M1377.5 851v2M1378.5 852v2M1379.5 852v1M1380.5 852v1M1381.5 851v1M1382.5 851v1M1383.5 850v2M1384.5 850v1M1385.5 850v1M1386.5 849v1M1387.5 849v2M1388.5 850v1M1389.5 850v1M1390.5 851v1M1391.5 851v1M1392.5 851v2M1393.5 852v1M1394.5 852v2M1395.5 851v2M1396.5 850v2M1397.5 849v2M1398.5 848v1M1399.5 847v1M1400.5 845v2M1401.5 844v2M1402.5 843v2M1403.5 843v1M1404.5 843v2M1405.5 844v1M1406.5 844v1M1407.5 844v2M1408.5 845v1M1409.5 845v1M1410.5 845v2M1411.5 844v2M1412.5 842v2M1413.5 841v2M1414.5 839v2M1415.5 838v1M1416.5 836v2M1417.5 835v1M1418.5 833v2" fill="none" stroke="#1e90ff" stroke-width="1"/>
<text transform="translate(-1,765) scale(0.95,1)" font-size="9.8" shape-rendering="auto" style="font-family:'Liberation Sans', 'Noto Sans CJK SC', sans-serif" fill="#000">RSI(14) 54.2795</text>
<rect x="1682" y="754" width="1" height="1" fill="#000"/>
<text transform="translate(1684.3,762.5) scale(0.95,1)" font-size="9.8" shape-rendering="auto" style="font-family:'Liberation Sans', 'Noto Sans CJK SC', sans-serif" fill="#000">100</text>
<text transform="translate(1684.3,791.5) scale(0.95,1)" font-size="9.8" shape-rendering="auto" style="font-family:'Liberation Sans', 'Noto Sans CJK SC', sans-serif" fill="#000">80</text>
<text transform="translate(1684.3,842.5) scale(0.95,1)" font-size="9.8" shape-rendering="auto" style="font-family:'Liberation Sans', 'Noto Sans CJK SC', sans-serif" fill="#000">50</text>
<text transform="translate(1684.3,903.5) scale(0.95,1)" font-size="9.8" shape-rendering="auto" style="font-family:'Liberation Sans', 'Noto Sans CJK SC', sans-serif" fill="#000">15</text>
<rect x="1682" y="925" width="1" height="1" fill="#000"/>
<text transform="translate(1684.3,922) scale(0.95,1)" font-size="9.8" shape-rendering="auto" style="font-family:'Liberation Sans', 'Noto Sans CJK SC', sans-serif" fill="#000">0</text>
<text transform="translate(-7,939) scale(0.95,1)" font-size="9.8" shape-rendering="auto" style="font-family:'Liberation Sans', 'Noto Sans CJK SC', sans-serif" fill="#000">20 Sep 2020</text>
<rect x="58" y="927" width="1" height="3" fill="#000"/>
<text transform="translate(57,939) scale(0.95,1)" font-size="9.8" shape-rendering="auto" style="font-family:'Liberation Sans', 'Noto Sans CJK SC', sans-serif" fill="#000">29 Sep 2020</text>
<rect x="122" y="927" width="1" height="3" fill="#000"/>
<text transform="translate(121,939) scale(0.95,1)" font-size="9.8" shape-rendering="auto" style="font-family:'Liberation Sans', 'Noto Sans CJK SC', sans-serif" fill="#000">8 Oct 2020</text>
<rect x="186" y="927" width="1" height="3" fill="#000"/>
<text transform="translate(185,939) scale(0.95,1)" font-size="9.8" shape-rendering="auto" style="font-family:'Liberation Sans', 'Noto Sans CJK SC', sans-serif" fill="#000">18 Oct 2020</text>
<rect x="250" y="927" width="1" height="3" fill="#000"/>
<text transform="translate(249,939) scale(0.95,1)" font-size="9.8" shape-rendering="auto" style="font-family:'Liberation Sans', 'Noto Sans CJK SC', sans-serif" fill="#000">27 Oct 2020</text>
<rect x="314" y="927" width="1" height="3" fill="#000"/>
<text transform="translate(313,939) scale(0.95,1)" font-size="9.8" shape-rendering="auto" style="font-family:'Liberation Sans', 'Noto Sans CJK SC', sans-serif" fill="#000">5 Nov 2020</text>
<rect x="378" y="927" width="1" height="3" fill="#000"/>
<text transform="translate(377,939) scale(0.95,1)" font-size="9.8" shape-rendering="auto" style="font-family:'Liberation Sans', 'Noto Sans CJK SC', sans-serif" fill="#000">15 Nov 2020</text>
<rect x="442" y="927" width="1" height="3" fill="#000"/>
<text transform="translate(441,939) scale(0.95,1)" font-size="9.8" shape-rendering="auto" style="font-family:'Liberation Sans', 'Noto Sans CJK SC', sans-serif" fill="#000">24 Nov 2020</text>
<rect x="506" y="927" width="1" height="3" fill="#000"/>
<text transform="translate(505,939) scale(0.95,1)" font-size="9.8" shape-rendering="auto" style="font-family:'Liberation Sans', 'Noto Sans CJK SC', sans-serif" fill="#000">3 Dec 2020</text>
<rect x="570" y="927" width="1" height="3" fill="#000"/>
<text transform="translate(569,939) scale(0.95,1)" font-size="9.8" shape-rendering="auto" style="font-family:'Liberation Sans', 'Noto Sans CJK SC', sans-serif" fill="#000">13 Dec 2020</text>
<rect x="634" y="927" width="1" height="3" fill="#000"/>
<text transform="translate(633,939) scale(0.95,1)" font-size="9.8" shape-rendering="auto" style="font-family:'Liberation Sans', 'Noto Sans CJK SC', sans-serif" fill="#000">22 Dec 2020</text>
<rect x="698" y="927" width="1" height="3" fill="#000"/>
<text transform="translate(697,939) scale(0.95,1)" font-size="9.8" shape-rendering="auto" style="font-family:'Liberation Sans', 'Noto Sans CJK SC', sans-serif" fill="#000">3 Jan 2021</text>
<rect x="762" y="927" width="1" height="3" fill="#000"/>
<text transform="translate(761,939) scale(0.95,1)" font-size="9.8" shape-rendering="auto" style="font-family:'Liberation Sans', 'Noto Sans CJK SC', sans-serif" fill="#000">12 Jan 2021</text>
<rect x="826" y="927" width="1" height="3" fill="#000"/>
<text transform="translate(825,939) scale(0.95,1)" font-size="9.8" shape-rendering="auto" style="font-family:'Liberation Sans', 'Noto Sans CJK SC', sans-serif" fill="#000">21 Jan 2021</text>
<rect x="890" y="927" width="1" height="3" fill="#000"/>
<text transform="translate(889,939) scale(0.95,1)" font-size="9.8" shape-rendering="auto" style="font-family:'Liberation Sans', 'Noto Sans CJK SC', sans-serif" fill="#000">31 Jan 2021</text>
<rect x="954" y="927" width="1" height="3" fill="#000"/>
<text transform="translate(953,939) scale(0.95,1)" font-size="9.8" shape-rendering="auto" style="font-family:'Liberation Sans', 'Noto Sans CJK SC', sans-serif" fill="#000">9 Feb 2021</text>
<rect x="1018" y="927" width="1" height="3" fill="#000"/>
<text transform="translate(1017,939) scale(0.95,1)" font-size="9.8" shape-rendering="auto" style="font-family:'Liberation Sans', 'Noto Sans CJK SC', sans-serif" fill="#000">18 Feb 2021</text>
<rect x="1082" y="927" width="1" height="3" fill="#000"/>
<text transform="translate(1081,939) scale(0.95,1)" font-size="9.8" shape-rendering="auto" style="font-family:'Liberation Sans', 'Noto Sans CJK SC', sans-serif" fill="#000">28 Feb 2021</text>
<rect x="1146" y="927" width="1" height="3" fill="#000"/>
<text transform="translate(1145,939) scale(0.95,1)" font-size="9.8" shape-rendering="auto" style="font-family:'Liberation Sans', 'Noto Sans CJK SC', sans-serif" fill="#000">9 Mar 2021</text>
<rect x="1210" y="927" width="1" height="3" fill="#000"/>
<text transform="translate(1209,939) scale(0.95,1)" font-size="9.8" shape-rendering="auto" style="font-family:'Liberation Sans', 'Noto Sans CJK SC', sans-serif" fill="#000">18 Mar 2021</text>
<rect x="1274" y="927" width="1" height="3" fill="#000"/>
<text transform="translate(1273,939) scale(0.95,1)" font-size="9.8" shape-rendering="auto" style="font-family:'Liberation Sans', 'Noto Sans CJK SC', sans-serif" fill="#000">28 Mar 2021</text>
<rect x="1338" y="927" width="1" height="3" fill="#000"/>
<text transform="translate(1337,939) scale(0.95,1)" font-size="9.8" shape-rendering="auto" style="font-family:'Liberation Sans', 'Noto Sans CJK SC', sans-serif" fill="#000">7 Apr 2021</text>
<rect x="1402" y="927" width="1" height="3" fill="#000"/>
<text transform="translate(1401,939) scale(0.95,1)" font-size="9.8" shape-rendering="auto" style="font-family:'Liberation Sans', 'Noto Sans CJK SC', sans-serif" fill="#000">16 Apr 2021</text>
<g shape-rendering="auto">
<rect x="0" y="0" width="1728" height="20" fill="#f0f0f0" shape-rendering="crispEdges"/>
<rect x="0" y="20" width="1728" height="1" fill="#e2e2e2" shape-rendering="crispEdges"/>
<rect x="0" y="21" width="1728" height="1" fill="#b4b4b4" shape-rendering="crispEdges"/>
<rect x="0" y="22" width="1728" height="1" fill="#868686" shape-rendering="crispEdges"/>
<rect x="0" y="23" width="1728" height="2" fill="#ffffff" shape-rendering="crispEdges"/>
<rect x="-3" y="2.5" width="7.5" height="13" rx="1" fill="#fff" stroke="#3a78c8" stroke-width="1.2"/>
<rect x="0" y="5" width="3.5" height="1" fill="#a8c4f0"/>
<rect x="0" y="7" width="3.5" height="1" fill="#a8c4f0"/>
<rect x="0" y="9" width="3.5" height="1" fill="#a8c4f0"/>
<rect x="0" y="11" width="3.5" height="1" fill="#a8c4f0"/>
<rect x="0" y="13" width="3.5" height="1" fill="#a8c4f0"/>
<path d="M9,15h1v1h-1z M8,16h1v1h-1z M10,16h1v1h-1z M9,17h1v1h-1z" fill="#000" shape-rendering="crispEdges"/>
<rect x="17.5" y="1.5" width="12" height="13" rx="1" fill="#fff" stroke="#c8b8a0" stroke-width="1"/>
<path d="M20,4 V10 M27,4 V9" stroke="#8098b0" stroke-width="1"/>
<line x1="29" y1="14" x2="33.5" y2="18" stroke="#c89818" stroke-width="2.4"/>
<circle cx="25" cy="10" r="4.8" fill="#d4e6f8" fill-opacity="0.85" stroke="#78a8e0" stroke-width="1.2"/>
<path d="M24,7.5 q2,2.5 0,5" stroke="#90a8c0" stroke-width="1.5" fill="none"/>
<rect x="42" y="0" width="1" height="19" fill="#a0a0a0" shape-rendering="crispEdges"/>
<path d="M52.5,2.5 H60.5 L63.5,5.5 V14.5 H52.5 Z" fill="#fff" stroke="#707070" stroke-width="1"/>
<path d="M60.5,2.5 V5.5 H63.5" fill="none" stroke="#707070" stroke-width="1"/>
<path d="M54.5,5.5 H58 M54.5,8.5 H61 M54.5,10.5 H58" stroke="#909090" stroke-width="1"/>
<path d="M60,7.5 H63.5 V11.5 H67.5 V15 H63.5 V18.5 H60 V15 H56 V11.5 H60 Z" fill="#22c830" stroke="#0a8a14" stroke-width="0.9"/>
<text x="70.5" y="13" font-size="12" fill="#000" style="font-family:'Liberation Sans', 'Noto Sans CJK SC', sans-serif" textLength="36.5" lengthAdjust="spacingAndGlyphs">新订单</text>
<defs><linearGradient id="gbook" x1="0" y1="0" x2="1" y2="1"><stop offset="0" stop-color="#f0c030"/><stop offset="0.45" stop-color="#fae060"/><stop offset="1" stop-color="#d09818"/></linearGradient></defs>
<path d="M119.3,12 L126.8,17.6 L134.6,10.8 L134.6,9.2 L126.8,15.6 L119.3,10.6 Z" fill="#b07818" stroke="#8a5a08" stroke-width="0.5"/>
<path d="M125,2.2 L134.4,9.4 L126.9,15.8 L119.3,11 Q119.8,8.6 122,6.6 Q124,4.6 125,2.2 Z" fill="url(#gbook)" stroke="#a87410" stroke-width="0.9"/>
<path d="M149.5,3 L152,1.4 L159.8,1.4 L159.8,10.5 L149.5,10.5 Z" fill="#1e80f0" stroke="#1868d0" stroke-width="0.7"/>
<path d="M149.5,3 L152,1.4 L152,10.5 L149.5,10.5 Z" fill="#78c0ff"/>
<rect x="153.2" y="4.6" width="5.6" height="3.2" fill="#d8ecff"/>
<rect x="154.5" y="5.8" width="3.5" height="0.9" fill="#2878e0"/>
<circle cx="150.3" cy="14.1" r="3.1999999999999997" fill="#5070b0"/>
<circle cx="153.9" cy="12.6" r="3.8" fill="#5070b0"/>
<circle cx="158.2" cy="12.9" r="3.5" fill="#5070b0"/>
<circle cx="160.6" cy="14.4" r="2.9" fill="#5070b0"/>
<rect x="150.3" y="13.5" width="10.3" height="3.8" fill="#5070b0"/>
<circle cx="150.3" cy="14.1" r="2.3" fill="#eef2fa"/>
<circle cx="153.9" cy="12.6" r="2.9" fill="#eef2fa"/>
<circle cx="158.2" cy="12.9" r="2.6" fill="#eef2fa"/>
<circle cx="160.6" cy="14.4" r="2.0" fill="#eef2fa"/>
<rect x="150.3" y="13.5" width="10.3" height="2.9" fill="#eef2fa"/>
<path d="M149.5,15.6 Q155,17.2 161.5,15.6 L161.5,16.2 L149.5,16.2 Z" fill="#b8c4dc"/>
<defs><radialGradient id="gsig" cx="0.5" cy="0.5" r="0.5"><stop offset="0" stop-color="#78c088"/><stop offset="0.6" stop-color="#a8d4b0"/><stop offset="1" stop-color="#d8ecd8"/></radialGradient></defs>
<path d="M183,0.8 A7.8,7.8 0 0 1 183,16.4 Z" fill="url(#gsig)"/>
<path d="M183,0.8 A7.8,7.8 0 0 1 183,16.4" fill="none" stroke="#9cc8a4" stroke-width="1"/>
<path d="M183,3.6 A5,5 0 0 1 183,13.6" fill="none" stroke="#68b078" stroke-width="1"/>
<path d="M183,0.8 A7.8,7.8 0 0 0 183,16.4" fill="none" stroke="#a0b8e8" stroke-width="1.1"/>
<path d="M183,3.6 A5,5 0 0 0 183,13.6" fill="none" stroke="#5888e0" stroke-width="1.2"/>
<circle cx="182.8" cy="8.4" r="2" fill="#2858d0"/>
<rect x="182.5" y="9.2" width="1.5" height="7.4" fill="#20b030"/>
<defs><linearGradient id="gface" x1="0" y1="0" x2="1" y2="1"><stop offset="0" stop-color="#fff080"/><stop offset="1" stop-color="#e8b020"/></linearGradient></defs>
<path d="M203,7.6 L217.6,7.6 L214,13 L210.3,16.8 Z" fill="url(#gface)" stroke="#d0a018" stroke-width="0.6"/>
<ellipse cx="210.3" cy="6.3" rx="8" ry="2.5" fill="#4898d8" stroke="#2f78b8" stroke-width="0.7"/>
<ellipse cx="210.3" cy="4" rx="4.6" ry="2.8" fill="#70b8ec" stroke="#3a80c0" stroke-width="0.7"/>
<circle cx="214.4" cy="12.6" r="4.1" fill="#e02010"/>
<circle cx="214.4" cy="12.6" r="4.1" fill="none" stroke="#c01808" stroke-width="0.6"/>
<rect x="212.9" y="11.1" width="3" height="3" fill="#fff"/>
<text x="223.5" y="13" font-size="12" fill="#000" style="font-family:'Liberation Sans', 'Noto Sans CJK SC', sans-serif" textLength="47" lengthAdjust="spacingAndGlyphs">自动交易</text>
<rect x="278" y="0" width="1" height="21" fill="#a0a0a0" shape-rendering="crispEdges"/>
<rect x="282" y="1" width="3" height="1" fill="#a6a6a6" shape-rendering="crispEdges"/>
<rect x="282" y="3" width="3" height="1" fill="#a6a6a6" shape-rendering="crispEdges"/>
<rect x="282" y="5" width="3" height="1" fill="#a6a6a6" shape-rendering="crispEdges"/>
<rect x="282" y="7" width="3" height="1" fill="#a6a6a6" shape-rendering="crispEdges"/>
<rect x="282" y="9" width="3" height="1" fill="#a6a6a6" shape-rendering="crispEdges"/>
<rect x="282" y="11" width="3" height="1" fill="#a6a6a6" shape-rendering="crispEdges"/>
<rect x="282" y="13" width="3" height="1" fill="#a6a6a6" shape-rendering="crispEdges"/>
<rect x="282" y="15" width="3" height="1" fill="#a6a6a6" shape-rendering="crispEdges"/>
<rect x="282" y="17" width="3" height="1" fill="#a6a6a6" shape-rendering="crispEdges"/>
<path d="M296.5,3.5 V16.5 M294,14.5 H307" stroke="#505050" stroke-width="1.2" fill="none"/>
<polygon points="296.5,2.3 294.7,5 298.3,5" fill="#505050"/>
<polygon points="308.2,14.5 305.5,12.7 305.5,16.3" fill="#505050"/>
<path d="M302.7,4.5 V12.5 M302.7,5.5 H305.5 M302.7,11.5 H300" stroke="#1a8a1a" stroke-width="1.4" fill="none"/>
<rect x="316" y="0" width="1" height="19" fill="#a0a0a0" shape-rendering="crispEdges"/>
<rect x="317" y="0" width="24" height="19" fill="#f7f7f7" shape-rendering="crispEdges"/>
<path d="M324.5,3.5 V16.5 M322,14.5 H335" stroke="#505050" stroke-width="1.2" fill="none"/>
<polygon points="324.5,2.3 322.7,5 326.3,5" fill="#505050"/>
<polygon points="336.2,14.5 333.5,12.7 333.5,16.3" fill="#505050"/>
<path d="M330.5,1.5 V12.8" stroke="#108010" stroke-width="1.2"/>
<rect x="328.5" y="3.5" width="4.2" height="7" fill="#38e048" stroke="#108010" stroke-width="1"/>
<path d="M352.5,3.5 V16.5 M350,14.5 H363" stroke="#505050" stroke-width="1.2" fill="none"/>
<polygon points="352.5,2.3 350.7,5 354.3,5" fill="#505050"/>
<polygon points="364.2,14.5 361.5,12.7 361.5,16.3" fill="#505050"/>
<path d="M351.5,11.5 C354,9 355.5,6 357.5,6 C359.5,6 360.5,9 362.5,10.5" stroke="#1a8a1a" stroke-width="1.3" fill="none"/>
<rect x="373" y="0" width="1" height="19" fill="#a0a0a0" shape-rendering="crispEdges"/>
<line x1="392.2" y1="10.8" x2="397.0" y2="15.5" stroke="#a88010" stroke-width="3"/>
<line x1="392.5" y1="11" x2="396.7" y2="15.2" stroke="#f0d048" stroke-width="1.6"/>
<circle cx="388.5" cy="6.8" r="5.3" fill="#d4e8fa" stroke="#3878c8" stroke-width="1.3"/>
<rect x="385.5" y="6" width="6" height="1.7" fill="#3a78c0"/>
<rect x="387.65" y="3.8" width="1.7" height="6" fill="#3a78c0"/>
<line x1="420.0" y1="10.8" x2="424.8" y2="15.5" stroke="#a88010" stroke-width="3"/>
<line x1="420.3" y1="11" x2="424.5" y2="15.2" stroke="#f0d048" stroke-width="1.6"/>
<circle cx="416.3" cy="6.8" r="5.3" fill="#d4e8fa" stroke="#3878c8" stroke-width="1.3"/>
<rect x="413.3" y="6" width="6" height="1.7" fill="#3a78c0"/>
<rect x="438" y="1" width="8" height="8" fill="#3a9a20"/>
<rect x="439.5" y="4" width="5" height="3.5" fill="#f0f6ff"/>
<rect x="446" y="1" width="8" height="8" fill="#2050c8"/>
<rect x="447.5" y="4" width="5" height="3.5" fill="#f0f6ff"/>
<rect x="438" y="9" width="8" height="8" fill="#2050c8"/>
<rect x="439.5" y="12" width="5" height="3.5" fill="#f0f6ff"/>
<rect x="446" y="9" width="8" height="8" fill="#3a9a20"/>
<rect x="447.5" y="12" width="5" height="3.5" fill="#f0f6ff"/>
<rect x="463" y="0" width="1" height="19" fill="#a0a0a0" shape-rendering="crispEdges"/>
<rect x="468" y="0" width="1" height="19" fill="#a0a0a0" shape-rendering="crispEdges"/>
<rect x="469" y="0" width="24" height="19" fill="#f7f7f7" shape-rendering="crispEdges"/>
<path d="M476.5,3.5 V16.5 M474,14.5 H487" stroke="#505050" stroke-width="1.2" fill="none"/>
<polygon points="476.5,2.3 474.7,5 478.3,5" fill="#505050"/>
<polygon points="488.2,14.5 485.5,12.7 485.5,16.3" fill="#505050"/>
<path d="M481.5,5 V11.5 L485,8.3 Z" fill="#c8f0c8" stroke="#20a030" stroke-width="1.2"/>
<rect x="496" y="0" width="1" height="19" fill="#a0a0a0" shape-rendering="crispEdges"/>
<rect x="497" y="0" width="24" height="19" fill="#f7f7f7" shape-rendering="crispEdges"/>
<path d="M504.5,3.5 V16.5 M502,14.5 H515" stroke="#505050" stroke-width="1.2" fill="none"/>
<polygon points="504.5,2.3 502.7,5 506.3,5" fill="#505050"/>
<polygon points="516.2,14.5 513.5,12.7 513.5,16.3" fill="#505050"/>
<rect x="510" y="3" width="1.3" height="9.8" fill="#2070b0"/>
<path d="M511.5,8.4 H516 M511.5,8.4 L514,6.5 M511.5,8.4 L514,10.3" stroke="#e05010" stroke-width="1.2" fill="none"/>
<rect x="525" y="0" width="1" height="19" fill="#a0a0a0" shape-rendering="crispEdges"/>
<path d="M535.5,1.5 H543.5 L546.5,4.5 V14.5 H535.5 Z" fill="#fff" stroke="#909090" stroke-width="1"/>
<text x="538" y="10.5" font-size="9" font-style="italic" fill="#605030" style="font-family:'Liberation Serif',serif">f</text>
<path d="M543.3,7.3 H546.8 V11.3 H550.8 V14.8 H546.8 V18.8 H543.3 V14.8 H539.3 V11.3 H543.3 Z" fill="#22c830" stroke="#0a8a14" stroke-width="0.9"/>
<polygon points="556.5,8 562.5,8 559.5,11.5" fill="#000"/>
<circle cx="581" cy="8.8" r="6.6" fill="#f4f8ff" stroke="#1a64d0" stroke-width="2.5"/>
<path d="M581,4.8 V9.2 H584" stroke="#303030" stroke-width="1.1" fill="none"/>
<polygon points="595.4,8 601.4,8 598.4,11.5" fill="#000"/>
<rect x="612.5" y="2.5" width="15" height="13" fill="#fff" stroke="#3a6cc0" stroke-width="1"/>
<rect x="612.5" y="2.5" width="15" height="2.2" fill="#4a7cd0"/>
<path d="M614.5,8.5 L617.5,7.2 L620,7.8 L622.5,6.5 L625.5,6.8" stroke="#b02810" stroke-width="1.2" fill="none"/>
<path d="M614.5,13 L617.5,12 L619.5,13 L622.5,11 L625.5,13" stroke="#189028" stroke-width="1.2" fill="none"/>
<rect x="613" y="9.5" width="14" height="0.8" fill="#a8c0e8"/>
<polygon points="634.5,8 640.5,8 637.5,11.5" fill="#000"/>
<rect x="646" y="0" width="1" height="21" fill="#a0a0a0" shape-rendering="crispEdges"/>
<rect x="650" y="1" width="3" height="1" fill="#a6a6a6" shape-rendering="crispEdges"/>
<rect x="650" y="3" width="3" height="1" fill="#a6a6a6" shape-rendering="crispEdges"/>
<rect x="650" y="5" width="3" height="1" fill="#a6a6a6" shape-rendering="crispEdges"/>
<rect x="650" y="7" width="3" height="1" fill="#a6a6a6" shape-rendering="crispEdges"/>
<rect x="650" y="9" width="3" height="1" fill="#a6a6a6" shape-rendering="crispEdges"/>
<rect x="650" y="11" width="3" height="1" fill="#a6a6a6" shape-rendering="crispEdges"/>
<rect x="650" y="13" width="3" height="1" fill="#a6a6a6" shape-rendering="crispEdges"/>
<rect x="650" y="15" width="3" height="1" fill="#a6a6a6" shape-rendering="crispEdges"/>
<rect x="650" y="17" width="3" height="1" fill="#a6a6a6" shape-rendering="crispEdges"/>
<rect x="656" y="0" width="1" height="19" fill="#a0a0a0" shape-rendering="crispEdges"/>
<rect x="657" y="0" width="24" height="19" fill="#f7f7f7" shape-rendering="crispEdges"/>
<path d="M664,2 V13.5 L666.6,11 L669,16 L671,15 L668.7,10.2 L672.3,10.2 Z" fill="#404040"/>
<path d="M689,9.5 H704 M696.5,2 V17" stroke="#404040" stroke-width="1" shape-rendering="crispEdges"/>
<rect x="713" y="0" width="1" height="19" fill="#a0a0a0" shape-rendering="crispEdges"/>
<rect x="730" y="3" width="1" height="13" fill="#404040" shape-rendering="crispEdges"/>
<rect x="753" y="9" width="12" height="1" fill="#404040" shape-rendering="crispEdges"/>
<line x1="781" y1="15.7" x2="793" y2="3.8" stroke="#404040" stroke-width="1.1"/>
<path d="M807,11 L819,2.5 M811,16 L821,8 M808.5,15 L810.5,9.5 M811.5,13 L813.5,7 M815,11 L817,5 M818,9 L819.5,1.5" stroke="#404040" stroke-width="0.9" fill="none"/>
<text x="817.7" y="18" font-size="6.5" font-weight="bold" fill="#303030" style="font-family:'Liberation Sans', 'Noto Sans CJK SC', sans-serif">E</text>
<line x1="836" y1="2.5" x2="849" y2="2.5" stroke="#404040" stroke-width="1" stroke-dasharray="1 1" shape-rendering="crispEdges"/>
<line x1="836" y1="5.5" x2="849" y2="5.5" stroke="#404040" stroke-width="1" stroke-dasharray="1 1" shape-rendering="crispEdges"/>
<line x1="836" y1="9.5" x2="849" y2="9.5" stroke="#404040" stroke-width="1" stroke-dasharray="1 1" shape-rendering="crispEdges"/>
<line x1="836" y1="13.5" x2="845" y2="13.5" stroke="#404040" stroke-width="1" stroke-dasharray="1 1" shape-rendering="crispEdges"/>
<text x="846" y="18" font-size="6.5" font-weight="bold" fill="#303030" style="font-family:'Liberation Sans', 'Noto Sans CJK SC', sans-serif">F</text>
<text x="870.7" y="14" font-size="12.5" fill="#404040" stroke="#404040" stroke-width="0.3" text-anchor="middle" style="font-family:'Liberation Sans', 'Noto Sans CJK SC', sans-serif">A</text>
<rect x="893.5" y="3.5" width="11" height="12" fill="none" stroke="#404040" stroke-width="1" stroke-dasharray="1 1.2" shape-rendering="crispEdges"/>
<text x="899" y="14" font-size="11" fill="#404040" stroke="#404040" stroke-width="0.3" text-anchor="middle" style="font-family:'Liberation Sans', 'Noto Sans CJK SC', sans-serif">T</text>
<path d="M923.5,2.5 L926.5,5.5 L923.5,8 L920.5,5.5 Z M930.5,10.5 L933.8,13.3 L930.5,16 L927.2,13.3 Z" fill="#404040"/>
<path d="M922.5,9.5 L925,12.5 L929,6.5" stroke="#404040" stroke-width="1.2" fill="none"/>
<polygon points="940.5,8 946.5,8 943.5,11.5" fill="#000"/>
<rect x="952" y="0" width="1" height="21" fill="#a0a0a0" shape-rendering="crispEdges"/>
<rect x="956" y="1" width="3" height="1" fill="#a6a6a6" shape-rendering="crispEdges"/>
<rect x="956" y="3" width="3" height="1" fill="#a6a6a6" shape-rendering="crispEdges"/>
<rect x="956" y="5" width="3" height="1" fill="#a6a6a6" shape-rendering="crispEdges"/>
<rect x="956" y="7" width="3" height="1" fill="#a6a6a6" shape-rendering="crispEdges"/>
<rect x="956" y="9" width="3" height="1" fill="#a6a6a6" shape-rendering="crispEdges"/>
<rect x="956" y="11" width="3" height="1" fill="#a6a6a6" shape-rendering="crispEdges"/>
<rect x="956" y="13" width="3" height="1" fill="#a6a6a6" shape-rendering="crispEdges"/>
<rect x="956" y="15" width="3" height="1" fill="#a6a6a6" shape-rendering="crispEdges"/>
<rect x="956" y="17" width="3" height="1" fill="#a6a6a6" shape-rendering="crispEdges"/>
<rect x="1131" y="0" width="24" height="19" fill="#f7f7f7" shape-rendering="crispEdges"/>
<rect x="1130" y="0" width="1" height="19" fill="#a0a0a0" shape-rendering="crispEdges"/>
<text x="967.5" y="13" font-size="9.6" fill="#404040" style="font-family:'Liberation Sans', 'Noto Sans CJK SC', sans-serif" textLength="12.5" lengthAdjust="spacingAndGlyphs">M1</text>
<text x="995.5" y="13" font-size="9.6" fill="#404040" style="font-family:'Liberation Sans', 'Noto Sans CJK SC', sans-serif" textLength="12.5" lengthAdjust="spacingAndGlyphs">M5</text>
<text x="1021.5" y="13" font-size="9.6" fill="#404040" style="font-family:'Liberation Sans', 'Noto Sans CJK SC', sans-serif" textLength="17.5" lengthAdjust="spacingAndGlyphs">M15</text>
<text x="1049.3" y="13" font-size="9.6" fill="#404040" style="font-family:'Liberation Sans', 'Noto Sans CJK SC', sans-serif" textLength="18.0" lengthAdjust="spacingAndGlyphs">M30</text>
<text x="1080.7" y="13" font-size="9.6" fill="#404040" style="font-family:'Liberation Sans', 'Noto Sans CJK SC', sans-serif" textLength="11.5" lengthAdjust="spacingAndGlyphs">H1</text>
<text x="1107.6" y="13" font-size="9.6" fill="#404040" style="font-family:'Liberation Sans', 'Noto Sans CJK SC', sans-serif" textLength="12.4" lengthAdjust="spacingAndGlyphs">H4</text>
<text x="1136.8" y="13" font-size="9.6" fill="#404040" style="font-family:'Liberation Sans', 'Noto Sans CJK SC', sans-serif" textLength="11.5" lengthAdjust="spacingAndGlyphs">D1</text>
<text x="1164.2" y="13" font-size="9.6" fill="#404040" style="font-family:'Liberation Sans', 'Noto Sans CJK SC', sans-serif" textLength="13.8" lengthAdjust="spacingAndGlyphs">W1</text>
<text x="1190.6" y="13" font-size="9.6" fill="#404040" style="font-family:'Liberation Sans', 'Noto Sans CJK SC', sans-serif" textLength="14.7" lengthAdjust="spacingAndGlyphs">MN</text>
<rect x="1213" y="0" width="1" height="21" fill="#a0a0a0" shape-rendering="crispEdges"/>
<line x1="1680.5" y1="9.3" x2="1675.8" y2="13.8" stroke="#1850c8" stroke-width="2.2"/>
<circle cx="1683.5" cy="6.4" r="4.1" fill="#fcfcff" stroke="#2868e0" stroke-width="1.3"/>
<path d="M1700.3,10.5 a5.6,4.4 0 1 1 5,4.6 l-2.2,2.3 l-0.3,-2.8 a5.6,4.4 0 0 1 -2.5,-4.1 Z" fill="#e8eaf0" stroke="#b4b4b4" stroke-width="0.9"/>
<defs><linearGradient id="bdg" x1="0" y1="0" x2="0" y2="1"><stop offset="0" stop-color="#ec5838"/><stop offset="1" stop-color="#cc2010"/></linearGradient></defs>
<circle cx="1714.6" cy="6.6" r="8" fill="url(#bdg)"/>
<text x="1714.3" y="10.8" font-size="12" font-weight="bold" fill="#fff" text-anchor="middle" style="font-family:'Liberation Serif',serif">1</text>
</g>
<rect x="1727" y="23" width="1" height="921" fill="#d9d9d9"/>
<defs>
<linearGradient id="gtab" x1="0" y1="0" x2="0" y2="1"><stop offset="0" stop-color="#5454fc"/><stop offset="1" stop-color="#3a3ae0"/></linearGradient>
<linearGradient id="gmain" x1="0" y1="0" x2="0" y2="1"><stop offset="0" stop-color="#3838e2"/><stop offset="0.55" stop-color="#1c1cce"/><stop offset="1" stop-color="#0000ae"/></linearGradient>
<linearGradient id="gbtn" x1="0" y1="0" x2="0" y2="1"><stop offset="0" stop-color="#f2f2f2"/><stop offset="0.5" stop-color="#e0e0e0"/><stop offset="0.5" stop-color="#d4d4d4"/><stop offset="1" stop-color="#cccccc"/></linearGradient>
</defs>
<rect x="0" y="44" width="218" height="66" fill="#fff"/>
<rect x="0" y="45" width="49" height="25" fill="url(#gtab)"/>
<rect x="164" y="45" width="52" height="25" fill="url(#gtab)"/>
<rect x="0" y="69" width="106" height="40" fill="url(#gmain)"/>
<rect x="108" y="69" width="108" height="40" fill="url(#gmain)"/>
<rect x="1" y="68" width="44" height="1" fill="#2424b4"/>
<rect x="168" y="68" width="44" height="1" fill="#2424b4"/>
<rect x="0" y="45" width="49" height="1" fill="#3c3cd8"/>
<rect x="164" y="45" width="52" height="1" fill="#3c3cd8"/>
<rect x="1" y="69" width="44" height="1" fill="#7474f4"/>
<rect x="168" y="69" width="44" height="1" fill="#7474f4"/>
<rect x="51.5" y="45.5" width="110" height="21" fill="#fff" stroke="#b8b8b8" stroke-width="1"/>
<rect x="53" y="47" width="19" height="18" fill="url(#gbtn)"/>
<rect x="72" y="46" width="1" height="20" fill="#b8b8b8"/>
<rect x="141" y="47" width="19" height="18" fill="url(#gbtn)"/>
<rect x="140" y="46" width="1" height="20" fill="#b8b8b8"/>
<g shape-rendering="auto">
<polygon points="58.7,54 63.7,54 61.2,57" fill="#4a60c8"/>
<polygon points="148,57 153,57 150.5,54" fill="#4a60c8"/>
<text x="137" y="59.8" font-size="12" fill="#000" text-anchor="end" style="font-family:'Liberation Sans', 'Noto Sans CJK SC', sans-serif">1.00</text>
<text x="9.5" y="61" font-size="12.7" fill="#fff" style="font-family:'Liberation Sans', 'Noto Sans CJK SC', sans-serif" textLength="25.5" lengthAdjust="spacingAndGlyphs">SELL</text>
<text x="177.5" y="61" font-size="12.7" fill="#fff" style="font-family:'Liberation Sans', 'Noto Sans CJK SC', sans-serif" textLength="23.5" lengthAdjust="spacingAndGlyphs">BUY</text>
<text x="20.5" y="100" font-size="12.2" font-weight="bold" fill="#fff" style="font-family:'Liberation Sans', 'Noto Sans CJK SC', sans-serif" textLength="20.5" lengthAdjust="spacingAndGlyphs">151</text>
<text x="45.5" y="100" font-size="33" fill="#fff" style="font-family:'Liberation Sans', 'Noto Sans CJK SC', sans-serif" textLength="33" lengthAdjust="spacingAndGlyphs">15</text>
<text x="84.3" y="83.7" font-size="11.6" font-weight="bold" fill="#fff" style="font-family:'Liberation Sans', 'Noto Sans CJK SC', sans-serif">7</text>
<text x="130.6" y="100" font-size="12.2" font-weight="bold" fill="#fff" style="font-family:'Liberation Sans', 'Noto Sans CJK SC', sans-serif" textLength="20.5" lengthAdjust="spacingAndGlyphs">151</text>
<text x="156" y="100" font-size="33" fill="#fff" style="font-family:'Liberation Sans', 'Noto Sans CJK SC', sans-serif" textLength="34.5" lengthAdjust="spacingAndGlyphs">34</text>
<text x="195.8" y="83.7" font-size="11.6" font-weight="bold" fill="#fff" style="font-family:'Liberation Sans', 'Noto Sans CJK SC', sans-serif">5</text>
</g>
</svg>
</body></html>
